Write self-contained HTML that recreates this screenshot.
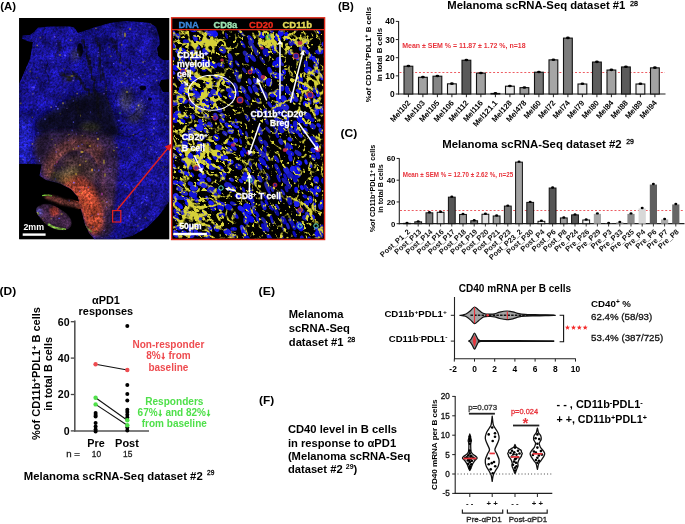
<!DOCTYPE html>
<html><head><meta charset="utf-8"><style>
html,body{margin:0;padding:0;background:#fff;}
svg{display:block;will-change:transform;font-family:"Liberation Sans",sans-serif;}
</style></head><body>
<svg width="685" height="524" viewBox="0 0 685 524">
<rect width="685" height="524" fill="#ffffff"/>
<defs>
<filter id="bl1" x="-20%" y="-20%" width="140%" height="140%"><feGaussianBlur stdDeviation="1.2"/></filter>
<filter id="bl2" x="-30%" y="-30%" width="160%" height="160%"><feGaussianBlur stdDeviation="2.5"/></filter>
<filter id="bl4" x="-30%" y="-30%" width="160%" height="160%"><feGaussianBlur stdDeviation="4"/></filter>
<filter id="bl05"><feGaussianBlur stdDeviation="0.35"/></filter>
<filter id="grain" x="0" y="0" width="100%" height="100%">
 <feTurbulence type="fractalNoise" baseFrequency="0.55" numOctaves="2" seed="4" result="t"/>
 <feColorMatrix in="t" type="matrix" values="0 0 0 0 0  0 0 0 0 0  0 0 0 0 0  0 0 0 -2.2 1.25"/>
</filter>
<filter id="grain2" x="0" y="0" width="100%" height="100%">
 <feTurbulence type="fractalNoise" baseFrequency="0.18" numOctaves="3" seed="9" result="t"/>
 <feColorMatrix in="t" type="matrix" values="0 0 0 0 0  0 0 0 0 0  0 0 0 0 0  0 0 0 -2.6 1.3"/>
</filter>
<clipPath id="clipL"><rect x="19.2" y="18" width="150" height="221.2"/></clipPath>
<clipPath id="clipR"><rect x="173" y="30.6" width="150.2" height="207.6"/></clipPath>
<clipPath id="cL"><rect x="170" y="28" width="72" height="215"/></clipPath>
<clipPath id="cRt"><rect x="242" y="28" width="85" height="215"/></clipPath>
</defs>
<rect x="19.2" y="18" width="150" height="221.2" fill="#000"/>
<defs><filter id="ltex" filterUnits="userSpaceOnUse" x="19" y="18" width="151" height="222" color-interpolation-filters="sRGB"><feTurbulence type="fractalNoise" baseFrequency="0.45" numOctaves="3" seed="2"/><feColorMatrix type="matrix" values="1 0 0 0 0  1 0 0 0 0  1 0 0 0 0  0 0 0 0 1" result="n"/><feComposite in="SourceGraphic" in2="n" operator="arithmetic" k1="1.3" k2="0.32" k3="0" k4="0" result="a"/><feTurbulence type="fractalNoise" baseFrequency="0.08" numOctaves="2" seed="5"/><feColorMatrix type="matrix" values="1 0 0 0 0  1 0 0 0 0  1 0 0 0 0  0 0 0 0 1" result="n2"/><feComposite in="a" in2="n2" operator="arithmetic" k1="1.1" k2="0.45" k3="0" k4="0"/></filter><filter id="bl3" x="-30%" y="-30%" width="160%" height="160%"><feGaussianBlur stdDeviation="3"/></filter><filter id="bl6" x="-40%" y="-40%" width="180%" height="180%"><feGaussianBlur stdDeviation="6"/></filter></defs>
<g clip-path="url(#clipL)">
<g filter="url(#ltex)">
<rect x="19.2" y="18" width="150" height="221.2" fill="#000"/>
<clipPath id="tclip"><path d="M38.0,27.5 L50.0,26.5 L70.0,26.5 L74.0,27.5 L78.0,33.0 L84.0,31.0 L94.0,27.5 L110.0,23.0 L125.0,21.0 L140.0,22.0 L150.0,23.0 L156.0,27.0 L159.0,36.0 L160.0,44.0 L157.0,48.0 L158.0,56.0 L163.0,60.0 L170.0,60.0 L170.0,79.0 L161.0,80.0 L159.0,85.0 L163.0,92.0 L170.0,92.0 L170.0,200.0 L164.0,209.0 L157.6,217.0 L147.0,227.6 L132.0,236.0 L115.0,240.0 L95.0,240.0 L89.0,233.0 L85.0,224.0 L81.5,211.0 L78.0,197.0 L71.0,189.0 L60.0,183.6 L46.0,180.0 L39.5,175.7 L41.7,164.3 L30.0,164.0 L19.0,164.0 L19.0,84.0 L21.9,78.0 L25.7,68.9 L30.3,58.2 L33.0,42.0 L27.0,41.0 L22.0,38.5 L22.5,35.5 L30.0,35.0 L34.0,32.0Z"/><path d="M36.0,210.0 C36.0,207.8 37.7,206.0 40.0,205.0 C42.3,204.0 46.7,203.3 50.0,204.0 C53.3,204.7 57.0,207.2 60.0,209.0 C63.0,210.8 66.0,212.7 68.0,215.0 C70.0,217.3 72.0,220.7 72.0,223.0 C72.0,225.3 70.3,227.8 68.0,229.0 C65.7,230.2 61.3,230.5 58.0,230.0 C54.7,229.5 51.0,228.0 48.0,226.0 C45.0,224.0 42.0,220.7 40.0,218.0 C38.0,215.3 36.0,212.2 36.0,210.0Z"/><path d="M42.0,195.0 C42.7,193.5 49.8,193.5 54.0,194.0 C58.2,194.5 62.3,196.5 67.0,198.0 C71.7,199.5 79.8,201.2 82.0,203.0 C84.2,204.8 83.0,208.3 80.0,209.0 C77.0,209.7 69.0,208.0 64.0,207.0 C59.0,206.0 53.7,205.0 50.0,203.0 C46.3,201.0 41.3,196.5 42.0,195.0Z"/></clipPath>
<path d="M38.0,27.5 L50.0,26.5 L70.0,26.5 L74.0,27.5 L78.0,33.0 L84.0,31.0 L94.0,27.5 L110.0,23.0 L125.0,21.0 L140.0,22.0 L150.0,23.0 L156.0,27.0 L159.0,36.0 L160.0,44.0 L157.0,48.0 L158.0,56.0 L163.0,60.0 L170.0,60.0 L170.0,79.0 L161.0,80.0 L159.0,85.0 L163.0,92.0 L170.0,92.0 L170.0,200.0 L164.0,209.0 L157.6,217.0 L147.0,227.6 L132.0,236.0 L115.0,240.0 L95.0,240.0 L89.0,233.0 L85.0,224.0 L81.5,211.0 L78.0,197.0 L71.0,189.0 L60.0,183.6 L46.0,180.0 L39.5,175.7 L41.7,164.3 L30.0,164.0 L19.0,164.0 L19.0,84.0 L21.9,78.0 L25.7,68.9 L30.3,58.2 L33.0,42.0 L27.0,41.0 L22.0,38.5 L22.5,35.5 L30.0,35.0 L34.0,32.0Z" fill="#13107e"/>
<g clip-path="url(#tclip)">
<path d="M24.0,45.0 C27.8,33.7 36.0,34.5 45.0,32.0 C54.0,29.5 72.2,27.0 78.0,30.0 C83.8,33.0 81.0,41.7 80.0,50.0 C79.0,58.3 75.0,72.0 72.0,80.0 C69.0,88.0 67.3,93.3 62.0,98.0 C56.7,102.7 46.7,107.7 40.0,108.0 C33.3,108.3 24.7,110.5 22.0,100.0 C19.3,89.5 20.2,56.3 24.0,45.0Z" fill="#1c18a0" opacity="0.75" filter="url(#bl3)"/>
<path d="M112.0,32.0 C117.7,26.3 142.3,21.3 150.0,26.0 C157.7,30.7 156.0,44.3 158.0,60.0 C160.0,75.7 163.3,107.3 162.0,120.0 C160.7,132.7 156.2,134.0 150.0,136.0 C143.8,138.0 131.3,138.0 125.0,132.0 C118.7,126.0 113.5,112.0 112.0,100.0 C110.5,88.0 116.0,71.3 116.0,60.0 C116.0,48.7 106.3,37.7 112.0,32.0Z" fill="#1a169c" opacity="0.7" filter="url(#bl3)"/>
<path d="M122.0,150.0 C130.2,141.7 157.7,131.7 165.0,140.0 C172.3,148.3 168.5,186.3 166.0,200.0 C163.5,213.7 156.8,217.3 150.0,222.0 C143.2,226.7 130.7,233.3 125.0,228.0 C119.3,222.7 116.5,203.0 116.0,190.0 C115.5,177.0 113.8,158.3 122.0,150.0Z" fill="#1c189e" opacity="0.75" filter="url(#bl3)"/>
<path d="M19.0,120.0 C20.7,113.0 27.3,113.0 29.0,120.0 C30.7,127.0 30.7,155.0 29.0,162.0 C27.3,169.0 20.7,169.0 19.0,162.0 C17.3,155.0 17.3,127.0 19.0,120.0Z" fill="#2424c0" opacity="1.0" filter="url(#bl3)"/>
<path d="M72.0,98.0 C80.3,94.7 93.3,90.3 100.0,92.0 C106.7,93.7 109.0,100.8 112.0,108.0 C115.0,115.2 120.0,129.3 118.0,135.0 C116.0,140.7 108.0,141.2 100.0,142.0 C92.0,142.8 79.2,141.0 70.0,140.0 C60.8,139.0 50.7,138.7 45.0,136.0 C39.3,133.3 35.2,128.0 36.0,124.0 C36.8,120.0 44.0,116.3 50.0,112.0 C56.0,107.7 63.7,101.3 72.0,98.0Z" fill="#100c24" opacity="0.95" filter="url(#bl3)"/>
<line x1="82.3" y1="40.3" x2="84.1" y2="42.6" stroke="#0e0c16" stroke-width="4.5" stroke-linecap="round" opacity="0.7" filter="url(#bl1)"/>
<line x1="84.1" y1="42.6" x2="84.5" y2="46.8" stroke="#0e0c16" stroke-width="4.9" stroke-linecap="round" opacity="0.7" filter="url(#bl1)"/>
<line x1="84.5" y1="46.8" x2="86.5" y2="48.4" stroke="#0e0c16" stroke-width="3.9" stroke-linecap="round" opacity="0.7" filter="url(#bl1)"/>
<line x1="86.5" y1="48.4" x2="86.5" y2="52.2" stroke="#0e0c16" stroke-width="3.5" stroke-linecap="round" opacity="0.7" filter="url(#bl1)"/>
<line x1="86.5" y1="52.2" x2="86.8" y2="55.9" stroke="#0e0c16" stroke-width="3.2" stroke-linecap="round" opacity="0.7" filter="url(#bl1)"/>
<line x1="86.8" y1="55.9" x2="87.6" y2="57.9" stroke="#0e0c16" stroke-width="7.2" stroke-linecap="round" opacity="0.7" filter="url(#bl1)"/>
<line x1="87.6" y1="57.9" x2="89.8" y2="61.3" stroke="#0e0c16" stroke-width="6.6" stroke-linecap="round" opacity="0.7" filter="url(#bl1)"/>
<line x1="89.8" y1="61.3" x2="88.3" y2="63.6" stroke="#0e0c16" stroke-width="5.7" stroke-linecap="round" opacity="0.7" filter="url(#bl1)"/>
<line x1="88.3" y1="63.6" x2="90.0" y2="67.1" stroke="#0e0c16" stroke-width="3.6" stroke-linecap="round" opacity="0.7" filter="url(#bl1)"/>
<line x1="90.0" y1="67.1" x2="91.4" y2="72.5" stroke="#0e0c16" stroke-width="3.7" stroke-linecap="round" opacity="0.7" filter="url(#bl1)"/>
<line x1="91.4" y1="72.5" x2="91.7" y2="76.7" stroke="#0e0c16" stroke-width="3.6" stroke-linecap="round" opacity="0.7" filter="url(#bl1)"/>
<line x1="91.7" y1="76.7" x2="94.5" y2="80.1" stroke="#0e0c16" stroke-width="4.5" stroke-linecap="round" opacity="0.7" filter="url(#bl1)"/>
<line x1="94.5" y1="80.1" x2="94.7" y2="83.7" stroke="#0e0c16" stroke-width="3.3" stroke-linecap="round" opacity="0.7" filter="url(#bl1)"/>
<line x1="94.7" y1="83.7" x2="93.4" y2="90.0" stroke="#0e0c16" stroke-width="4.3" stroke-linecap="round" opacity="0.7" filter="url(#bl1)"/>
<line x1="93.4" y1="90.0" x2="95.2" y2="92.9" stroke="#0e0c16" stroke-width="4.0" stroke-linecap="round" opacity="0.7" filter="url(#bl1)"/>
<line x1="95.2" y1="92.9" x2="98.4" y2="98.5" stroke="#0e0c16" stroke-width="3.9" stroke-linecap="round" opacity="0.7" filter="url(#bl1)"/>
<line x1="98.4" y1="98.5" x2="96.6" y2="102.6" stroke="#0e0c16" stroke-width="6.1" stroke-linecap="round" opacity="0.7" filter="url(#bl1)"/>
<line x1="96.6" y1="102.6" x2="98.1" y2="107.5" stroke="#0e0c16" stroke-width="5.2" stroke-linecap="round" opacity="0.7" filter="url(#bl1)"/>
<line x1="98.1" y1="107.5" x2="98.2" y2="113.0" stroke="#0e0c16" stroke-width="5.3" stroke-linecap="round" opacity="0.7" filter="url(#bl1)"/>
<line x1="98.2" y1="113.0" x2="101.0" y2="118.0" stroke="#0e0c16" stroke-width="4.7" stroke-linecap="round" opacity="0.7" filter="url(#bl1)"/>
<line x1="96.1" y1="36.6" x2="96.1" y2="38.6" stroke="#0e0c16" stroke-width="3.8" stroke-linecap="round" opacity="0.7" filter="url(#bl1)"/>
<line x1="96.1" y1="38.6" x2="97.4" y2="42.8" stroke="#0e0c16" stroke-width="3.0" stroke-linecap="round" opacity="0.7" filter="url(#bl1)"/>
<line x1="97.4" y1="42.8" x2="99.3" y2="45.7" stroke="#0e0c16" stroke-width="5.0" stroke-linecap="round" opacity="0.7" filter="url(#bl1)"/>
<line x1="99.3" y1="45.7" x2="100.3" y2="49.0" stroke="#0e0c16" stroke-width="5.3" stroke-linecap="round" opacity="0.7" filter="url(#bl1)"/>
<line x1="100.3" y1="49.0" x2="99.4" y2="53.4" stroke="#0e0c16" stroke-width="3.7" stroke-linecap="round" opacity="0.7" filter="url(#bl1)"/>
<line x1="99.4" y1="53.4" x2="98.8" y2="57.8" stroke="#0e0c16" stroke-width="2.2" stroke-linecap="round" opacity="0.7" filter="url(#bl1)"/>
<line x1="98.8" y1="57.8" x2="100.5" y2="59.8" stroke="#0e0c16" stroke-width="3.4" stroke-linecap="round" opacity="0.7" filter="url(#bl1)"/>
<line x1="100.5" y1="59.8" x2="100.0" y2="64.2" stroke="#0e0c16" stroke-width="4.8" stroke-linecap="round" opacity="0.7" filter="url(#bl1)"/>
<line x1="100.0" y1="64.2" x2="98.6" y2="67.2" stroke="#0e0c16" stroke-width="3.2" stroke-linecap="round" opacity="0.7" filter="url(#bl1)"/>
<line x1="98.6" y1="67.2" x2="100.9" y2="72.5" stroke="#0e0c16" stroke-width="2.5" stroke-linecap="round" opacity="0.7" filter="url(#bl1)"/>
<line x1="100.9" y1="72.5" x2="100.6" y2="75.8" stroke="#0e0c16" stroke-width="2.7" stroke-linecap="round" opacity="0.7" filter="url(#bl1)"/>
<line x1="100.6" y1="75.8" x2="101.0" y2="80.0" stroke="#0e0c16" stroke-width="4.5" stroke-linecap="round" opacity="0.7" filter="url(#bl1)"/>
<line x1="72.4" y1="71.6" x2="73.9" y2="74.0" stroke="#0e0c16" stroke-width="2.7" stroke-linecap="round" opacity="0.7" filter="url(#bl1)"/>
<line x1="73.9" y1="74.0" x2="76.7" y2="75.7" stroke="#0e0c16" stroke-width="6.0" stroke-linecap="round" opacity="0.7" filter="url(#bl1)"/>
<line x1="76.7" y1="75.7" x2="76.3" y2="77.1" stroke="#0e0c16" stroke-width="5.4" stroke-linecap="round" opacity="0.7" filter="url(#bl1)"/>
<line x1="76.3" y1="77.1" x2="79.5" y2="78.7" stroke="#0e0c16" stroke-width="4.6" stroke-linecap="round" opacity="0.7" filter="url(#bl1)"/>
<line x1="79.5" y1="78.7" x2="80.4" y2="80.2" stroke="#0e0c16" stroke-width="6.2" stroke-linecap="round" opacity="0.7" filter="url(#bl1)"/>
<line x1="80.4" y1="80.2" x2="81.0" y2="82.7" stroke="#0e0c16" stroke-width="5.0" stroke-linecap="round" opacity="0.7" filter="url(#bl1)"/>
<line x1="81.0" y1="82.7" x2="83.0" y2="84.4" stroke="#0e0c16" stroke-width="2.4" stroke-linecap="round" opacity="0.7" filter="url(#bl1)"/>
<line x1="83.0" y1="84.4" x2="83.0" y2="85.2" stroke="#0e0c16" stroke-width="6.0" stroke-linecap="round" opacity="0.7" filter="url(#bl1)"/>
<line x1="83.0" y1="85.2" x2="85.2" y2="88.7" stroke="#0e0c16" stroke-width="4.0" stroke-linecap="round" opacity="0.7" filter="url(#bl1)"/>
<line x1="85.2" y1="88.7" x2="88.3" y2="90.4" stroke="#0e0c16" stroke-width="5.9" stroke-linecap="round" opacity="0.7" filter="url(#bl1)"/>
<line x1="88.3" y1="90.4" x2="88.9" y2="94.4" stroke="#0e0c16" stroke-width="5.5" stroke-linecap="round" opacity="0.7" filter="url(#bl1)"/>
<line x1="88.9" y1="94.4" x2="92.0" y2="96.0" stroke="#0e0c16" stroke-width="2.9" stroke-linecap="round" opacity="0.7" filter="url(#bl1)"/>
<line x1="60.3" y1="73.0" x2="64.0" y2="75.1" stroke="#0e0c16" stroke-width="4.2" stroke-linecap="round" opacity="0.7" filter="url(#bl1)"/>
<line x1="64.0" y1="75.1" x2="63.0" y2="74.2" stroke="#0e0c16" stroke-width="3.2" stroke-linecap="round" opacity="0.7" filter="url(#bl1)"/>
<line x1="63.0" y1="74.2" x2="64.5" y2="76.1" stroke="#0e0c16" stroke-width="2.5" stroke-linecap="round" opacity="0.7" filter="url(#bl1)"/>
<line x1="64.5" y1="76.1" x2="66.9" y2="76.7" stroke="#0e0c16" stroke-width="3.2" stroke-linecap="round" opacity="0.7" filter="url(#bl1)"/>
<line x1="66.9" y1="76.7" x2="68.9" y2="77.5" stroke="#0e0c16" stroke-width="3.2" stroke-linecap="round" opacity="0.7" filter="url(#bl1)"/>
<line x1="68.9" y1="77.5" x2="69.7" y2="77.0" stroke="#0e0c16" stroke-width="3.8" stroke-linecap="round" opacity="0.7" filter="url(#bl1)"/>
<line x1="69.7" y1="77.0" x2="68.0" y2="79.7" stroke="#0e0c16" stroke-width="3.6" stroke-linecap="round" opacity="0.7" filter="url(#bl1)"/>
<line x1="68.0" y1="79.7" x2="71.0" y2="80.0" stroke="#0e0c16" stroke-width="2.8" stroke-linecap="round" opacity="0.7" filter="url(#bl1)"/>
<line x1="102.5" y1="69.4" x2="103.2" y2="74.2" stroke="#0e0c16" stroke-width="2.2" stroke-linecap="round" opacity="0.7" filter="url(#bl1)"/>
<line x1="103.2" y1="74.2" x2="104.7" y2="79.3" stroke="#0e0c16" stroke-width="3.5" stroke-linecap="round" opacity="0.7" filter="url(#bl1)"/>
<line x1="104.7" y1="79.3" x2="106.6" y2="85.1" stroke="#0e0c16" stroke-width="1.5" stroke-linecap="round" opacity="0.7" filter="url(#bl1)"/>
<line x1="106.6" y1="85.1" x2="105.9" y2="90.3" stroke="#0e0c16" stroke-width="2.6" stroke-linecap="round" opacity="0.7" filter="url(#bl1)"/>
<line x1="105.9" y1="90.3" x2="106.0" y2="94.0" stroke="#0e0c16" stroke-width="2.4" stroke-linecap="round" opacity="0.7" filter="url(#bl1)"/>
<line x1="106.0" y1="94.0" x2="106.5" y2="99.7" stroke="#0e0c16" stroke-width="2.2" stroke-linecap="round" opacity="0.7" filter="url(#bl1)"/>
<line x1="106.5" y1="99.7" x2="108.5" y2="104.5" stroke="#0e0c16" stroke-width="3.2" stroke-linecap="round" opacity="0.7" filter="url(#bl1)"/>
<line x1="108.5" y1="104.5" x2="110.0" y2="110.0" stroke="#0e0c16" stroke-width="2.0" stroke-linecap="round" opacity="0.7" filter="url(#bl1)"/>
<line x1="110.4" y1="39.3" x2="115.2" y2="42.2" stroke="#0e0c16" stroke-width="3.6" stroke-linecap="round" opacity="0.7" filter="url(#bl1)"/>
<line x1="115.2" y1="42.2" x2="113.6" y2="45.9" stroke="#0e0c16" stroke-width="1.7" stroke-linecap="round" opacity="0.7" filter="url(#bl1)"/>
<line x1="113.6" y1="45.9" x2="117.0" y2="48.4" stroke="#0e0c16" stroke-width="3.0" stroke-linecap="round" opacity="0.7" filter="url(#bl1)"/>
<line x1="117.0" y1="48.4" x2="117.4" y2="50.6" stroke="#0e0c16" stroke-width="2.0" stroke-linecap="round" opacity="0.7" filter="url(#bl1)"/>
<line x1="117.4" y1="50.6" x2="116.8" y2="52.5" stroke="#0e0c16" stroke-width="2.0" stroke-linecap="round" opacity="0.7" filter="url(#bl1)"/>
<line x1="116.8" y1="52.5" x2="120.1" y2="56.0" stroke="#0e0c16" stroke-width="3.6" stroke-linecap="round" opacity="0.7" filter="url(#bl1)"/>
<line x1="120.1" y1="56.0" x2="120.5" y2="58.8" stroke="#0e0c16" stroke-width="2.5" stroke-linecap="round" opacity="0.7" filter="url(#bl1)"/>
<line x1="120.5" y1="58.8" x2="120.0" y2="62.0" stroke="#0e0c16" stroke-width="3.5" stroke-linecap="round" opacity="0.7" filter="url(#bl1)"/>
<line x1="57.2" y1="40.5" x2="60.0" y2="42.8" stroke="#0e0c16" stroke-width="2.4" stroke-linecap="round" opacity="0.7" filter="url(#bl1)"/>
<line x1="60.0" y1="42.8" x2="58.0" y2="45.3" stroke="#0e0c16" stroke-width="2.6" stroke-linecap="round" opacity="0.7" filter="url(#bl1)"/>
<line x1="58.0" y1="45.3" x2="61.1" y2="48.1" stroke="#0e0c16" stroke-width="1.9" stroke-linecap="round" opacity="0.7" filter="url(#bl1)"/>
<line x1="61.1" y1="48.1" x2="59.8" y2="49.8" stroke="#0e0c16" stroke-width="2.5" stroke-linecap="round" opacity="0.7" filter="url(#bl1)"/>
<line x1="59.8" y1="49.8" x2="57.6" y2="52.5" stroke="#0e0c16" stroke-width="3.3" stroke-linecap="round" opacity="0.7" filter="url(#bl1)"/>
<line x1="57.6" y1="52.5" x2="56.8" y2="53.4" stroke="#0e0c16" stroke-width="1.7" stroke-linecap="round" opacity="0.7" filter="url(#bl1)"/>
<line x1="56.8" y1="53.4" x2="55.3" y2="55.3" stroke="#0e0c16" stroke-width="1.8" stroke-linecap="round" opacity="0.7" filter="url(#bl1)"/>
<line x1="55.3" y1="55.3" x2="56.0" y2="58.0" stroke="#0e0c16" stroke-width="2.8" stroke-linecap="round" opacity="0.7" filter="url(#bl1)"/>
<line x1="71.5" y1="96.8" x2="71.7" y2="97.2" stroke="#0e0c16" stroke-width="3.4" stroke-linecap="round" opacity="0.7" filter="url(#bl1)"/>
<line x1="71.7" y1="97.2" x2="74.3" y2="101.0" stroke="#0e0c16" stroke-width="2.6" stroke-linecap="round" opacity="0.7" filter="url(#bl1)"/>
<line x1="74.3" y1="101.0" x2="75.9" y2="102.1" stroke="#0e0c16" stroke-width="3.1" stroke-linecap="round" opacity="0.7" filter="url(#bl1)"/>
<line x1="75.9" y1="102.1" x2="75.6" y2="104.2" stroke="#0e0c16" stroke-width="4.4" stroke-linecap="round" opacity="0.7" filter="url(#bl1)"/>
<line x1="75.6" y1="104.2" x2="78.0" y2="107.5" stroke="#0e0c16" stroke-width="2.5" stroke-linecap="round" opacity="0.7" filter="url(#bl1)"/>
<line x1="78.0" y1="107.5" x2="78.0" y2="109.0" stroke="#0e0c16" stroke-width="2.5" stroke-linecap="round" opacity="0.7" filter="url(#bl1)"/>
<line x1="78.0" y1="109.0" x2="78.3" y2="111.6" stroke="#0e0c16" stroke-width="2.7" stroke-linecap="round" opacity="0.7" filter="url(#bl1)"/>
<line x1="78.3" y1="111.6" x2="80.0" y2="114.0" stroke="#0e0c16" stroke-width="4.3" stroke-linecap="round" opacity="0.7" filter="url(#bl1)"/>
<ellipse cx="143" cy="88" rx="3.2" ry="2.4" fill="#06050c" opacity="0.9" filter="url(#bl05)"/>
<ellipse cx="150" cy="99" rx="2.0" ry="1.6" fill="#06050c" opacity="0.9" filter="url(#bl05)"/>
<ellipse cx="80" cy="50" rx="3" ry="7" fill="#06050c" opacity="0.9" filter="url(#bl05)"/>
<ellipse cx="75" cy="55" rx="4" ry="6" fill="#5a5a20" opacity="0.45" filter="url(#bl2)"/>
<ellipse cx="69" cy="78" rx="6" ry="3" fill="#5a5a20" opacity="0.45" filter="url(#bl2)"/>
<ellipse cx="126" cy="100" rx="7" ry="12" fill="#5a5a20" opacity="0.45" filter="url(#bl2)"/>
<ellipse cx="134" cy="118" rx="7" ry="5" fill="#5a5a20" opacity="0.45" filter="url(#bl2)"/>
<ellipse cx="140" cy="108" rx="4" ry="8" fill="#5a5a20" opacity="0.45" filter="url(#bl2)"/>
<ellipse cx="90" cy="128" rx="10" ry="5" fill="#5a5a20" opacity="0.45" filter="url(#bl2)"/>
<ellipse cx="121" cy="33" rx="2" ry="4" fill="#5a5a20" opacity="0.45" filter="url(#bl2)"/>
<g clip-path="url(#tclip)">
<path d="M45.8,168.7 L44.1,162.0 L42.2,155.4 L38.8,151.5 L37.8,148.6 L39.2,144.1 L37.9,138.2" stroke="#0c0a24" stroke-width="1.3" fill="none" opacity="0.5" stroke-linejoin="round" filter="url(#bl05)"/>
<path d="M121.9,117.1 L125.0,117.5 L130.0,117.0 L135.4,112.9 L137.9,110.2 L141.1,108.9 L145.8,109.9" stroke="#0c0a24" stroke-width="1.0" fill="none" opacity="0.5" stroke-linejoin="round" filter="url(#bl05)"/>
<path d="M71.4,126.9 L74.1,132.6 L77.3,134.5 L81.7,138.9" stroke="#0c0a24" stroke-width="1.1" fill="none" opacity="0.5" stroke-linejoin="round" filter="url(#bl05)"/>
<path d="M158.7,211.1 L162.7,208.3 L166.5,207.7 L172.4,210.6" stroke="#0c0a24" stroke-width="0.9" fill="none" opacity="0.5" stroke-linejoin="round" filter="url(#bl05)"/>
<path d="M74.6,120.1 L72.6,122.5 L71.9,128.3 L68.3,131.7 L64.5,135.3 L61.0,136.9 L55.9,138.3" stroke="#0c0a24" stroke-width="1.1" fill="none" opacity="0.5" stroke-linejoin="round" filter="url(#bl05)"/>
<path d="M48.0,62.7 L45.9,67.7 L45.5,71.0 L48.3,76.6 L48.7,81.1 L47.8,86.7" stroke="#0c0a24" stroke-width="1.3" fill="none" opacity="0.5" stroke-linejoin="round" filter="url(#bl05)"/>
<path d="M160.0,111.0 L164.4,113.3 L168.3,114.4 L170.7,117.1" stroke="#0c0a24" stroke-width="0.7" fill="none" opacity="0.5" stroke-linejoin="round" filter="url(#bl05)"/>
<path d="M138.0,185.9 L135.0,188.6 L132.6,192.6 L132.3,195.9 L133.2,202.4 L130.2,207.5" stroke="#0c0a24" stroke-width="1.0" fill="none" opacity="0.5" stroke-linejoin="round" filter="url(#bl05)"/>
<path d="M58.3,223.6 L54.9,225.5 L48.8,225.6 L44.0,223.0 L39.1,220.9 L36.5,217.6 L34.1,214.3" stroke="#0c0a24" stroke-width="1.2" fill="none" opacity="0.5" stroke-linejoin="round" filter="url(#bl05)"/>
<path d="M23.5,167.8 L27.0,165.3 L30.8,159.7 L33.5,154.6" stroke="#0c0a24" stroke-width="1.2" fill="none" opacity="0.5" stroke-linejoin="round" filter="url(#bl05)"/>
<path d="M138.9,56.3 L141.9,57.2 L145.3,58.1 L149.4,62.0 L154.4,63.2 L159.4,63.2 L162.8,61.8" stroke="#0c0a24" stroke-width="0.7" fill="none" opacity="0.5" stroke-linejoin="round" filter="url(#bl05)"/>
<path d="M76.4,172.8 L71.9,170.6 L69.7,168.3 L68.9,163.8" stroke="#0c0a24" stroke-width="1.3" fill="none" opacity="0.5" stroke-linejoin="round" filter="url(#bl05)"/>
<path d="M79.3,143.7 L81.1,138.1 L81.2,135.0 L80.7,130.8 L82.6,127.0" stroke="#0c0a24" stroke-width="1.0" fill="none" opacity="0.5" stroke-linejoin="round" filter="url(#bl05)"/>
<path d="M101.1,221.4 L105.9,224.9 L107.1,229.0 L107.1,234.1" stroke="#0c0a24" stroke-width="1.0" fill="none" opacity="0.5" stroke-linejoin="round" filter="url(#bl05)"/>
<path d="M31.2,194.2 L35.3,190.3 L39.4,185.4 L43.8,182.0 L50.5,180.5 L57.2,179.0" stroke="#0c0a24" stroke-width="1.1" fill="none" opacity="0.5" stroke-linejoin="round" filter="url(#bl05)"/>
<path d="M123.6,124.1 L120.9,125.6 L117.9,126.5 L113.5,129.6 L110.0,132.8 L105.7,134.3 L102.4,136.4" stroke="#0c0a24" stroke-width="1.3" fill="none" opacity="0.5" stroke-linejoin="round" filter="url(#bl05)"/>
<path d="M116.2,35.6 L117.4,42.1 L116.3,47.5 L113.2,52.2 L108.1,55.0 L104.2,56.0" stroke="#0c0a24" stroke-width="1.3" fill="none" opacity="0.5" stroke-linejoin="round" filter="url(#bl05)"/>
<path d="M77.6,153.4 L77.6,149.6 L80.5,144.5 L80.3,140.8" stroke="#0c0a24" stroke-width="1.0" fill="none" opacity="0.5" stroke-linejoin="round" filter="url(#bl05)"/>
<path d="M111.3,104.6 L113.5,101.6 L116.4,96.8 L118.4,91.8" stroke="#0c0a24" stroke-width="0.8" fill="none" opacity="0.5" stroke-linejoin="round" filter="url(#bl05)"/>
<path d="M33.8,33.8 L29.8,30.8 L24.3,29.2 L21.3,27.2 L17.1,25.2" stroke="#0c0a24" stroke-width="1.0" fill="none" opacity="0.5" stroke-linejoin="round" filter="url(#bl05)"/>
<path d="M117.9,164.6 L111.8,161.3 L107.4,160.9 L101.1,159.2 L97.9,158.9 L93.4,158.0" stroke="#0c0a24" stroke-width="1.0" fill="none" opacity="0.5" stroke-linejoin="round" filter="url(#bl05)"/>
<path d="M86.7,230.1 L89.3,226.7 L92.8,221.2 L94.1,217.9 L98.6,213.5" stroke="#0c0a24" stroke-width="1.0" fill="none" opacity="0.5" stroke-linejoin="round" filter="url(#bl05)"/>
<path d="M29.1,66.3 L25.7,71.5 L19.9,74.8 L16.8,74.7 L13.5,74.3" stroke="#0c0a24" stroke-width="1.3" fill="none" opacity="0.5" stroke-linejoin="round" filter="url(#bl05)"/>
<path d="M129.6,182.9 L131.5,187.6 L133.2,192.3 L133.7,198.0" stroke="#0c0a24" stroke-width="0.7" fill="none" opacity="0.5" stroke-linejoin="round" filter="url(#bl05)"/>
<path d="M44.1,86.7 L43.6,83.5 L40.2,79.8 L38.4,76.5" stroke="#0c0a24" stroke-width="0.8" fill="none" opacity="0.5" stroke-linejoin="round" filter="url(#bl05)"/>
<path d="M30.5,35.6 L27.5,37.2 L22.3,36.8 L16.6,37.0 L11.7,35.6 L5.7,37.5 L3.3,39.5" stroke="#0c0a24" stroke-width="0.9" fill="none" opacity="0.5" stroke-linejoin="round" filter="url(#bl05)"/>
<path d="M98.7,156.2 L100.4,159.4 L100.4,165.6 L97.3,170.4 L96.2,176.4 L92.7,180.2" stroke="#0c0a24" stroke-width="1.3" fill="none" opacity="0.5" stroke-linejoin="round" filter="url(#bl05)"/>
<path d="M161.7,107.6 L163.9,103.8 L167.3,99.5 L172.1,96.7 L175.7,91.0 L179.4,85.6" stroke="#0c0a24" stroke-width="0.8" fill="none" opacity="0.5" stroke-linejoin="round" filter="url(#bl05)"/>
<path d="M165.7,141.2 L168.4,138.2 L171.7,135.4 L177.5,132.5 L184.1,130.1 L190.7,131.6" stroke="#0c0a24" stroke-width="1.2" fill="none" opacity="0.5" stroke-linejoin="round" filter="url(#bl05)"/>
<path d="M163.7,179.0 L166.4,174.6 L170.9,172.3 L173.0,169.0 L175.5,164.0" stroke="#0c0a24" stroke-width="1.2" fill="none" opacity="0.5" stroke-linejoin="round" filter="url(#bl05)"/>
<path d="M130.2,160.8 L128.4,164.2 L127.1,167.1 L124.0,169.3 L119.7,170.3 L115.7,171.5 L113.0,174.3" stroke="#0c0a24" stroke-width="0.7" fill="none" opacity="0.5" stroke-linejoin="round" filter="url(#bl05)"/>
<path d="M42.5,34.7 L44.4,28.0 L43.8,24.1 L45.0,17.9 L45.5,14.8 L45.3,8.5" stroke="#0c0a24" stroke-width="1.0" fill="none" opacity="0.5" stroke-linejoin="round" filter="url(#bl05)"/>
<path d="M88.5,107.4 L86.9,101.6 L85.3,98.0 L85.1,91.8" stroke="#0c0a24" stroke-width="1.3" fill="none" opacity="0.5" stroke-linejoin="round" filter="url(#bl05)"/>
<path d="M50.6,200.9 L54.4,199.6 L58.3,195.0 L61.6,194.1" stroke="#0c0a24" stroke-width="1.1" fill="none" opacity="0.5" stroke-linejoin="round" filter="url(#bl05)"/>
<path d="M115.0,132.8 L120.2,135.3 L125.7,136.5 L129.4,136.6 L132.3,135.2 L136.9,134.3 L141.8,129.9" stroke="#0c0a24" stroke-width="1.1" fill="none" opacity="0.5" stroke-linejoin="round" filter="url(#bl05)"/>
<path d="M25.0,175.8 L20.7,173.0 L16.9,170.2 L10.1,170.4 L6.2,172.7 L1.6,175.9 L-3.5,177.4" stroke="#0c0a24" stroke-width="1.0" fill="none" opacity="0.5" stroke-linejoin="round" filter="url(#bl05)"/>
<path d="M55.5,201.9 L61.9,200.1 L66.2,200.5 L69.0,199.3 L73.4,195.6" stroke="#0c0a24" stroke-width="0.8" fill="none" opacity="0.5" stroke-linejoin="round" filter="url(#bl05)"/>
<path d="M160.9,121.2 L161.7,127.5 L163.4,130.5 L165.0,133.6" stroke="#0c0a24" stroke-width="0.9" fill="none" opacity="0.5" stroke-linejoin="round" filter="url(#bl05)"/>
<path d="M131.6,69.4 L128.5,67.0 L126.1,64.5 L121.2,62.5" stroke="#0c0a24" stroke-width="1.3" fill="none" opacity="0.5" stroke-linejoin="round" filter="url(#bl05)"/>
<path d="M96.9,163.4 L101.7,167.4 L105.4,172.7 L109.0,176.7 L113.5,177.7 L117.4,180.6" stroke="#0c0a24" stroke-width="0.6" fill="none" opacity="0.5" stroke-linejoin="round" filter="url(#bl05)"/>
<path d="M114.2,186.9 L112.5,191.7 L113.0,196.1 L112.4,201.7 L112.7,207.8 L115.3,211.1 L119.3,212.5" stroke="#0c0a24" stroke-width="1.2" fill="none" opacity="0.5" stroke-linejoin="round" filter="url(#bl05)"/>
<path d="M130.5,58.5 L130.2,64.2 L128.4,66.8 L123.3,70.4" stroke="#0c0a24" stroke-width="1.0" fill="none" opacity="0.5" stroke-linejoin="round" filter="url(#bl05)"/>
<path d="M37.3,226.3 L36.9,229.5 L35.4,234.7 L34.2,240.7 L36.5,245.1 L39.6,247.4" stroke="#0c0a24" stroke-width="0.7" fill="none" opacity="0.5" stroke-linejoin="round" filter="url(#bl05)"/>
<path d="M160.8,30.7 L159.9,26.4 L160.9,22.7 L164.4,17.1 L164.9,12.7 L163.2,8.6 L164.2,3.0" stroke="#0c0a24" stroke-width="0.8" fill="none" opacity="0.5" stroke-linejoin="round" filter="url(#bl05)"/>
<path d="M130.0,170.1 L131.7,166.5 L135.6,164.6 L141.2,160.7" stroke="#0c0a24" stroke-width="0.7" fill="none" opacity="0.5" stroke-linejoin="round" filter="url(#bl05)"/>
</g>
<path d="M38.0,136.0 C42.3,133.0 51.3,132.7 60.0,132.0 C68.7,131.3 81.3,131.0 90.0,132.0 C98.7,133.0 107.3,133.3 112.0,138.0 C116.7,142.7 117.7,149.7 118.0,160.0 C118.3,170.3 115.0,188.0 114.0,200.0 C113.0,212.0 115.0,225.7 112.0,232.0 C109.0,238.3 100.3,239.7 96.0,238.0 C91.7,236.3 88.7,228.3 86.0,222.0 C83.3,215.7 82.7,205.7 80.0,200.0 C77.3,194.3 75.0,191.2 70.0,188.0 C65.0,184.8 55.0,184.3 50.0,181.0 C45.0,177.7 42.7,173.2 40.0,168.0 C37.3,162.8 34.3,155.3 34.0,150.0 C33.7,144.7 33.7,139.0 38.0,136.0Z" fill="#2c1c3a" filter="url(#bl2)"/>
<path d="M46,180 Q48,152 72,143 Q96,138 104,162 Q109,185 106,208" fill="none" stroke="#74403a" stroke-width="9" opacity="0.85" filter="url(#bl3)"/>
<path d="M50,176 Q52,156 72,149 Q92,146 98,164" fill="none" stroke="#985440" stroke-width="3" opacity="0.5" filter="url(#bl1)"/>
<path d="M62.0,160.0 C63.7,157.0 74.7,153.3 80.0,154.0 C85.3,154.7 91.3,159.7 94.0,164.0 C96.7,168.3 97.7,177.3 96.0,180.0 C94.3,182.7 88.3,181.3 84.0,180.0 C79.7,178.7 73.7,175.3 70.0,172.0 C66.3,168.7 60.3,163.0 62.0,160.0Z" fill="#4a3038" filter="url(#bl2)"/>
<path d="M60.0,178.0 C61.3,175.2 70.7,174.0 76.0,175.0 C81.3,176.0 87.8,179.2 92.0,184.0 C96.2,188.8 99.2,197.3 101.0,204.0 C102.8,210.7 103.7,219.0 103.0,224.0 C102.3,229.0 99.3,232.5 97.0,234.0 C94.7,235.5 91.2,235.2 89.0,233.0 C86.8,230.8 85.8,225.5 84.0,221.0 C82.2,216.5 80.7,210.8 78.0,206.0 C75.3,201.2 71.0,196.7 68.0,192.0 C65.0,187.3 58.7,180.8 60.0,178.0Z" fill="#983e2e" filter="url(#bl2)"/>
<path d="M78.0,192.0 C78.5,187.3 86.7,187.7 90.0,190.0 C93.3,192.3 96.3,200.3 98.0,206.0 C99.7,211.7 100.7,220.0 100.0,224.0 C99.3,228.0 96.2,231.0 94.0,230.0 C91.8,229.0 89.7,224.3 87.0,218.0 C84.3,211.7 77.5,196.7 78.0,192.0Z" fill="#c24c32" filter="url(#bl2)"/>
<path d="M102.0,160.0 C102.7,152.3 107.7,149.2 110.0,150.0 C112.3,150.8 115.7,156.7 116.0,165.0 C116.3,173.3 113.7,194.8 112.0,200.0 C110.3,205.2 107.7,202.7 106.0,196.0 C104.3,189.3 101.3,167.7 102.0,160.0Z" fill="#3a2858" opacity="0.8" filter="url(#bl2)"/>
<path d="M80,212 Q82,226 92,232" fill="none" stroke="#70c040" stroke-width="1.5" opacity="0.55" filter="url(#bl05)"/>
<path d="M50.0,176.0 C50.7,173.3 61.0,169.3 66.0,168.0 C71.0,166.7 78.7,166.3 80.0,168.0 C81.3,169.7 77.0,175.3 74.0,178.0 C71.0,180.7 66.0,184.3 62.0,184.0 C58.0,183.7 49.3,178.7 50.0,176.0Z" fill="#6a6030" opacity="0.6" filter="url(#bl2)"/>
<path d="M44.0,197.0 C44.3,196.2 50.3,195.5 54.0,196.0 C57.7,196.5 61.7,198.7 66.0,200.0 C70.3,201.3 78.0,202.8 80.0,204.0 C82.0,205.2 80.7,206.8 78.0,207.0 C75.3,207.2 68.3,206.0 64.0,205.0 C59.7,204.0 55.3,202.3 52.0,201.0 C48.7,199.7 43.7,197.8 44.0,197.0Z" fill="#6a3430" filter="url(#bl1)"/>
<path d="M36.0,210.0 C36.0,207.8 37.7,206.0 40.0,205.0 C42.3,204.0 46.7,203.3 50.0,204.0 C53.3,204.7 57.0,207.2 60.0,209.0 C63.0,210.8 66.0,212.7 68.0,215.0 C70.0,217.3 72.0,220.7 72.0,223.0 C72.0,225.3 70.3,227.8 68.0,229.0 C65.7,230.2 61.3,230.5 58.0,230.0 C54.7,229.5 51.0,228.0 48.0,226.0 C45.0,224.0 42.0,220.7 40.0,218.0 C38.0,215.3 36.0,212.2 36.0,210.0Z" fill="#3a2240" filter="url(#bl1)"/>
<path d="M48,224 Q56,230 66,229" fill="none" stroke="#88d040" stroke-width="2.2" opacity="0.75" filter="url(#bl05)"/>
<path d="M41,196 Q46,194 52,196" fill="none" stroke="#70c038" stroke-width="1.4" opacity="0.65" filter="url(#bl05)"/>
<path d="M35.0,210.0 C35.3,208.7 38.7,207.5 40.0,208.0 C41.3,208.5 43.3,211.7 43.0,213.0 C42.7,214.3 39.3,216.5 38.0,216.0 C36.7,215.5 34.7,211.3 35.0,210.0Z" fill="#5848a0" filter="url(#bl1)"/>
<ellipse cx="37.5" cy="213.5" rx="1.8" ry="1.6" fill="#b0c040" opacity="0.7"/>
<path d="M50.0,208.0 C50.8,206.5 55.5,206.0 57.0,207.0 C58.5,208.0 59.8,212.5 59.0,214.0 C58.2,215.5 53.5,217.0 52.0,216.0 C50.5,215.0 49.2,209.5 50.0,208.0Z" fill="#983830" filter="url(#bl1)"/>
</g>
<g clip-path="url(#tclip)">
<ellipse cx="87.0" cy="142.9" rx="0.8" ry="1.0" fill="#8a7a28" opacity="0.6"/>
<ellipse cx="48.1" cy="195.6" rx="0.9" ry="1.0" fill="#8a7a28" opacity="0.6"/>
<ellipse cx="33.9" cy="87.5" rx="0.8" ry="1.0" fill="#5a58f0" opacity="0.6"/>
<ellipse cx="113.9" cy="150.6" rx="1.1" ry="0.9" fill="#8a7a28" opacity="0.6"/>
<ellipse cx="111.1" cy="56.0" rx="1.0" ry="0.5" fill="#5a58f0" opacity="0.6"/>
<ellipse cx="25.3" cy="212.0" rx="0.5" ry="0.8" fill="#a09030" opacity="0.6"/>
<ellipse cx="85.2" cy="204.0" rx="0.6" ry="0.7" fill="#a09030" opacity="0.6"/>
<ellipse cx="20.7" cy="40.4" rx="0.7" ry="1.1" fill="#6a50c0" opacity="0.6"/>
<ellipse cx="167.4" cy="203.5" rx="0.7" ry="1.0" fill="#6a50c0" opacity="0.6"/>
<ellipse cx="95.9" cy="28.4" rx="1.0" ry="0.7" fill="#a09030" opacity="0.6"/>
<ellipse cx="145.3" cy="105.5" rx="1.0" ry="0.5" fill="#5a58f0" opacity="0.6"/>
<ellipse cx="51.0" cy="218.6" rx="0.7" ry="0.9" fill="#8a7a28" opacity="0.6"/>
<ellipse cx="82.1" cy="144.3" rx="1.0" ry="0.7" fill="#5a58f0" opacity="0.6"/>
<ellipse cx="32.9" cy="93.8" rx="1.0" ry="0.6" fill="#8a7a28" opacity="0.6"/>
<ellipse cx="56.5" cy="43.8" rx="0.8" ry="0.8" fill="#5a58f0" opacity="0.6"/>
<ellipse cx="120.9" cy="62.7" rx="0.6" ry="0.9" fill="#a09030" opacity="0.6"/>
<ellipse cx="39.4" cy="161.0" rx="0.7" ry="1.1" fill="#5a58f0" opacity="0.6"/>
<ellipse cx="20.1" cy="208.7" rx="0.7" ry="1.0" fill="#a09030" opacity="0.6"/>
<ellipse cx="51.2" cy="107.2" rx="0.9" ry="0.6" fill="#a09030" opacity="0.6"/>
<ellipse cx="166.4" cy="68.1" rx="0.5" ry="0.9" fill="#4a48e0" opacity="0.6"/>
<ellipse cx="142.9" cy="105.4" rx="0.6" ry="0.8" fill="#5a58f0" opacity="0.6"/>
<ellipse cx="56.0" cy="151.9" rx="0.9" ry="0.6" fill="#4a48e0" opacity="0.6"/>
<ellipse cx="106.9" cy="201.8" rx="1.0" ry="0.6" fill="#5a58f0" opacity="0.6"/>
<ellipse cx="42.8" cy="218.2" rx="0.6" ry="0.6" fill="#a09030" opacity="0.6"/>
<ellipse cx="129.4" cy="225.1" rx="0.9" ry="0.7" fill="#5a58f0" opacity="0.6"/>
<ellipse cx="91.4" cy="39.0" rx="0.6" ry="0.5" fill="#5a58f0" opacity="0.6"/>
<ellipse cx="162.5" cy="73.5" rx="0.7" ry="0.8" fill="#6a50c0" opacity="0.6"/>
<ellipse cx="153.9" cy="128.1" rx="0.6" ry="0.9" fill="#a09030" opacity="0.6"/>
<ellipse cx="30.2" cy="71.3" rx="0.9" ry="0.9" fill="#a09030" opacity="0.6"/>
<ellipse cx="31.0" cy="67.9" rx="0.9" ry="0.5" fill="#5a58f0" opacity="0.6"/>
<ellipse cx="80.9" cy="75.8" rx="0.6" ry="0.7" fill="#5a58f0" opacity="0.6"/>
<ellipse cx="104.7" cy="50.4" rx="0.6" ry="0.8" fill="#4a48e0" opacity="0.6"/>
<ellipse cx="69.0" cy="180.3" rx="0.9" ry="0.6" fill="#a09030" opacity="0.6"/>
<ellipse cx="25.2" cy="25.9" rx="0.9" ry="1.1" fill="#4a48e0" opacity="0.6"/>
<ellipse cx="23.1" cy="159.4" rx="0.5" ry="0.7" fill="#8a7a28" opacity="0.6"/>
<ellipse cx="40.2" cy="37.6" rx="0.8" ry="0.9" fill="#8a7a28" opacity="0.6"/>
<ellipse cx="153.2" cy="181.2" rx="0.6" ry="1.1" fill="#6a50c0" opacity="0.6"/>
<ellipse cx="70.6" cy="40.3" rx="1.0" ry="1.0" fill="#8a7a28" opacity="0.6"/>
<ellipse cx="81.7" cy="192.8" rx="0.8" ry="0.9" fill="#8a7a28" opacity="0.6"/>
<ellipse cx="76.6" cy="147.9" rx="0.5" ry="0.6" fill="#a09030" opacity="0.6"/>
<ellipse cx="37.1" cy="77.6" rx="0.9" ry="0.7" fill="#8a7a28" opacity="0.6"/>
<ellipse cx="128.8" cy="147.5" rx="0.8" ry="0.8" fill="#8a7a28" opacity="0.6"/>
<ellipse cx="96.8" cy="133.1" rx="0.9" ry="0.8" fill="#4a48e0" opacity="0.6"/>
<ellipse cx="54.1" cy="172.8" rx="1.0" ry="0.9" fill="#8a7a28" opacity="0.6"/>
<ellipse cx="92.0" cy="215.6" rx="0.7" ry="0.9" fill="#4a48e0" opacity="0.6"/>
<ellipse cx="50.0" cy="58.6" rx="0.9" ry="0.8" fill="#4a48e0" opacity="0.6"/>
<ellipse cx="152.0" cy="92.6" rx="0.7" ry="0.9" fill="#6a50c0" opacity="0.6"/>
<ellipse cx="138.9" cy="185.0" rx="1.0" ry="0.7" fill="#5a58f0" opacity="0.6"/>
<ellipse cx="106.3" cy="90.4" rx="0.6" ry="0.7" fill="#5a58f0" opacity="0.6"/>
<ellipse cx="152.6" cy="30.8" rx="1.1" ry="0.7" fill="#5a58f0" opacity="0.6"/>
<ellipse cx="45.0" cy="119.3" rx="1.1" ry="1.0" fill="#4a48e0" opacity="0.6"/>
<ellipse cx="76.6" cy="134.3" rx="0.7" ry="1.0" fill="#6a50c0" opacity="0.6"/>
<ellipse cx="165.3" cy="119.7" rx="1.0" ry="0.7" fill="#5a58f0" opacity="0.6"/>
<ellipse cx="109.9" cy="168.5" rx="0.8" ry="0.7" fill="#4a48e0" opacity="0.6"/>
<ellipse cx="137.1" cy="26.1" rx="0.7" ry="0.6" fill="#5a58f0" opacity="0.6"/>
<ellipse cx="133.8" cy="79.5" rx="1.0" ry="1.1" fill="#5a58f0" opacity="0.6"/>
<ellipse cx="37.1" cy="45.5" rx="0.9" ry="1.0" fill="#a09030" opacity="0.6"/>
<ellipse cx="161.9" cy="169.9" rx="1.0" ry="0.7" fill="#5a58f0" opacity="0.6"/>
<ellipse cx="125.7" cy="185.1" rx="0.9" ry="0.6" fill="#a09030" opacity="0.6"/>
<ellipse cx="60.3" cy="96.7" rx="1.1" ry="0.8" fill="#6a50c0" opacity="0.6"/>
<ellipse cx="167.5" cy="56.4" rx="1.0" ry="0.6" fill="#6a50c0" opacity="0.6"/>
<ellipse cx="158.0" cy="178.0" rx="0.8" ry="0.6" fill="#5a58f0" opacity="0.6"/>
<ellipse cx="151.3" cy="23.5" rx="0.8" ry="1.0" fill="#a09030" opacity="0.6"/>
<ellipse cx="137.9" cy="226.0" rx="0.7" ry="1.1" fill="#8a7a28" opacity="0.6"/>
<ellipse cx="34.6" cy="209.1" rx="1.1" ry="0.6" fill="#6a50c0" opacity="0.6"/>
<ellipse cx="55.9" cy="106.3" rx="1.1" ry="0.8" fill="#5a58f0" opacity="0.6"/>
<ellipse cx="137.0" cy="91.2" rx="1.0" ry="0.7" fill="#6a50c0" opacity="0.6"/>
<ellipse cx="32.3" cy="117.2" rx="0.8" ry="0.7" fill="#a09030" opacity="0.6"/>
<ellipse cx="156.1" cy="69.2" rx="0.8" ry="0.5" fill="#5a58f0" opacity="0.6"/>
<ellipse cx="98.9" cy="170.3" rx="0.8" ry="1.1" fill="#5a58f0" opacity="0.6"/>
<ellipse cx="153.3" cy="133.9" rx="0.9" ry="1.1" fill="#6a50c0" opacity="0.6"/>
<ellipse cx="92.9" cy="227.0" rx="1.0" ry="0.8" fill="#5a58f0" opacity="0.6"/>
<ellipse cx="102.7" cy="201.5" rx="0.9" ry="0.8" fill="#a09030" opacity="0.6"/>
<ellipse cx="144.9" cy="143.0" rx="0.9" ry="1.1" fill="#4a48e0" opacity="0.6"/>
<ellipse cx="148.8" cy="153.6" rx="1.0" ry="1.1" fill="#4a48e0" opacity="0.6"/>
<ellipse cx="97.6" cy="145.8" rx="0.7" ry="0.6" fill="#5a58f0" opacity="0.6"/>
<ellipse cx="20.7" cy="103.4" rx="1.1" ry="0.8" fill="#a09030" opacity="0.6"/>
<ellipse cx="79.3" cy="195.0" rx="0.6" ry="0.6" fill="#a09030" opacity="0.6"/>
<ellipse cx="44.7" cy="223.1" rx="0.7" ry="1.1" fill="#8a7a28" opacity="0.6"/>
<ellipse cx="156.7" cy="80.2" rx="0.8" ry="0.7" fill="#8a7a28" opacity="0.6"/>
<ellipse cx="153.3" cy="224.1" rx="0.8" ry="0.6" fill="#8a7a28" opacity="0.6"/>
<ellipse cx="82.1" cy="28.4" rx="0.6" ry="1.0" fill="#4a48e0" opacity="0.6"/>
<ellipse cx="23.4" cy="63.9" rx="0.5" ry="0.7" fill="#5a58f0" opacity="0.6"/>
<ellipse cx="127.1" cy="74.8" rx="0.6" ry="0.9" fill="#8a7a28" opacity="0.6"/>
<ellipse cx="38.2" cy="132.3" rx="0.9" ry="0.9" fill="#4a48e0" opacity="0.6"/>
<ellipse cx="150.1" cy="27.0" rx="0.7" ry="0.8" fill="#6a50c0" opacity="0.6"/>
<ellipse cx="43.6" cy="66.1" rx="0.8" ry="0.6" fill="#6a50c0" opacity="0.6"/>
<ellipse cx="52.0" cy="139.3" rx="1.0" ry="0.6" fill="#a09030" opacity="0.6"/>
<ellipse cx="129.6" cy="197.1" rx="0.7" ry="0.7" fill="#5a58f0" opacity="0.6"/>
<ellipse cx="156.6" cy="69.1" rx="1.0" ry="0.6" fill="#5a58f0" opacity="0.6"/>
<ellipse cx="55.4" cy="178.9" rx="0.7" ry="0.8" fill="#4a48e0" opacity="0.6"/>
<ellipse cx="159.3" cy="139.3" rx="0.6" ry="0.7" fill="#6a50c0" opacity="0.6"/>
<ellipse cx="121.4" cy="25.8" rx="0.8" ry="0.7" fill="#5a58f0" opacity="0.6"/>
<ellipse cx="141.5" cy="100.0" rx="0.8" ry="1.0" fill="#6a50c0" opacity="0.6"/>
<ellipse cx="94.4" cy="170.1" rx="1.0" ry="0.8" fill="#5a58f0" opacity="0.6"/>
<ellipse cx="23.6" cy="186.6" rx="0.8" ry="0.8" fill="#a09030" opacity="0.6"/>
<ellipse cx="41.7" cy="61.9" rx="0.6" ry="0.6" fill="#5a58f0" opacity="0.6"/>
<ellipse cx="61.9" cy="167.4" rx="0.5" ry="1.1" fill="#a09030" opacity="0.6"/>
<ellipse cx="88.4" cy="187.2" rx="0.7" ry="0.8" fill="#4a48e0" opacity="0.6"/>
<ellipse cx="72.5" cy="67.4" rx="0.5" ry="0.9" fill="#4a48e0" opacity="0.6"/>
<ellipse cx="145.0" cy="61.2" rx="0.7" ry="0.7" fill="#8a7a28" opacity="0.6"/>
<ellipse cx="156.4" cy="152.7" rx="0.8" ry="0.5" fill="#5a58f0" opacity="0.6"/>
<ellipse cx="152.2" cy="195.2" rx="1.0" ry="1.0" fill="#6a50c0" opacity="0.6"/>
<ellipse cx="159.1" cy="145.1" rx="0.8" ry="1.1" fill="#5a58f0" opacity="0.6"/>
<ellipse cx="139.1" cy="77.8" rx="0.9" ry="1.0" fill="#5a58f0" opacity="0.6"/>
<ellipse cx="140.6" cy="109.6" rx="1.0" ry="0.9" fill="#4a48e0" opacity="0.6"/>
<ellipse cx="133.6" cy="187.3" rx="0.6" ry="0.6" fill="#8a7a28" opacity="0.6"/>
<ellipse cx="138.0" cy="87.2" rx="0.5" ry="0.7" fill="#5a58f0" opacity="0.6"/>
<ellipse cx="114.5" cy="156.8" rx="0.7" ry="1.1" fill="#5a58f0" opacity="0.6"/>
<ellipse cx="64.2" cy="68.7" rx="0.8" ry="0.8" fill="#8a7a28" opacity="0.6"/>
<ellipse cx="77.7" cy="238.0" rx="0.6" ry="0.6" fill="#6a50c0" opacity="0.6"/>
<ellipse cx="78.5" cy="146.2" rx="0.9" ry="0.9" fill="#5a58f0" opacity="0.6"/>
<ellipse cx="58.0" cy="108.7" rx="1.0" ry="0.9" fill="#5a58f0" opacity="0.6"/>
<ellipse cx="21.6" cy="77.8" rx="1.0" ry="0.8" fill="#4a48e0" opacity="0.6"/>
<ellipse cx="95.2" cy="230.9" rx="1.0" ry="0.6" fill="#a09030" opacity="0.6"/>
<ellipse cx="85.8" cy="161.2" rx="0.9" ry="1.0" fill="#a09030" opacity="0.6"/>
<ellipse cx="26.7" cy="222.9" rx="0.7" ry="1.1" fill="#5a58f0" opacity="0.6"/>
<ellipse cx="146.6" cy="139.1" rx="0.5" ry="1.1" fill="#a09030" opacity="0.6"/>
<ellipse cx="82.3" cy="135.8" rx="0.7" ry="0.8" fill="#a09030" opacity="0.6"/>
<ellipse cx="91.5" cy="80.3" rx="0.9" ry="0.9" fill="#4a48e0" opacity="0.6"/>
<ellipse cx="24.0" cy="188.9" rx="0.5" ry="0.6" fill="#a09030" opacity="0.6"/>
<ellipse cx="131.7" cy="106.2" rx="0.9" ry="0.5" fill="#4a48e0" opacity="0.6"/>
<ellipse cx="166.3" cy="226.0" rx="1.0" ry="0.6" fill="#5a58f0" opacity="0.6"/>
<ellipse cx="126.4" cy="76.2" rx="0.5" ry="0.6" fill="#5a58f0" opacity="0.6"/>
<ellipse cx="139.9" cy="218.4" rx="1.1" ry="1.0" fill="#5a58f0" opacity="0.6"/>
<ellipse cx="109.3" cy="46.9" rx="0.8" ry="0.6" fill="#a09030" opacity="0.6"/>
<ellipse cx="147.4" cy="99.0" rx="0.6" ry="0.8" fill="#5a58f0" opacity="0.6"/>
<ellipse cx="118.8" cy="120.4" rx="0.9" ry="0.9" fill="#4a48e0" opacity="0.6"/>
<ellipse cx="73.9" cy="182.7" rx="1.1" ry="0.9" fill="#5a58f0" opacity="0.6"/>
<ellipse cx="55.3" cy="46.6" rx="1.0" ry="0.9" fill="#4a48e0" opacity="0.6"/>
<ellipse cx="73.2" cy="80.6" rx="0.9" ry="0.9" fill="#6a50c0" opacity="0.6"/>
<ellipse cx="48.1" cy="82.2" rx="0.6" ry="0.6" fill="#5a58f0" opacity="0.6"/>
<ellipse cx="165.0" cy="219.8" rx="0.5" ry="0.5" fill="#6a50c0" opacity="0.6"/>
<ellipse cx="60.1" cy="113.8" rx="0.5" ry="0.6" fill="#a09030" opacity="0.6"/>
<ellipse cx="61.2" cy="185.3" rx="0.6" ry="0.6" fill="#6a50c0" opacity="0.6"/>
<ellipse cx="165.3" cy="126.5" rx="0.6" ry="0.7" fill="#4a48e0" opacity="0.6"/>
<ellipse cx="130.2" cy="203.1" rx="1.0" ry="0.8" fill="#5a58f0" opacity="0.6"/>
<ellipse cx="141.7" cy="203.0" rx="0.8" ry="0.9" fill="#5a58f0" opacity="0.6"/>
<ellipse cx="77.7" cy="54.5" rx="0.9" ry="1.1" fill="#5a58f0" opacity="0.6"/>
<ellipse cx="68.2" cy="140.5" rx="1.0" ry="0.6" fill="#6a50c0" opacity="0.6"/>
<ellipse cx="116.8" cy="147.4" rx="1.0" ry="0.5" fill="#8a7a28" opacity="0.6"/>
<ellipse cx="32.3" cy="143.9" rx="1.0" ry="0.8" fill="#8a7a28" opacity="0.6"/>
<ellipse cx="141.9" cy="24.0" rx="0.6" ry="0.9" fill="#4a48e0" opacity="0.6"/>
<ellipse cx="32.1" cy="87.6" rx="1.0" ry="0.7" fill="#6a50c0" opacity="0.6"/>
<ellipse cx="150.5" cy="69.3" rx="0.9" ry="0.7" fill="#6a50c0" opacity="0.6"/>
<ellipse cx="37.4" cy="175.2" rx="0.9" ry="1.0" fill="#a09030" opacity="0.6"/>
<ellipse cx="121.7" cy="82.3" rx="1.0" ry="0.7" fill="#a09030" opacity="0.6"/>
<ellipse cx="67.0" cy="108.3" rx="1.0" ry="0.6" fill="#6a50c0" opacity="0.6"/>
<ellipse cx="73.5" cy="101.0" rx="0.9" ry="0.9" fill="#4a48e0" opacity="0.6"/>
<ellipse cx="137.8" cy="181.6" rx="1.0" ry="0.8" fill="#4a48e0" opacity="0.6"/>
<ellipse cx="143.8" cy="143.6" rx="0.6" ry="0.8" fill="#5a58f0" opacity="0.6"/>
<ellipse cx="146.5" cy="197.4" rx="0.8" ry="0.8" fill="#5a58f0" opacity="0.6"/>
<ellipse cx="104.0" cy="230.7" rx="1.0" ry="0.8" fill="#6a50c0" opacity="0.6"/>
<ellipse cx="106.1" cy="88.0" rx="0.6" ry="0.5" fill="#a09030" opacity="0.6"/>
<ellipse cx="129.1" cy="216.2" rx="0.5" ry="0.9" fill="#5a58f0" opacity="0.6"/>
<ellipse cx="34.4" cy="198.3" rx="0.6" ry="0.6" fill="#8a7a28" opacity="0.6"/>
<ellipse cx="133.3" cy="134.7" rx="0.7" ry="0.7" fill="#8a7a28" opacity="0.6"/>
<ellipse cx="163.3" cy="167.2" rx="0.8" ry="1.0" fill="#8a7a28" opacity="0.6"/>
<ellipse cx="30.7" cy="155.5" rx="0.7" ry="1.0" fill="#5a58f0" opacity="0.6"/>
<ellipse cx="118.7" cy="206.4" rx="1.0" ry="1.0" fill="#8a7a28" opacity="0.6"/>
<ellipse cx="161.8" cy="160.3" rx="0.7" ry="0.5" fill="#a09030" opacity="0.6"/>
<ellipse cx="36.3" cy="221.5" rx="0.6" ry="0.6" fill="#5a58f0" opacity="0.6"/>
<ellipse cx="114.0" cy="169.8" rx="0.6" ry="0.8" fill="#4a48e0" opacity="0.6"/>
<ellipse cx="63.2" cy="231.5" rx="0.8" ry="0.9" fill="#5a58f0" opacity="0.6"/>
<ellipse cx="64.9" cy="55.6" rx="1.0" ry="1.0" fill="#5a58f0" opacity="0.6"/>
<ellipse cx="22.5" cy="125.9" rx="0.7" ry="0.6" fill="#5a58f0" opacity="0.6"/>
<ellipse cx="73.2" cy="149.1" rx="0.9" ry="0.9" fill="#a09030" opacity="0.6"/>
<ellipse cx="53.1" cy="62.0" rx="0.7" ry="1.0" fill="#4a48e0" opacity="0.6"/>
<ellipse cx="158.7" cy="157.4" rx="0.8" ry="0.7" fill="#a09030" opacity="0.6"/>
<ellipse cx="151.3" cy="219.5" rx="0.9" ry="1.0" fill="#4a48e0" opacity="0.6"/>
<ellipse cx="33.7" cy="208.3" rx="0.5" ry="1.1" fill="#8a7a28" opacity="0.6"/>
<ellipse cx="138.6" cy="105.2" rx="1.0" ry="1.0" fill="#a09030" opacity="0.6"/>
<ellipse cx="136.6" cy="34.5" rx="1.0" ry="1.0" fill="#5a58f0" opacity="0.6"/>
<ellipse cx="154.0" cy="119.2" rx="0.9" ry="0.9" fill="#5a58f0" opacity="0.6"/>
<ellipse cx="43.3" cy="55.9" rx="0.6" ry="1.0" fill="#4a48e0" opacity="0.6"/>
<ellipse cx="139.9" cy="50.3" rx="1.1" ry="0.7" fill="#6a50c0" opacity="0.6"/>
<ellipse cx="99.1" cy="54.5" rx="0.5" ry="1.0" fill="#5a58f0" opacity="0.6"/>
<ellipse cx="145.2" cy="199.6" rx="0.7" ry="0.9" fill="#5a58f0" opacity="0.6"/>
<ellipse cx="98.1" cy="214.2" rx="0.8" ry="1.1" fill="#6a50c0" opacity="0.6"/>
<ellipse cx="106.8" cy="207.2" rx="0.5" ry="0.6" fill="#4a48e0" opacity="0.6"/>
<ellipse cx="48.6" cy="169.4" rx="0.6" ry="0.8" fill="#8a7a28" opacity="0.6"/>
<ellipse cx="97.8" cy="56.0" rx="0.7" ry="0.7" fill="#4a48e0" opacity="0.6"/>
<ellipse cx="102.3" cy="237.4" rx="0.9" ry="0.7" fill="#6a50c0" opacity="0.6"/>
<ellipse cx="121.7" cy="44.8" rx="0.9" ry="0.9" fill="#8a7a28" opacity="0.6"/>
<ellipse cx="136.1" cy="48.3" rx="0.5" ry="0.7" fill="#8a7a28" opacity="0.6"/>
<ellipse cx="125.1" cy="73.3" rx="0.6" ry="1.0" fill="#a09030" opacity="0.6"/>
<ellipse cx="146.7" cy="204.4" rx="0.6" ry="0.9" fill="#6a50c0" opacity="0.6"/>
<ellipse cx="63.0" cy="103.2" rx="0.9" ry="1.1" fill="#a09030" opacity="0.6"/>
<ellipse cx="131.7" cy="142.0" rx="0.7" ry="0.6" fill="#5a58f0" opacity="0.6"/>
<ellipse cx="128.3" cy="93.1" rx="0.8" ry="0.9" fill="#4a48e0" opacity="0.6"/>
<ellipse cx="69.1" cy="200.6" rx="0.6" ry="0.9" fill="#5a58f0" opacity="0.6"/>
<ellipse cx="39.5" cy="158.2" rx="0.6" ry="0.7" fill="#5a58f0" opacity="0.6"/>
<ellipse cx="143.9" cy="150.0" rx="0.6" ry="0.5" fill="#5a58f0" opacity="0.6"/>
<ellipse cx="166.1" cy="115.7" rx="0.7" ry="1.0" fill="#5a58f0" opacity="0.6"/>
<ellipse cx="157.2" cy="52.0" rx="1.0" ry="1.0" fill="#5a58f0" opacity="0.6"/>
<ellipse cx="77.1" cy="93.6" rx="0.9" ry="0.9" fill="#8a7a28" opacity="0.6"/>
<ellipse cx="110.7" cy="90.6" rx="0.9" ry="0.9" fill="#5a58f0" opacity="0.6"/>
<ellipse cx="22.7" cy="93.5" rx="0.7" ry="0.8" fill="#4a48e0" opacity="0.6"/>
<ellipse cx="102.5" cy="66.3" rx="1.0" ry="1.0" fill="#4a48e0" opacity="0.6"/>
<ellipse cx="110.5" cy="56.2" rx="1.0" ry="0.8" fill="#a09030" opacity="0.6"/>
<ellipse cx="72.2" cy="130.1" rx="0.8" ry="0.6" fill="#5a58f0" opacity="0.6"/>
<ellipse cx="158.2" cy="237.6" rx="1.0" ry="0.6" fill="#6a50c0" opacity="0.6"/>
<ellipse cx="159.8" cy="157.5" rx="1.0" ry="0.6" fill="#5a58f0" opacity="0.6"/>
<ellipse cx="90.7" cy="112.2" rx="0.7" ry="1.1" fill="#4a48e0" opacity="0.6"/>
<ellipse cx="73.5" cy="122.0" rx="0.8" ry="0.9" fill="#5a58f0" opacity="0.6"/>
<ellipse cx="55.3" cy="145.0" rx="0.8" ry="0.8" fill="#a09030" opacity="0.6"/>
<ellipse cx="59.1" cy="218.4" rx="0.9" ry="0.6" fill="#4a48e0" opacity="0.6"/>
<ellipse cx="142.0" cy="84.3" rx="0.6" ry="0.8" fill="#4a48e0" opacity="0.6"/>
<ellipse cx="143.0" cy="62.1" rx="1.0" ry="0.8" fill="#a09030" opacity="0.6"/>
<ellipse cx="79.7" cy="191.1" rx="0.6" ry="1.0" fill="#6a50c0" opacity="0.6"/>
<ellipse cx="145.4" cy="217.8" rx="0.9" ry="1.0" fill="#a09030" opacity="0.6"/>
<ellipse cx="22.4" cy="65.1" rx="0.5" ry="0.8" fill="#8a7a28" opacity="0.6"/>
<ellipse cx="37.5" cy="109.6" rx="0.8" ry="0.7" fill="#4a48e0" opacity="0.6"/>
<ellipse cx="104.1" cy="93.7" rx="1.0" ry="0.9" fill="#6a50c0" opacity="0.6"/>
<ellipse cx="136.6" cy="109.1" rx="0.9" ry="0.8" fill="#8a7a28" opacity="0.6"/>
<ellipse cx="80.9" cy="156.7" rx="0.8" ry="0.7" fill="#6a50c0" opacity="0.6"/>
<ellipse cx="61.7" cy="214.1" rx="1.0" ry="1.0" fill="#8a7a28" opacity="0.6"/>
<ellipse cx="80.5" cy="115.7" rx="0.6" ry="1.1" fill="#a09030" opacity="0.6"/>
<ellipse cx="68.9" cy="134.5" rx="1.0" ry="0.7" fill="#8a7a28" opacity="0.6"/>
<ellipse cx="28.1" cy="178.7" rx="0.9" ry="0.9" fill="#8a7a28" opacity="0.6"/>
<ellipse cx="131.3" cy="87.8" rx="1.0" ry="0.6" fill="#a09030" opacity="0.6"/>
<ellipse cx="145.0" cy="74.3" rx="1.1" ry="0.8" fill="#8a7a28" opacity="0.6"/>
<ellipse cx="35.6" cy="218.5" rx="0.7" ry="0.7" fill="#a09030" opacity="0.6"/>
<ellipse cx="54.9" cy="36.8" rx="1.1" ry="0.9" fill="#6a50c0" opacity="0.6"/>
<ellipse cx="148.2" cy="113.0" rx="0.6" ry="0.9" fill="#5a58f0" opacity="0.6"/>
<ellipse cx="103.9" cy="217.1" rx="0.8" ry="0.6" fill="#5a58f0" opacity="0.6"/>
<ellipse cx="150.6" cy="146.4" rx="0.5" ry="0.6" fill="#8a7a28" opacity="0.6"/>
<ellipse cx="64.3" cy="92.1" rx="0.8" ry="0.8" fill="#5a58f0" opacity="0.6"/>
<ellipse cx="98.5" cy="52.5" rx="0.9" ry="0.5" fill="#6a50c0" opacity="0.6"/>
<ellipse cx="24.6" cy="216.1" rx="0.7" ry="0.6" fill="#4a48e0" opacity="0.6"/>
<ellipse cx="134.9" cy="189.7" rx="0.6" ry="1.0" fill="#5a58f0" opacity="0.6"/>
<ellipse cx="122.5" cy="34.7" rx="1.0" ry="0.7" fill="#4a48e0" opacity="0.6"/>
<ellipse cx="89.9" cy="59.1" rx="1.1" ry="0.6" fill="#6a50c0" opacity="0.6"/>
<ellipse cx="113.6" cy="63.4" rx="0.9" ry="0.7" fill="#5a58f0" opacity="0.6"/>
<ellipse cx="141.0" cy="229.7" rx="1.0" ry="0.9" fill="#4a48e0" opacity="0.6"/>
<ellipse cx="40.0" cy="172.3" rx="0.7" ry="0.6" fill="#8a7a28" opacity="0.6"/>
<ellipse cx="147.5" cy="48.1" rx="0.6" ry="0.6" fill="#6a50c0" opacity="0.6"/>
<ellipse cx="54.8" cy="165.6" rx="0.7" ry="0.9" fill="#4a48e0" opacity="0.6"/>
<ellipse cx="150.9" cy="149.4" rx="1.1" ry="1.0" fill="#5a58f0" opacity="0.6"/>
<ellipse cx="46.7" cy="70.8" rx="0.9" ry="0.6" fill="#5a58f0" opacity="0.6"/>
</g>
</g>
<ellipse cx="125" cy="35" rx="0.80" ry="2.40" fill="#c8b030" opacity="0.8" filter="url(#bl05)"/>
<ellipse cx="130" cy="29" rx="0.60" ry="1.20" fill="#c8b030" opacity="0.8" filter="url(#bl05)"/>
<ellipse cx="60" cy="55" rx="1.20" ry="0.80" fill="#a09028" opacity="0.8" filter="url(#bl05)"/>
<ellipse cx="72" cy="76" rx="1.60" ry="0.80" fill="#a09028" opacity="0.8" filter="url(#bl05)"/>
<ellipse cx="127" cy="92" rx="1.20" ry="0.80" fill="#b0a030" opacity="0.8" filter="url(#bl05)"/>
<ellipse cx="123" cy="100" rx="0.60" ry="0.60" fill="#b0a030" opacity="0.8" filter="url(#bl05)"/>
<ellipse cx="120" cy="113" rx="0.80" ry="0.80" fill="#40c040" opacity="0.8" filter="url(#bl05)"/>
<ellipse cx="98" cy="139" rx="0.80" ry="1.20" fill="#d0b030" opacity="0.8" filter="url(#bl05)"/>
<ellipse cx="90" cy="146" rx="1.20" ry="0.80" fill="#d0a030" opacity="0.8" filter="url(#bl05)"/>
<ellipse cx="82" cy="152" rx="1.60" ry="1.00" fill="#d0b030" opacity="0.8" filter="url(#bl05)"/>
<ellipse cx="80" cy="165" rx="1.20" ry="0.80" fill="#d09030" opacity="0.8" filter="url(#bl05)"/>
<ellipse cx="92" cy="170" rx="1.00" ry="1.40" fill="#e0a030" opacity="0.8" filter="url(#bl05)"/>
<ellipse cx="104" cy="162" rx="0.64" ry="2.40" fill="#c8b030" opacity="0.8" filter="url(#bl05)"/>
<ellipse cx="76" cy="174" rx="1.20" ry="0.80" fill="#c0a030" opacity="0.8" filter="url(#bl05)"/>
<ellipse cx="57" cy="162" rx="0.80" ry="0.80" fill="#c03090" opacity="0.8" filter="url(#bl05)"/>
<ellipse cx="102" cy="194" rx="0.80" ry="1.60" fill="#c040c0" opacity="0.8" filter="url(#bl05)"/>
<ellipse cx="105" cy="175" rx="0.60" ry="2.00" fill="#c8b030" opacity="0.8" filter="url(#bl05)"/>
</g>
<text x="23.4" y="230.3" font-size="8.6" font-weight="bold" fill="#fff" textLength="20.6" lengthAdjust="spacingAndGlyphs">2mm</text>
<rect x="22.7" y="233.4" width="22.9" height="2.4" fill="#fff"/>
<rect x="112.6" y="210.6" width="8.2" height="11.4" fill="none" stroke="#e02020" stroke-width="1.2"/>
<line x1="117.3" y1="209.8" x2="168.5" y2="147.5" stroke="#e02020" stroke-width="1.4"/>
<path d="M172.5,143.6 L164.6,146.6 L169.6,151.0Z" fill="#e02020"/>
<rect x="171.6" y="17.8" width="153" height="221.7" fill="#000"/>
<defs><filter id="fyA" filterUnits="userSpaceOnUse" x="100" y="-60" width="300" height="360" color-interpolation-filters="sRGB"><feTurbulence type="fractalNoise" baseFrequency="0.2 0.32" numOctaves="3" seed="8"/><feColorMatrix type="matrix" values="1 0 0 0 0  1 0 0 0 0  1 0 0 0 0  0 0 0 0 1" result="n"/><feComposite in="n" in2="SourceGraphic" operator="arithmetic" k1="0" k2="1" k3="0.2" k4="0"/><feColorMatrix type="matrix" values="0 0 0 0 0.86  0 0 0 0 0.84  0 0 0 0 0.24  14 0 0 0 -9.170"/></filter><filter id="fyB" filterUnits="userSpaceOnUse" x="100" y="-60" width="300" height="360" color-interpolation-filters="sRGB"><feTurbulence type="fractalNoise" baseFrequency="0.2 0.32" numOctaves="3" seed="21"/><feColorMatrix type="matrix" values="1 0 0 0 0  1 0 0 0 0  1 0 0 0 0  0 0 0 0 1" result="n"/><feComposite in="n" in2="SourceGraphic" operator="arithmetic" k1="0" k2="1" k3="0.2" k4="0"/><feColorMatrix type="matrix" values="0 0 0 0 0.86  0 0 0 0 0.84  0 0 0 0 0.24  14 0 0 0 -9.170"/></filter><filter id="ffA" filterUnits="userSpaceOnUse" x="100" y="-60" width="300" height="360" color-interpolation-filters="sRGB"><feTurbulence type="turbulence" baseFrequency="0.07 0.1" numOctaves="3" seed="4"/><feColorMatrix type="matrix" values="-1 0 0 0 1  -1 0 0 0 1  -1 0 0 0 1  0 0 0 0 1" result="n"/><feComposite in="n" in2="SourceGraphic" operator="arithmetic" k1="0" k2="1" k3="0.2" k4="0"/><feColorMatrix type="matrix" values="0 0 0 0 0.84  0 0 0 0 0.82  0 0 0 0 0.22  9 0 0 0 -7.560"/></filter><filter id="ffB" filterUnits="userSpaceOnUse" x="100" y="-60" width="300" height="360" color-interpolation-filters="sRGB"><feTurbulence type="turbulence" baseFrequency="0.07 0.1" numOctaves="3" seed="12"/><feColorMatrix type="matrix" values="-1 0 0 0 1  -1 0 0 0 1  -1 0 0 0 1  0 0 0 0 1" result="n"/><feComposite in="n" in2="SourceGraphic" operator="arithmetic" k1="0" k2="1" k3="0.2" k4="0"/><feColorMatrix type="matrix" values="0 0 0 0 0.84  0 0 0 0 0.82  0 0 0 0 0.22  9 0 0 0 -7.560"/></filter><radialGradient id="yg0"><stop offset="0" stop-color="#fff" stop-opacity="0.8"/><stop offset="1" stop-color="#fff" stop-opacity="0"/></radialGradient><radialGradient id="yg1"><stop offset="0" stop-color="#fff" stop-opacity="0.75"/><stop offset="1" stop-color="#fff" stop-opacity="0"/></radialGradient><radialGradient id="yg2"><stop offset="0" stop-color="#fff" stop-opacity="0.9"/><stop offset="1" stop-color="#fff" stop-opacity="0"/></radialGradient><radialGradient id="yg3"><stop offset="0" stop-color="#fff" stop-opacity="0.95"/><stop offset="1" stop-color="#fff" stop-opacity="0"/></radialGradient><radialGradient id="yg4"><stop offset="0" stop-color="#fff" stop-opacity="0.75"/><stop offset="1" stop-color="#fff" stop-opacity="0"/></radialGradient><radialGradient id="yg5"><stop offset="0" stop-color="#fff" stop-opacity="0.6"/><stop offset="1" stop-color="#fff" stop-opacity="0"/></radialGradient><radialGradient id="yg6"><stop offset="0" stop-color="#fff" stop-opacity="0.5"/><stop offset="1" stop-color="#fff" stop-opacity="0"/></radialGradient><radialGradient id="yg7"><stop offset="0" stop-color="#fff" stop-opacity="0.35"/><stop offset="1" stop-color="#fff" stop-opacity="0"/></radialGradient><radialGradient id="yg8"><stop offset="0" stop-color="#fff" stop-opacity="0.6"/><stop offset="1" stop-color="#fff" stop-opacity="0"/></radialGradient></defs>
<g clip-path="url(#clipR)">
<ellipse cx="267.2" cy="186.0" rx="4.9" ry="2.4" transform="rotate(69 267.2 186.0)" fill="rgb(34,34,159)"/>
<ellipse cx="242.6" cy="228.9" rx="4.2" ry="2.3" transform="rotate(68 242.6 228.9)" fill="rgb(35,35,245)"/>
<ellipse cx="208.5" cy="143.8" rx="2.6" ry="1.5" transform="rotate(40 208.5 143.8)" fill="rgb(13,13,220)"/>
<ellipse cx="312.9" cy="191.1" rx="4.0" ry="2.2" transform="rotate(34 312.9 191.1)" fill="rgb(12,12,241)"/>
<ellipse cx="190.6" cy="235.1" rx="4.0" ry="3.3" transform="rotate(0 190.6 235.1)" fill="rgb(35,35,206)"/>
<ellipse cx="196.0" cy="94.8" rx="4.2" ry="3.0" transform="rotate(14 196.0 94.8)" fill="rgb(30,30,208)"/>
<ellipse cx="200.7" cy="233.6" rx="2.6" ry="1.7" transform="rotate(27 200.7 233.6)" fill="rgb(16,16,203)"/>
<ellipse cx="180.2" cy="92.2" rx="2.6" ry="1.9" transform="rotate(42 180.2 92.2)" fill="rgb(10,10,228)"/>
<ellipse cx="218.4" cy="202.3" rx="3.2" ry="2.1" transform="rotate(34 218.4 202.3)" fill="rgb(9,9,207)"/>
<ellipse cx="210.0" cy="228.0" rx="3.2" ry="2.1" transform="rotate(66 210.0 228.0)" fill="rgb(19,19,238)"/>
<ellipse cx="228.7" cy="207.2" rx="3.9" ry="2.8" transform="rotate(32 228.7 207.2)" fill="rgb(11,11,210)"/>
<ellipse cx="287.9" cy="226.0" rx="3.7" ry="1.6" transform="rotate(73 287.9 226.0)" fill="rgb(32,32,184)"/>
<ellipse cx="242.2" cy="153.6" rx="3.3" ry="2.0" transform="rotate(78 242.2 153.6)" fill="rgb(10,10,240)"/>
<ellipse cx="202.5" cy="137.2" rx="2.9" ry="1.7" transform="rotate(25 202.5 137.2)" fill="rgb(17,17,196)"/>
<ellipse cx="277.0" cy="93.2" rx="3.7" ry="2.8" transform="rotate(79 277.0 93.2)" fill="rgb(23,23,224)"/>
<ellipse cx="195.2" cy="38.3" rx="3.6" ry="2.3" transform="rotate(69 195.2 38.3)" fill="rgb(31,31,215)"/>
<ellipse cx="262.7" cy="204.0" rx="3.8" ry="1.4" transform="rotate(61 262.7 204.0)" fill="rgb(33,33,160)"/>
<ellipse cx="247.0" cy="206.6" rx="3.9" ry="3.3" transform="rotate(32 247.0 206.6)" fill="rgb(11,11,237)"/>
<ellipse cx="196.3" cy="107.4" rx="3.4" ry="1.8" transform="rotate(4 196.3 107.4)" fill="rgb(24,24,206)"/>
<ellipse cx="240.8" cy="132.0" rx="4.0" ry="1.6" transform="rotate(68 240.8 132.0)" fill="rgb(12,12,200)"/>
<ellipse cx="187.6" cy="203.1" rx="2.9" ry="2.4" transform="rotate(37 187.6 203.1)" fill="rgb(13,13,228)"/>
<ellipse cx="183.9" cy="86.0" rx="4.2" ry="2.6" transform="rotate(55 183.9 86.0)" fill="rgb(30,30,230)"/>
<ellipse cx="261.6" cy="35.3" rx="3.6" ry="2.6" transform="rotate(44 261.6 35.3)" fill="rgb(16,16,247)"/>
<ellipse cx="290.1" cy="175.2" rx="4.3" ry="3.1" transform="rotate(44 290.1 175.2)" fill="rgb(23,23,186)"/>
<ellipse cx="255.3" cy="81.4" rx="3.9" ry="2.0" transform="rotate(66 255.3 81.4)" fill="rgb(19,19,195)"/>
<ellipse cx="212.7" cy="101.6" rx="3.3" ry="2.7" transform="rotate(66 212.7 101.6)" fill="rgb(35,35,207)"/>
<ellipse cx="305.2" cy="123.8" rx="3.2" ry="1.8" transform="rotate(48 305.2 123.8)" fill="rgb(14,14,206)"/>
<ellipse cx="300.5" cy="227.7" rx="3.8" ry="2.9" transform="rotate(56 300.5 227.7)" fill="rgb(13,13,238)"/>
<ellipse cx="266.2" cy="227.4" rx="4.9" ry="2.0" transform="rotate(62 266.2 227.4)" fill="rgb(31,31,186)"/>
<ellipse cx="325.4" cy="69.7" rx="3.7" ry="2.1" transform="rotate(64 325.4 69.7)" fill="rgb(28,28,208)"/>
<ellipse cx="282.1" cy="238.1" rx="3.3" ry="1.8" transform="rotate(74 282.1 238.1)" fill="rgb(18,18,169)"/>
<ellipse cx="321.0" cy="130.8" rx="3.3" ry="2.1" transform="rotate(61 321.0 130.8)" fill="rgb(26,26,194)"/>
<ellipse cx="201.9" cy="180.9" rx="3.2" ry="2.7" transform="rotate(26 201.9 180.9)" fill="rgb(35,35,237)"/>
<ellipse cx="184.8" cy="144.1" rx="3.6" ry="3.0" transform="rotate(24 184.8 144.1)" fill="rgb(21,21,201)"/>
<ellipse cx="233.8" cy="148.1" rx="3.4" ry="1.9" transform="rotate(38 233.8 148.1)" fill="rgb(26,26,233)"/>
<ellipse cx="244.4" cy="70.4" rx="3.2" ry="1.6" transform="rotate(53 244.4 70.4)" fill="rgb(20,20,157)"/>
<ellipse cx="186.8" cy="148.5" rx="2.9" ry="2.1" transform="rotate(43 186.8 148.5)" fill="rgb(21,21,233)"/>
<ellipse cx="237.3" cy="76.2" rx="4.9" ry="2.1" transform="rotate(57 237.3 76.2)" fill="rgb(27,27,174)"/>
<ellipse cx="317.4" cy="93.5" rx="2.9" ry="1.5" transform="rotate(88 317.4 93.5)" fill="rgb(15,15,241)"/>
<ellipse cx="215.7" cy="194.5" rx="2.6" ry="1.8" transform="rotate(58 215.7 194.5)" fill="rgb(15,15,220)"/>
<ellipse cx="315.9" cy="194.5" rx="3.1" ry="1.7" transform="rotate(40 315.9 194.5)" fill="rgb(17,17,221)"/>
<ellipse cx="246.8" cy="239.4" rx="4.2" ry="3.4" transform="rotate(59 246.8 239.4)" fill="rgb(8,8,200)"/>
<ellipse cx="288.6" cy="92.0" rx="3.2" ry="1.9" transform="rotate(60 288.6 92.0)" fill="rgb(22,22,188)"/>
<ellipse cx="224.6" cy="173.2" rx="2.8" ry="1.4" transform="rotate(57 224.6 173.2)" fill="rgb(29,29,243)"/>
<ellipse cx="313.0" cy="217.1" rx="2.6" ry="2.0" transform="rotate(61 313.0 217.1)" fill="rgb(27,27,239)"/>
<ellipse cx="259.8" cy="178.8" rx="4.0" ry="2.1" transform="rotate(65 259.8 178.8)" fill="rgb(23,23,198)"/>
<ellipse cx="180.3" cy="206.1" rx="3.4" ry="2.0" transform="rotate(49 180.3 206.1)" fill="rgb(17,17,245)"/>
<ellipse cx="192.3" cy="129.9" rx="3.5" ry="2.2" transform="rotate(38 192.3 129.9)" fill="rgb(21,21,204)"/>
<ellipse cx="293.5" cy="169.3" rx="3.9" ry="3.3" transform="rotate(25 293.5 169.3)" fill="rgb(30,30,236)"/>
<ellipse cx="245.9" cy="54.3" rx="4.2" ry="2.2" transform="rotate(53 245.9 54.3)" fill="rgb(30,30,169)"/>
<ellipse cx="309.6" cy="239.7" rx="3.4" ry="1.9" transform="rotate(72 309.6 239.7)" fill="rgb(21,21,208)"/>
<ellipse cx="295.1" cy="42.3" rx="3.6" ry="2.6" transform="rotate(38 295.1 42.3)" fill="rgb(16,16,194)"/>
<ellipse cx="179.0" cy="150.5" rx="4.2" ry="2.3" transform="rotate(52 179.0 150.5)" fill="rgb(10,10,240)"/>
<ellipse cx="219.1" cy="155.8" rx="4.3" ry="2.7" transform="rotate(34 219.1 155.8)" fill="rgb(12,12,192)"/>
<ellipse cx="278.8" cy="60.2" rx="3.5" ry="2.9" transform="rotate(67 278.8 60.2)" fill="rgb(16,16,213)"/>
<ellipse cx="179.9" cy="78.2" rx="3.1" ry="2.6" transform="rotate(58 179.9 78.2)" fill="rgb(35,35,215)"/>
<ellipse cx="227.9" cy="184.9" rx="3.9" ry="2.8" transform="rotate(13 227.9 184.9)" fill="rgb(26,26,195)"/>
<ellipse cx="274.2" cy="47.4" rx="3.7" ry="2.1" transform="rotate(32 274.2 47.4)" fill="rgb(23,23,244)"/>
<ellipse cx="320.3" cy="50.9" rx="3.6" ry="2.3" transform="rotate(60 320.3 50.9)" fill="rgb(21,21,204)"/>
<ellipse cx="276.3" cy="75.5" rx="4.4" ry="3.2" transform="rotate(31 276.3 75.5)" fill="rgb(12,12,212)"/>
<ellipse cx="279.4" cy="108.1" rx="3.1" ry="2.6" transform="rotate(82 279.4 108.1)" fill="rgb(33,33,229)"/>
<ellipse cx="230.2" cy="57.1" rx="4.3" ry="2.2" transform="rotate(70 230.2 57.1)" fill="rgb(35,35,204)"/>
<ellipse cx="226.5" cy="35.7" rx="3.4" ry="1.3" transform="rotate(74 226.5 35.7)" fill="rgb(11,11,164)"/>
<ellipse cx="175.8" cy="67.7" rx="3.5" ry="2.9" transform="rotate(14 175.8 67.7)" fill="rgb(8,8,229)"/>
<ellipse cx="236.6" cy="92.0" rx="4.8" ry="2.0" transform="rotate(72 236.6 92.0)" fill="rgb(11,11,207)"/>
<ellipse cx="199.9" cy="167.2" rx="4.2" ry="3.3" transform="rotate(5 199.9 167.2)" fill="rgb(12,12,245)"/>
<ellipse cx="256.1" cy="51.5" rx="4.5" ry="2.2" transform="rotate(70 256.1 51.5)" fill="rgb(23,23,160)"/>
<ellipse cx="309.8" cy="101.3" rx="3.2" ry="1.6" transform="rotate(76 309.8 101.3)" fill="rgb(29,29,187)"/>
<ellipse cx="241.2" cy="208.8" rx="4.0" ry="2.5" transform="rotate(34 241.2 208.8)" fill="rgb(29,29,243)"/>
<ellipse cx="207.4" cy="239.6" rx="3.9" ry="2.7" transform="rotate(2 207.4 239.6)" fill="rgb(27,27,195)"/>
<ellipse cx="232.6" cy="235.4" rx="3.2" ry="2.1" transform="rotate(25 232.6 235.4)" fill="rgb(10,10,221)"/>
<ellipse cx="284.2" cy="180.9" rx="3.5" ry="1.7" transform="rotate(54 284.2 180.9)" fill="rgb(28,28,161)"/>
<ellipse cx="276.3" cy="64.2" rx="4.1" ry="3.3" transform="rotate(25 276.3 64.2)" fill="rgb(11,11,229)"/>
<ellipse cx="281.8" cy="78.5" rx="2.8" ry="1.8" transform="rotate(79 281.8 78.5)" fill="rgb(28,28,216)"/>
<ellipse cx="177.9" cy="112.6" rx="3.1" ry="2.0" transform="rotate(4 177.9 112.6)" fill="rgb(28,28,224)"/>
<ellipse cx="178.0" cy="36.0" rx="2.9" ry="2.0" transform="rotate(68 178.0 36.0)" fill="rgb(14,14,236)"/>
<ellipse cx="252.9" cy="46.0" rx="3.2" ry="1.5" transform="rotate(58 252.9 46.0)" fill="rgb(27,27,174)"/>
<ellipse cx="181.8" cy="183.5" rx="3.4" ry="2.1" transform="rotate(44 181.8 183.5)" fill="rgb(26,26,239)"/>
<ellipse cx="289.8" cy="139.3" rx="2.6" ry="2.0" transform="rotate(32 289.8 139.3)" fill="rgb(34,34,242)"/>
<ellipse cx="326.0" cy="146.1" rx="3.5" ry="2.7" transform="rotate(33 326.0 146.1)" fill="rgb(34,34,218)"/>
<ellipse cx="294.6" cy="234.1" rx="3.6" ry="1.6" transform="rotate(66 294.6 234.1)" fill="rgb(9,9,183)"/>
<ellipse cx="279.8" cy="197.6" rx="4.8" ry="1.7" transform="rotate(71 279.8 197.6)" fill="rgb(20,20,191)"/>
<ellipse cx="287.4" cy="146.4" rx="3.8" ry="2.9" transform="rotate(86 287.4 146.4)" fill="rgb(22,22,188)"/>
<ellipse cx="192.4" cy="174.5" rx="2.6" ry="1.4" transform="rotate(55 192.4 174.5)" fill="rgb(16,16,239)"/>
<ellipse cx="186.6" cy="199.5" rx="3.2" ry="1.9" transform="rotate(39 186.6 199.5)" fill="rgb(16,16,202)"/>
<ellipse cx="247.6" cy="96.8" rx="4.1" ry="2.0" transform="rotate(51 247.6 96.8)" fill="rgb(8,8,159)"/>
<ellipse cx="318.4" cy="31.5" rx="2.8" ry="1.6" transform="rotate(60 318.4 31.5)" fill="rgb(8,8,230)"/>
<ellipse cx="195.5" cy="159.9" rx="4.4" ry="2.6" transform="rotate(11 195.5 159.9)" fill="rgb(28,28,206)"/>
<ellipse cx="280.7" cy="123.0" rx="4.0" ry="2.2" transform="rotate(89 280.7 123.0)" fill="rgb(22,22,225)"/>
<ellipse cx="312.7" cy="126.2" rx="3.4" ry="2.6" transform="rotate(53 312.7 126.2)" fill="rgb(25,25,205)"/>
<ellipse cx="280.0" cy="103.5" rx="3.0" ry="2.3" transform="rotate(55 280.0 103.5)" fill="rgb(25,25,223)"/>
<ellipse cx="250.5" cy="190.9" rx="3.7" ry="1.9" transform="rotate(69 250.5 190.9)" fill="rgb(27,27,163)"/>
<ellipse cx="247.1" cy="102.4" rx="3.5" ry="1.5" transform="rotate(53 247.1 102.4)" fill="rgb(13,13,167)"/>
<ellipse cx="231.9" cy="188.5" rx="4.3" ry="3.3" transform="rotate(20 231.9 188.5)" fill="rgb(23,23,226)"/>
<ellipse cx="276.5" cy="211.8" rx="4.6" ry="2.0" transform="rotate(65 276.5 211.8)" fill="rgb(11,11,158)"/>
<ellipse cx="249.8" cy="153.0" rx="3.8" ry="1.6" transform="rotate(54 249.8 153.0)" fill="rgb(27,27,159)"/>
<ellipse cx="218.7" cy="109.5" rx="3.9" ry="2.5" transform="rotate(33 218.7 109.5)" fill="rgb(25,25,192)"/>
<ellipse cx="192.9" cy="116.8" rx="2.6" ry="2.0" transform="rotate(67 192.9 116.8)" fill="rgb(17,17,211)"/>
<ellipse cx="214.7" cy="33.8" rx="3.7" ry="3.0" transform="rotate(54 214.7 33.8)" fill="rgb(17,17,237)"/>
<ellipse cx="183.8" cy="232.9" rx="3.2" ry="2.5" transform="rotate(21 183.8 232.9)" fill="rgb(23,23,211)"/>
<ellipse cx="250.6" cy="218.9" rx="4.4" ry="3.0" transform="rotate(40 250.6 218.9)" fill="rgb(8,8,235)"/>
<ellipse cx="274.7" cy="108.5" rx="3.6" ry="2.0" transform="rotate(76 274.7 108.5)" fill="rgb(20,20,226)"/>
<ellipse cx="220.6" cy="207.6" rx="3.8" ry="3.2" transform="rotate(62 220.6 207.6)" fill="rgb(11,11,216)"/>
<ellipse cx="203.2" cy="93.1" rx="3.7" ry="3.0" transform="rotate(19 203.2 93.1)" fill="rgb(10,10,206)"/>
<ellipse cx="268.7" cy="191.3" rx="3.1" ry="1.4" transform="rotate(55 268.7 191.3)" fill="rgb(21,21,201)"/>
<ellipse cx="206.0" cy="130.9" rx="3.0" ry="2.0" transform="rotate(42 206.0 130.9)" fill="rgb(27,27,195)"/>
<ellipse cx="256.6" cy="148.0" rx="3.7" ry="1.4" transform="rotate(60 256.6 148.0)" fill="rgb(31,31,192)"/>
<ellipse cx="199.5" cy="127.7" rx="4.2" ry="3.4" transform="rotate(27 199.5 127.7)" fill="rgb(34,34,246)"/>
<ellipse cx="185.7" cy="69.2" rx="2.8" ry="1.5" transform="rotate(11 185.7 69.2)" fill="rgb(26,26,198)"/>
<ellipse cx="288.3" cy="184.8" rx="4.6" ry="2.3" transform="rotate(70 288.3 184.8)" fill="rgb(19,19,168)"/>
<ellipse cx="186.0" cy="41.7" rx="3.3" ry="2.2" transform="rotate(14 186.0 41.7)" fill="rgb(15,15,195)"/>
<ellipse cx="232.9" cy="143.8" rx="2.8" ry="2.0" transform="rotate(26 232.9 143.8)" fill="rgb(12,12,232)"/>
<ellipse cx="276.7" cy="133.5" rx="4.9" ry="1.8" transform="rotate(73 276.7 133.5)" fill="rgb(8,8,188)"/>
<ellipse cx="229.6" cy="89.9" rx="3.9" ry="3.0" transform="rotate(35 229.6 89.9)" fill="rgb(17,17,199)"/>
<ellipse cx="233.7" cy="228.9" rx="3.4" ry="1.9" transform="rotate(4 233.7 228.9)" fill="rgb(16,16,215)"/>
<ellipse cx="273.9" cy="43.6" rx="2.8" ry="1.8" transform="rotate(42 273.9 43.6)" fill="rgb(25,25,208)"/>
<ellipse cx="301.6" cy="210.2" rx="3.4" ry="1.9" transform="rotate(40 301.6 210.2)" fill="rgb(8,8,195)"/>
<ellipse cx="297.6" cy="58.0" rx="2.6" ry="1.8" transform="rotate(80 297.6 58.0)" fill="rgb(35,35,234)"/>
<ellipse cx="250.6" cy="39.3" rx="4.9" ry="2.2" transform="rotate(55 250.6 39.3)" fill="rgb(24,24,208)"/>
<ellipse cx="310.8" cy="165.4" rx="2.7" ry="1.4" transform="rotate(68 310.8 165.4)" fill="rgb(33,33,237)"/>
<ellipse cx="306.4" cy="203.9" rx="3.3" ry="2.8" transform="rotate(87 306.4 203.9)" fill="rgb(18,18,206)"/>
<ellipse cx="193.1" cy="194.3" rx="4.3" ry="3.7" transform="rotate(30 193.1 194.3)" fill="rgb(20,20,212)"/>
<ellipse cx="235.7" cy="85.7" rx="3.6" ry="1.7" transform="rotate(61 235.7 85.7)" fill="rgb(32,32,170)"/>
<ellipse cx="308.1" cy="69.9" rx="4.1" ry="3.4" transform="rotate(24 308.1 69.9)" fill="rgb(12,12,243)"/>
<ellipse cx="243.0" cy="44.5" rx="4.2" ry="1.5" transform="rotate(59 243.0 44.5)" fill="rgb(10,10,203)"/>
<ellipse cx="211.6" cy="188.6" rx="4.0" ry="2.2" transform="rotate(26 211.6 188.6)" fill="rgb(17,17,196)"/>
<ellipse cx="187.3" cy="165.1" rx="3.3" ry="2.2" transform="rotate(26 187.3 165.1)" fill="rgb(35,35,241)"/>
<ellipse cx="207.6" cy="149.1" rx="3.6" ry="2.7" transform="rotate(18 207.6 149.1)" fill="rgb(15,15,202)"/>
<ellipse cx="245.1" cy="178.3" rx="4.0" ry="2.6" transform="rotate(24 245.1 178.3)" fill="rgb(30,30,249)"/>
<ellipse cx="265.2" cy="196.9" rx="4.0" ry="1.4" transform="rotate(51 265.2 196.9)" fill="rgb(19,19,198)"/>
<ellipse cx="291.1" cy="146.8" rx="2.8" ry="1.5" transform="rotate(54 291.1 146.8)" fill="rgb(26,26,232)"/>
<ellipse cx="252.7" cy="179.9" rx="4.9" ry="2.7" transform="rotate(72 252.7 179.9)" fill="rgb(35,35,189)"/>
<ellipse cx="196.0" cy="226.5" rx="3.4" ry="2.6" transform="rotate(5 196.0 226.5)" fill="rgb(11,11,234)"/>
<ellipse cx="224.8" cy="133.3" rx="3.0" ry="2.0" transform="rotate(40 224.8 133.3)" fill="rgb(31,31,192)"/>
<ellipse cx="183.7" cy="100.9" rx="4.3" ry="2.6" transform="rotate(10 183.7 100.9)" fill="rgb(23,23,220)"/>
<ellipse cx="230.6" cy="161.9" rx="3.1" ry="2.5" transform="rotate(17 230.6 161.9)" fill="rgb(34,34,241)"/>
<ellipse cx="197.6" cy="57.2" rx="3.9" ry="2.7" transform="rotate(4 197.6 57.2)" fill="rgb(22,22,186)"/>
<ellipse cx="176.8" cy="203.5" rx="4.2" ry="2.1" transform="rotate(35 176.8 203.5)" fill="rgb(11,11,237)"/>
<ellipse cx="278.6" cy="178.3" rx="4.2" ry="1.5" transform="rotate(67 278.6 178.3)" fill="rgb(17,17,206)"/>
<ellipse cx="271.2" cy="218.0" rx="3.1" ry="1.5" transform="rotate(67 271.2 218.0)" fill="rgb(11,11,186)"/>
<ellipse cx="220.4" cy="168.1" rx="3.3" ry="2.4" transform="rotate(35 220.4 168.1)" fill="rgb(18,18,218)"/>
<ellipse cx="317.7" cy="71.7" rx="3.2" ry="1.7" transform="rotate(29 317.7 71.7)" fill="rgb(22,22,239)"/>
<ellipse cx="267.0" cy="166.6" rx="3.3" ry="1.5" transform="rotate(54 267.0 166.6)" fill="rgb(22,22,211)"/>
<ellipse cx="315.9" cy="101.3" rx="3.4" ry="2.4" transform="rotate(24 315.9 101.3)" fill="rgb(25,25,249)"/>
<ellipse cx="209.2" cy="94.8" rx="3.0" ry="1.9" transform="rotate(43 209.2 94.8)" fill="rgb(23,23,218)"/>
<ellipse cx="222.5" cy="49.9" rx="4.1" ry="2.9" transform="rotate(44 222.5 49.9)" fill="rgb(32,32,191)"/>
<ellipse cx="321.7" cy="109.8" rx="3.9" ry="2.3" transform="rotate(68 321.7 109.8)" fill="rgb(35,35,237)"/>
<ellipse cx="305.7" cy="41.4" rx="2.9" ry="2.4" transform="rotate(44 305.7 41.4)" fill="rgb(21,21,249)"/>
<ellipse cx="186.3" cy="116.6" rx="2.6" ry="1.8" transform="rotate(16 186.3 116.6)" fill="rgb(28,28,222)"/>
<ellipse cx="186.8" cy="137.0" rx="4.3" ry="2.9" transform="rotate(65 186.8 137.0)" fill="rgb(13,13,198)"/>
<ellipse cx="289.9" cy="52.5" rx="2.8" ry="2.3" transform="rotate(61 289.9 52.5)" fill="rgb(21,21,233)"/>
<ellipse cx="187.9" cy="93.3" rx="4.1" ry="2.1" transform="rotate(32 187.9 93.3)" fill="rgb(12,12,250)"/>
<ellipse cx="252.5" cy="57.7" rx="4.9" ry="2.2" transform="rotate(51 252.5 57.7)" fill="rgb(25,25,204)"/>
<ellipse cx="313.1" cy="150.3" rx="3.1" ry="2.4" transform="rotate(58 313.1 150.3)" fill="rgb(22,22,217)"/>
<ellipse cx="243.4" cy="189.6" rx="2.8" ry="1.6" transform="rotate(65 243.4 189.6)" fill="rgb(22,22,198)"/>
<ellipse cx="325.6" cy="56.4" rx="2.8" ry="1.8" transform="rotate(35 325.6 56.4)" fill="rgb(35,35,244)"/>
<ellipse cx="267.9" cy="176.6" rx="4.1" ry="1.6" transform="rotate(63 267.9 176.6)" fill="rgb(18,18,159)"/>
<ellipse cx="260.1" cy="130.5" rx="4.7" ry="2.2" transform="rotate(70 260.1 130.5)" fill="rgb(27,27,187)"/>
<ellipse cx="222.1" cy="214.8" rx="3.4" ry="2.2" transform="rotate(9 222.1 214.8)" fill="rgb(17,17,201)"/>
<ellipse cx="272.2" cy="189.2" rx="3.0" ry="1.6" transform="rotate(67 272.2 189.2)" fill="rgb(35,35,190)"/>
<ellipse cx="312.7" cy="139.7" rx="3.8" ry="3.0" transform="rotate(46 312.7 139.7)" fill="rgb(13,13,186)"/>
<ellipse cx="260.0" cy="166.9" rx="4.0" ry="1.8" transform="rotate(63 260.0 166.9)" fill="rgb(9,9,197)"/>
<ellipse cx="205.5" cy="28.4" rx="3.9" ry="2.2" transform="rotate(68 205.5 28.4)" fill="rgb(35,35,206)"/>
<ellipse cx="249.1" cy="169.8" rx="3.2" ry="1.4" transform="rotate(60 249.1 169.8)" fill="rgb(28,28,181)"/>
<ellipse cx="212.7" cy="30.1" rx="3.6" ry="2.8" transform="rotate(46 212.7 30.1)" fill="rgb(19,19,249)"/>
<ellipse cx="288.2" cy="122.7" rx="2.7" ry="1.6" transform="rotate(71 288.2 122.7)" fill="rgb(12,12,185)"/>
<ellipse cx="236.4" cy="126.7" rx="2.9" ry="1.6" transform="rotate(13 236.4 126.7)" fill="rgb(33,33,241)"/>
<ellipse cx="243.2" cy="89.6" rx="4.5" ry="2.2" transform="rotate(52 243.2 89.6)" fill="rgb(34,34,207)"/>
<ellipse cx="266.5" cy="156.7" rx="4.7" ry="1.8" transform="rotate(72 266.5 156.7)" fill="rgb(24,24,204)"/>
<ellipse cx="201.4" cy="42.1" rx="2.8" ry="1.7" transform="rotate(24 201.4 42.1)" fill="rgb(13,13,196)"/>
<ellipse cx="230.6" cy="63.4" rx="4.8" ry="2.3" transform="rotate(73 230.6 63.4)" fill="rgb(12,12,180)"/>
<ellipse cx="232.8" cy="124.1" rx="2.6" ry="1.7" transform="rotate(29 232.8 124.1)" fill="rgb(30,30,210)"/>
<ellipse cx="277.3" cy="206.6" rx="3.2" ry="1.3" transform="rotate(56 277.3 206.6)" fill="rgb(33,33,203)"/>
<ellipse cx="296.8" cy="203.5" rx="3.6" ry="2.8" transform="rotate(86 296.8 203.5)" fill="rgb(31,31,241)"/>
<ellipse cx="199.8" cy="97.7" rx="3.8" ry="2.9" transform="rotate(18 199.8 97.7)" fill="rgb(34,34,209)"/>
<ellipse cx="253.2" cy="207.0" rx="3.2" ry="1.5" transform="rotate(59 253.2 207.0)" fill="rgb(34,34,196)"/>
<ellipse cx="192.4" cy="89.3" rx="2.9" ry="1.9" transform="rotate(0 192.4 89.3)" fill="rgb(31,31,198)"/>
<ellipse cx="170.9" cy="145.1" rx="4.1" ry="2.5" transform="rotate(67 170.9 145.1)" fill="rgb(23,23,195)"/>
<ellipse cx="193.5" cy="29.4" rx="3.7" ry="2.8" transform="rotate(4 193.5 29.4)" fill="rgb(16,16,246)"/>
<ellipse cx="295.3" cy="124.1" rx="3.7" ry="2.5" transform="rotate(87 295.3 124.1)" fill="rgb(20,20,206)"/>
<ellipse cx="236.5" cy="121.8" rx="3.5" ry="1.4" transform="rotate(70 236.5 121.8)" fill="rgb(10,10,212)"/>
<ellipse cx="291.1" cy="131.1" rx="3.8" ry="2.3" transform="rotate(29 291.1 131.1)" fill="rgb(31,31,195)"/>
<ellipse cx="220.7" cy="65.1" rx="4.0" ry="2.1" transform="rotate(25 220.7 65.1)" fill="rgb(24,24,200)"/>
<ellipse cx="246.0" cy="215.4" rx="3.1" ry="2.0" transform="rotate(38 246.0 215.4)" fill="rgb(26,26,242)"/>
<ellipse cx="181.1" cy="171.6" rx="3.1" ry="1.7" transform="rotate(17 181.1 171.6)" fill="rgb(10,10,223)"/>
<ellipse cx="315.3" cy="90.2" rx="3.2" ry="2.7" transform="rotate(30 315.3 90.2)" fill="rgb(18,18,196)"/>
<ellipse cx="305.9" cy="103.9" rx="3.2" ry="2.5" transform="rotate(30 305.9 103.9)" fill="rgb(18,18,248)"/>
<ellipse cx="175.5" cy="233.7" rx="4.3" ry="3.0" transform="rotate(49 175.5 233.7)" fill="rgb(17,17,221)"/>
<ellipse cx="211.2" cy="203.1" rx="3.2" ry="2.2" transform="rotate(35 211.2 203.1)" fill="rgb(26,26,250)"/>
<ellipse cx="307.7" cy="116.0" rx="3.9" ry="3.2" transform="rotate(37 307.7 116.0)" fill="rgb(12,12,200)"/>
<ellipse cx="179.9" cy="96.7" rx="4.0" ry="2.6" transform="rotate(3 179.9 96.7)" fill="rgb(13,13,198)"/>
<ellipse cx="171.5" cy="58.5" rx="3.6" ry="2.6" transform="rotate(21 171.5 58.5)" fill="rgb(10,10,191)"/>
<ellipse cx="258.0" cy="112.2" rx="3.9" ry="1.4" transform="rotate(61 258.0 112.2)" fill="rgb(23,23,196)"/>
<ellipse cx="325.5" cy="208.9" rx="3.4" ry="2.0" transform="rotate(29 325.5 208.9)" fill="rgb(28,28,228)"/>
<ellipse cx="316.7" cy="111.1" rx="4.4" ry="2.4" transform="rotate(83 316.7 111.1)" fill="rgb(19,19,243)"/>
<ellipse cx="213.4" cy="64.9" rx="4.3" ry="2.7" transform="rotate(29 213.4 64.9)" fill="rgb(14,14,217)"/>
<ellipse cx="266.6" cy="121.2" rx="3.9" ry="1.6" transform="rotate(65 266.6 121.2)" fill="rgb(14,14,160)"/>
<ellipse cx="297.7" cy="168.4" rx="3.5" ry="2.5" transform="rotate(40 297.7 168.4)" fill="rgb(8,8,249)"/>
<ellipse cx="204.5" cy="125.1" rx="2.8" ry="1.6" transform="rotate(2 204.5 125.1)" fill="rgb(11,11,224)"/>
<ellipse cx="208.6" cy="41.9" rx="4.4" ry="3.3" transform="rotate(8 208.6 41.9)" fill="rgb(33,33,229)"/>
<ellipse cx="222.6" cy="115.5" rx="3.2" ry="2.0" transform="rotate(54 222.6 115.5)" fill="rgb(31,31,215)"/>
<ellipse cx="320.2" cy="206.6" rx="3.4" ry="2.0" transform="rotate(77 320.2 206.6)" fill="rgb(31,31,192)"/>
<ellipse cx="286.5" cy="189.0" rx="3.4" ry="1.7" transform="rotate(73 286.5 189.0)" fill="rgb(17,17,167)"/>
<ellipse cx="245.6" cy="174.5" rx="2.9" ry="2.2" transform="rotate(23 245.6 174.5)" fill="rgb(18,18,216)"/>
<ellipse cx="227.4" cy="231.9" rx="4.1" ry="3.1" transform="rotate(34 227.4 231.9)" fill="rgb(24,24,226)"/>
<ellipse cx="231.3" cy="95.6" rx="4.1" ry="3.2" transform="rotate(44 231.3 95.6)" fill="rgb(22,22,222)"/>
<ellipse cx="217.1" cy="76.7" rx="3.8" ry="2.7" transform="rotate(14 217.1 76.7)" fill="rgb(34,34,221)"/>
<ellipse cx="284.0" cy="72.0" rx="2.8" ry="2.0" transform="rotate(87 284.0 72.0)" fill="rgb(15,15,247)"/>
<ellipse cx="306.0" cy="162.0" rx="2.7" ry="1.6" transform="rotate(71 306.0 162.0)" fill="rgb(33,33,244)"/>
<ellipse cx="272.2" cy="94.5" rx="3.4" ry="2.4" transform="rotate(43 272.2 94.5)" fill="rgb(12,12,228)"/>
<ellipse cx="200.3" cy="144.7" rx="3.9" ry="2.8" transform="rotate(44 200.3 144.7)" fill="rgb(23,23,187)"/>
<ellipse cx="299.0" cy="85.6" rx="3.2" ry="1.7" transform="rotate(68 299.0 85.6)" fill="rgb(8,8,216)"/>
<ellipse cx="323.9" cy="228.0" rx="4.4" ry="2.8" transform="rotate(27 323.9 228.0)" fill="rgb(14,14,190)"/>
<ellipse cx="179.5" cy="188.7" rx="3.5" ry="2.4" transform="rotate(16 179.5 188.7)" fill="rgb(32,32,207)"/>
<ellipse cx="296.6" cy="130.5" rx="3.7" ry="2.2" transform="rotate(57 296.6 130.5)" fill="rgb(18,18,215)"/>
<ellipse cx="280.8" cy="74.9" rx="2.8" ry="1.9" transform="rotate(33 280.8 74.9)" fill="rgb(25,25,244)"/>
<ellipse cx="271.5" cy="30.4" rx="2.6" ry="2.0" transform="rotate(70 271.5 30.4)" fill="rgb(11,11,202)"/>
<ellipse cx="317.6" cy="189.0" rx="4.0" ry="2.7" transform="rotate(46 317.6 189.0)" fill="rgb(30,30,228)"/>
<ellipse cx="204.9" cy="62.9" rx="4.1" ry="3.4" transform="rotate(36 204.9 62.9)" fill="rgb(9,9,226)"/>
<ellipse cx="290.1" cy="153.1" rx="4.4" ry="2.5" transform="rotate(24 290.1 153.1)" fill="rgb(16,16,217)"/>
<ellipse cx="321.6" cy="77.0" rx="3.4" ry="1.8" transform="rotate(70 321.6 77.0)" fill="rgb(23,23,248)"/>
<ellipse cx="206.4" cy="116.3" rx="3.4" ry="2.1" transform="rotate(15 206.4 116.3)" fill="rgb(15,15,204)"/>
<ellipse cx="219.1" cy="191.7" rx="3.2" ry="1.9" transform="rotate(66 219.1 191.7)" fill="rgb(11,11,222)"/>
<ellipse cx="268.1" cy="130.0" rx="4.0" ry="1.6" transform="rotate(53 268.1 130.0)" fill="rgb(29,29,172)"/>
<ellipse cx="306.3" cy="95.6" rx="2.7" ry="2.2" transform="rotate(89 306.3 95.6)" fill="rgb(20,20,239)"/>
<ellipse cx="170.5" cy="83.3" rx="3.9" ry="2.9" transform="rotate(69 170.5 83.3)" fill="rgb(8,8,197)"/>
<ellipse cx="219.0" cy="147.4" rx="3.9" ry="2.8" transform="rotate(10 219.0 147.4)" fill="rgb(25,25,231)"/>
<ellipse cx="305.1" cy="87.2" rx="4.3" ry="2.2" transform="rotate(54 305.1 87.2)" fill="rgb(17,17,246)"/>
<ellipse cx="324.7" cy="51.4" rx="3.8" ry="2.5" transform="rotate(64 324.7 51.4)" fill="rgb(24,24,234)"/>
<ellipse cx="280.9" cy="33.1" rx="3.3" ry="2.8" transform="rotate(66 280.9 33.1)" fill="rgb(18,18,244)"/>
<ellipse cx="257.5" cy="219.2" rx="3.5" ry="1.4" transform="rotate(72 257.5 219.2)" fill="rgb(23,23,209)"/>
<ellipse cx="209.5" cy="84.7" rx="4.3" ry="3.0" transform="rotate(43 209.5 84.7)" fill="rgb(9,9,240)"/>
<ellipse cx="274.8" cy="127.7" rx="3.3" ry="1.3" transform="rotate(51 274.8 127.7)" fill="rgb(14,14,173)"/>
<ellipse cx="317.5" cy="234.3" rx="3.6" ry="2.9" transform="rotate(68 317.5 234.3)" fill="rgb(13,13,241)"/>
<ellipse cx="305.0" cy="130.8" rx="3.1" ry="2.6" transform="rotate(85 305.0 130.8)" fill="rgb(29,29,226)"/>
<ellipse cx="314.2" cy="206.3" rx="3.9" ry="2.1" transform="rotate(88 314.2 206.3)" fill="rgb(29,29,220)"/>
<ellipse cx="272.3" cy="221.5" rx="3.1" ry="1.3" transform="rotate(66 272.3 221.5)" fill="rgb(33,33,194)"/>
<ellipse cx="196.7" cy="75.9" rx="3.3" ry="1.9" transform="rotate(36 196.7 75.9)" fill="rgb(34,34,237)"/>
<ellipse cx="317.8" cy="155.1" rx="4.3" ry="2.2" transform="rotate(76 317.8 155.1)" fill="rgb(11,11,190)"/>
<ellipse cx="291.2" cy="221.7" rx="4.1" ry="2.1" transform="rotate(60 291.2 221.7)" fill="rgb(21,21,169)"/>
<ellipse cx="325.7" cy="106.8" rx="3.6" ry="2.3" transform="rotate(51 325.7 106.8)" fill="rgb(15,15,225)"/>
<ellipse cx="196.6" cy="216.3" rx="2.7" ry="1.8" transform="rotate(65 196.6 216.3)" fill="rgb(10,10,213)"/>
<ellipse cx="269.7" cy="104.4" rx="3.6" ry="1.7" transform="rotate(57 269.7 104.4)" fill="rgb(30,30,211)"/>
<ellipse cx="293.5" cy="226.2" rx="4.2" ry="2.1" transform="rotate(65 293.5 226.2)" fill="rgb(11,11,177)"/>
<ellipse cx="209.7" cy="33.5" rx="3.8" ry="2.4" transform="rotate(2 209.7 33.5)" fill="rgb(29,29,240)"/>
<ellipse cx="198.7" cy="151.7" rx="3.1" ry="2.5" transform="rotate(45 198.7 151.7)" fill="rgb(30,30,235)"/>
<ellipse cx="240.9" cy="180.9" rx="2.7" ry="1.6" transform="rotate(45 240.9 180.9)" fill="rgb(23,23,235)"/>
<ellipse cx="183.0" cy="50.2" rx="3.8" ry="2.0" transform="rotate(29 183.0 50.2)" fill="rgb(12,12,231)"/>
<ellipse cx="247.4" cy="117.8" rx="3.7" ry="1.9" transform="rotate(61 247.4 117.8)" fill="rgb(11,11,184)"/>
<ellipse cx="302.1" cy="239.0" rx="3.7" ry="2.1" transform="rotate(78 302.1 239.0)" fill="rgb(23,23,199)"/>
<ellipse cx="190.4" cy="183.7" rx="2.8" ry="2.2" transform="rotate(24 190.4 183.7)" fill="rgb(32,32,214)"/>
<ellipse cx="178.0" cy="51.3" rx="2.7" ry="2.2" transform="rotate(31 178.0 51.3)" fill="rgb(30,30,241)"/>
<ellipse cx="271.5" cy="207.8" rx="3.3" ry="1.7" transform="rotate(50 271.5 207.8)" fill="rgb(12,12,186)"/>
<ellipse cx="277.1" cy="167.8" rx="4.6" ry="1.9" transform="rotate(62 277.1 167.8)" fill="rgb(23,23,194)"/>
<ellipse cx="253.7" cy="210.8" rx="3.4" ry="1.7" transform="rotate(71 253.7 210.8)" fill="rgb(12,12,205)"/>
<ellipse cx="192.8" cy="68.6" rx="3.5" ry="2.7" transform="rotate(66 192.8 68.6)" fill="rgb(20,20,229)"/>
<ellipse cx="207.8" cy="106.5" rx="2.9" ry="2.4" transform="rotate(69 207.8 106.5)" fill="rgb(16,16,224)"/>
<ellipse cx="175.5" cy="116.1" rx="3.3" ry="2.7" transform="rotate(57 175.5 116.1)" fill="rgb(12,12,226)"/>
<ellipse cx="262.2" cy="59.8" rx="4.3" ry="1.5" transform="rotate(55 262.2 59.8)" fill="rgb(29,29,157)"/>
<ellipse cx="228.4" cy="82.8" rx="2.7" ry="1.9" transform="rotate(35 228.4 82.8)" fill="rgb(13,13,225)"/>
<ellipse cx="260.7" cy="140.3" rx="4.2" ry="2.0" transform="rotate(69 260.7 140.3)" fill="rgb(34,34,192)"/>
<ellipse cx="323.5" cy="203.4" rx="4.2" ry="3.4" transform="rotate(56 323.5 203.4)" fill="rgb(27,27,215)"/>
<ellipse cx="242.0" cy="33.5" rx="3.7" ry="1.3" transform="rotate(56 242.0 33.5)" fill="rgb(30,30,169)"/>
<ellipse cx="261.8" cy="78.2" rx="4.9" ry="2.6" transform="rotate(55 261.8 78.2)" fill="rgb(31,31,170)"/>
<ellipse cx="262.3" cy="161.2" rx="4.8" ry="2.6" transform="rotate(50 262.3 161.2)" fill="rgb(14,14,209)"/>
<ellipse cx="172.3" cy="32.1" rx="4.3" ry="2.4" transform="rotate(52 172.3 32.1)" fill="rgb(35,35,234)"/>
<ellipse cx="237.3" cy="63.6" rx="3.7" ry="1.4" transform="rotate(56 237.3 63.6)" fill="rgb(16,16,188)"/>
<ellipse cx="269.9" cy="70.9" rx="4.3" ry="2.2" transform="rotate(69 269.9 70.9)" fill="rgb(21,21,228)"/>
<ellipse cx="205.5" cy="51.6" rx="3.9" ry="2.9" transform="rotate(62 205.5 51.6)" fill="rgb(30,30,226)"/>
<ellipse cx="249.3" cy="212.1" rx="3.2" ry="2.5" transform="rotate(32 249.3 212.1)" fill="rgb(20,20,248)"/>
<ellipse cx="316.6" cy="145.5" rx="3.2" ry="2.3" transform="rotate(65 316.6 145.5)" fill="rgb(34,34,247)"/>
<ellipse cx="317.2" cy="240.9" rx="4.3" ry="2.2" transform="rotate(93 317.2 240.9)" fill="rgb(19,19,194)"/>
<ellipse cx="222.9" cy="204.1" rx="3.1" ry="1.6" transform="rotate(39 222.9 204.1)" fill="rgb(32,32,217)"/>
<ellipse cx="189.9" cy="58.6" rx="2.9" ry="1.6" transform="rotate(52 189.9 58.6)" fill="rgb(12,12,194)"/>
<ellipse cx="299.1" cy="162.8" rx="3.1" ry="2.6" transform="rotate(31 299.1 162.8)" fill="rgb(21,21,241)"/>
<ellipse cx="208.2" cy="234.1" rx="2.8" ry="2.4" transform="rotate(64 208.2 234.1)" fill="rgb(33,33,232)"/>
<ellipse cx="300.3" cy="135.3" rx="2.9" ry="1.8" transform="rotate(42 300.3 135.3)" fill="rgb(27,27,234)"/>
<ellipse cx="297.6" cy="174.4" rx="3.7" ry="3.0" transform="rotate(67 297.6 174.4)" fill="rgb(11,11,234)"/>
<ellipse cx="200.8" cy="122.3" rx="3.8" ry="2.3" transform="rotate(59 200.8 122.3)" fill="rgb(28,28,215)"/>
<ellipse cx="238.9" cy="30.0" rx="3.2" ry="1.6" transform="rotate(54 238.9 30.0)" fill="rgb(27,27,194)"/>
<ellipse cx="228.2" cy="142.6" rx="3.8" ry="2.2" transform="rotate(39 228.2 142.6)" fill="rgb(13,13,216)"/>
<ellipse cx="313.9" cy="59.0" rx="3.1" ry="2.1" transform="rotate(71 313.9 59.0)" fill="rgb(30,30,242)"/>
<ellipse cx="285.3" cy="107.1" rx="4.0" ry="3.4" transform="rotate(37 285.3 107.1)" fill="rgb(35,35,211)"/>
<ellipse cx="280.3" cy="112.4" rx="3.7" ry="3.0" transform="rotate(93 280.3 112.4)" fill="rgb(12,12,186)"/>
<ellipse cx="269.1" cy="82.2" rx="4.2" ry="3.2" transform="rotate(82 269.1 82.2)" fill="rgb(18,18,243)"/>
<ellipse cx="181.6" cy="58.9" rx="3.9" ry="3.2" transform="rotate(67 181.6 58.9)" fill="rgb(10,10,203)"/>
<ellipse cx="186.4" cy="173.5" rx="3.4" ry="2.0" transform="rotate(30 186.4 173.5)" fill="rgb(21,21,245)"/>
<ellipse cx="171.2" cy="240.9" rx="2.7" ry="2.1" transform="rotate(55 171.2 240.9)" fill="rgb(19,19,219)"/>
<ellipse cx="313.5" cy="157.4" rx="3.4" ry="2.4" transform="rotate(64 313.5 157.4)" fill="rgb(22,22,213)"/>
<ellipse cx="222.2" cy="120.7" rx="3.2" ry="2.0" transform="rotate(15 222.2 120.7)" fill="rgb(14,14,213)"/>
<ellipse cx="255.2" cy="88.8" rx="4.9" ry="2.4" transform="rotate(63 255.2 88.8)" fill="rgb(19,19,185)"/>
<ellipse cx="276.6" cy="159.1" rx="4.3" ry="1.8" transform="rotate(59 276.6 159.1)" fill="rgb(26,26,198)"/>
<ellipse cx="298.6" cy="91.3" rx="3.2" ry="1.7" transform="rotate(35 298.6 91.3)" fill="rgb(21,21,228)"/>
<ellipse cx="291.0" cy="99.8" rx="3.0" ry="2.1" transform="rotate(51 291.0 99.8)" fill="rgb(12,12,248)"/>
<ellipse cx="298.0" cy="153.1" rx="4.0" ry="2.3" transform="rotate(34 298.0 153.1)" fill="rgb(30,30,187)"/>
<ellipse cx="305.9" cy="64.2" rx="4.2" ry="2.2" transform="rotate(89 305.9 64.2)" fill="rgb(13,13,188)"/>
<ellipse cx="260.3" cy="45.4" rx="4.2" ry="1.8" transform="rotate(51 260.3 45.4)" fill="rgb(24,24,187)"/>
<ellipse cx="173.0" cy="72.5" rx="2.8" ry="1.6" transform="rotate(40 173.0 72.5)" fill="rgb(35,35,223)"/>
<ellipse cx="190.2" cy="228.9" rx="4.4" ry="2.6" transform="rotate(62 190.2 228.9)" fill="rgb(31,31,210)"/>
<ellipse cx="246.7" cy="134.2" rx="3.3" ry="1.3" transform="rotate(73 246.7 134.2)" fill="rgb(31,31,172)"/>
<ellipse cx="290.4" cy="157.9" rx="3.6" ry="2.1" transform="rotate(76 290.4 157.9)" fill="rgb(25,25,226)"/>
<ellipse cx="246.2" cy="220.4" rx="4.0" ry="3.0" transform="rotate(85 246.2 220.4)" fill="rgb(14,14,214)"/>
<ellipse cx="199.4" cy="218.2" rx="2.9" ry="2.2" transform="rotate(60 199.4 218.2)" fill="rgb(34,34,210)"/>
<ellipse cx="208.1" cy="161.8" rx="3.6" ry="3.0" transform="rotate(64 208.1 161.8)" fill="rgb(16,16,243)"/>
<ellipse cx="208.8" cy="179.5" rx="2.9" ry="2.0" transform="rotate(53 208.8 179.5)" fill="rgb(30,30,212)"/>
<ellipse cx="310.7" cy="56.7" rx="3.0" ry="1.9" transform="rotate(90 310.7 56.7)" fill="rgb(12,12,244)"/>
<ellipse cx="173.3" cy="45.3" rx="3.2" ry="1.9" transform="rotate(48 173.3 45.3)" fill="rgb(11,11,223)"/>
<ellipse cx="170.4" cy="161.0" rx="3.7" ry="2.7" transform="rotate(24 170.4 161.0)" fill="rgb(17,17,188)"/>
<ellipse cx="210.0" cy="124.4" rx="3.3" ry="2.0" transform="rotate(43 210.0 124.4)" fill="rgb(24,24,218)"/>
<ellipse cx="214.0" cy="92.8" rx="4.0" ry="3.1" transform="rotate(42 214.0 92.8)" fill="rgb(33,33,212)"/>
<ellipse cx="230.7" cy="131.3" rx="3.2" ry="2.7" transform="rotate(2 230.7 131.3)" fill="rgb(23,23,250)"/>
<ellipse cx="227.4" cy="125.3" rx="3.5" ry="2.2" transform="rotate(49 227.4 125.3)" fill="rgb(25,25,220)"/>
<ellipse cx="276.5" cy="118.3" rx="3.2" ry="2.3" transform="rotate(72 276.5 118.3)" fill="rgb(30,30,210)"/>
<ellipse cx="289.4" cy="200.8" rx="4.6" ry="2.5" transform="rotate(70 289.4 200.8)" fill="rgb(11,11,178)"/>
<ellipse cx="193.6" cy="57.5" rx="2.9" ry="1.8" transform="rotate(55 193.6 57.5)" fill="rgb(22,22,202)"/>
<ellipse cx="311.8" cy="72.6" rx="3.7" ry="2.7" transform="rotate(39 311.8 72.6)" fill="rgb(25,25,189)"/>
<ellipse cx="298.3" cy="211.4" rx="2.7" ry="1.8" transform="rotate(46 298.3 211.4)" fill="rgb(14,14,188)"/>
<ellipse cx="278.2" cy="98.9" rx="3.8" ry="2.2" transform="rotate(74 278.2 98.9)" fill="rgb(13,13,245)"/>
<ellipse cx="252.8" cy="70.1" rx="3.9" ry="2.0" transform="rotate(70 252.8 70.1)" fill="rgb(24,24,207)"/>
<ellipse cx="207.1" cy="198.2" rx="2.7" ry="1.4" transform="rotate(64 207.1 198.2)" fill="rgb(32,32,245)"/>
<ellipse cx="182.5" cy="121.4" rx="3.0" ry="2.3" transform="rotate(24 182.5 121.4)" fill="rgb(13,13,217)"/>
<ellipse cx="200.3" cy="109.0" rx="4.0" ry="2.6" transform="rotate(43 200.3 109.0)" fill="rgb(22,22,208)"/>
<ellipse cx="300.1" cy="119.3" rx="4.1" ry="3.1" transform="rotate(58 300.1 119.3)" fill="rgb(10,10,236)"/>
<ellipse cx="199.4" cy="183.8" rx="3.1" ry="1.8" transform="rotate(20 199.4 183.8)" fill="rgb(32,32,246)"/>
<ellipse cx="193.7" cy="52.2" rx="3.9" ry="2.5" transform="rotate(2 193.7 52.2)" fill="rgb(31,31,188)"/>
<ellipse cx="217.8" cy="84.2" rx="2.7" ry="1.6" transform="rotate(18 217.8 84.2)" fill="rgb(31,31,228)"/>
<ellipse cx="240.6" cy="141.1" rx="3.2" ry="1.2" transform="rotate(74 240.6 141.1)" fill="rgb(17,17,187)"/>
<ellipse cx="291.4" cy="126.6" rx="2.7" ry="1.5" transform="rotate(72 291.4 126.6)" fill="rgb(11,11,245)"/>
<ellipse cx="315.9" cy="66.6" rx="3.1" ry="2.4" transform="rotate(42 315.9 66.6)" fill="rgb(25,25,192)"/>
<ellipse cx="233.0" cy="203.6" rx="3.4" ry="1.9" transform="rotate(27 233.0 203.6)" fill="rgb(21,21,190)"/>
<ellipse cx="305.1" cy="217.9" rx="3.2" ry="2.5" transform="rotate(29 305.1 217.9)" fill="rgb(31,31,189)"/>
<ellipse cx="182.3" cy="69.5" rx="3.0" ry="1.6" transform="rotate(26 182.3 69.5)" fill="rgb(13,13,237)"/>
<ellipse cx="196.0" cy="92.2" rx="3.0" ry="1.5" transform="rotate(16 196.0 92.2)" fill="rgb(16,16,244)"/>
<ellipse cx="291.0" cy="43.2" rx="2.8" ry="2.2" transform="rotate(57 291.0 43.2)" fill="rgb(25,25,190)"/>
<ellipse cx="196.4" cy="232.9" rx="3.8" ry="2.1" transform="rotate(60 196.4 232.9)" fill="rgb(31,31,221)"/>
<ellipse cx="202.3" cy="175.7" rx="4.3" ry="2.6" transform="rotate(13 202.3 175.7)" fill="rgb(25,25,234)"/>
<ellipse cx="176.2" cy="217.9" rx="3.6" ry="2.4" transform="rotate(49 176.2 217.9)" fill="rgb(17,17,190)"/>
<ellipse cx="198.3" cy="155.5" rx="3.3" ry="1.7" transform="rotate(39 198.3 155.5)" fill="rgb(14,14,200)"/>
<ellipse cx="301.9" cy="187.6" rx="2.7" ry="1.8" transform="rotate(62 301.9 187.6)" fill="rgb(25,25,249)"/>
<ellipse cx="279.4" cy="172.3" rx="4.4" ry="1.7" transform="rotate(68 279.4 172.3)" fill="rgb(14,14,187)"/>
<ellipse cx="324.8" cy="126.6" rx="3.2" ry="2.2" transform="rotate(90 324.8 126.6)" fill="rgb(26,26,220)"/>
<ellipse cx="253.8" cy="117.9" rx="3.5" ry="1.5" transform="rotate(56 253.8 117.9)" fill="rgb(33,33,174)"/>
<ellipse cx="295.0" cy="98.4" rx="4.2" ry="2.5" transform="rotate(49 295.0 98.4)" fill="rgb(26,26,203)"/>
<ellipse cx="287.2" cy="89.6" rx="4.0" ry="2.2" transform="rotate(85 287.2 89.6)" fill="rgb(9,9,207)"/>
<ellipse cx="215.8" cy="116.1" rx="3.4" ry="2.2" transform="rotate(64 215.8 116.1)" fill="rgb(34,34,202)"/>
<ellipse cx="246.9" cy="59.6" rx="3.5" ry="1.8" transform="rotate(73 246.9 59.6)" fill="rgb(23,23,211)"/>
<ellipse cx="318.7" cy="125.3" rx="2.7" ry="1.9" transform="rotate(40 318.7 125.3)" fill="rgb(27,27,225)"/>
<ellipse cx="223.4" cy="79.2" rx="4.2" ry="2.5" transform="rotate(14 223.4 79.2)" fill="rgb(26,26,191)"/>
<ellipse cx="183.4" cy="213.0" rx="3.4" ry="2.5" transform="rotate(57 183.4 213.0)" fill="rgb(14,14,213)"/>
<ellipse cx="204.0" cy="185.6" rx="3.7" ry="2.3" transform="rotate(8 204.0 185.6)" fill="rgb(33,33,228)"/>
<ellipse cx="197.5" cy="47.1" rx="3.1" ry="1.9" transform="rotate(47 197.5 47.1)" fill="rgb(28,28,202)"/>
<ellipse cx="318.0" cy="94.1" rx="3.2" ry="2.0" transform="rotate(90 318.0 94.1)" fill="rgb(23,23,227)"/>
<ellipse cx="249.1" cy="197.5" rx="3.2" ry="2.3" transform="rotate(81 249.1 197.5)" fill="rgb(20,20,187)"/>
<ellipse cx="189.4" cy="213.8" rx="3.4" ry="2.6" transform="rotate(40 189.4 213.8)" fill="rgb(8,8,241)"/>
<ellipse cx="191.7" cy="102.6" rx="3.8" ry="2.5" transform="rotate(53 191.7 102.6)" fill="rgb(31,31,186)"/>
<ellipse cx="325.5" cy="44.8" rx="4.0" ry="3.3" transform="rotate(42 325.5 44.8)" fill="rgb(26,26,233)"/>
<ellipse cx="286.4" cy="170.3" rx="4.0" ry="2.8" transform="rotate(63 286.4 170.3)" fill="rgb(31,31,218)"/>
<ellipse cx="204.1" cy="69.6" rx="2.6" ry="2.2" transform="rotate(7 204.1 69.6)" fill="rgb(9,9,193)"/>
<ellipse cx="243.9" cy="232.2" rx="3.8" ry="2.2" transform="rotate(54 243.9 232.2)" fill="rgb(17,17,250)"/>
<ellipse cx="302.8" cy="49.1" rx="4.1" ry="3.1" transform="rotate(27 302.8 49.1)" fill="rgb(24,24,197)"/>
<ellipse cx="307.2" cy="52.1" rx="2.6" ry="2.0" transform="rotate(47 307.2 52.1)" fill="rgb(29,29,234)"/>
<ellipse cx="286.6" cy="36.2" rx="4.1" ry="2.4" transform="rotate(87 286.6 36.2)" fill="rgb(8,8,243)"/>
<ellipse cx="176.1" cy="196.8" rx="3.7" ry="3.1" transform="rotate(68 176.1 196.8)" fill="rgb(35,35,245)"/>
<ellipse cx="262.1" cy="90.4" rx="4.0" ry="1.7" transform="rotate(59 262.1 90.4)" fill="rgb(17,17,194)"/>
<ellipse cx="283.7" cy="220.2" rx="4.6" ry="2.4" transform="rotate(62 283.7 220.2)" fill="rgb(8,8,184)"/>
<ellipse cx="265.8" cy="95.1" rx="3.8" ry="1.9" transform="rotate(72 265.8 95.1)" fill="rgb(35,35,164)"/>
<ellipse cx="321.7" cy="233.5" rx="4.1" ry="3.5" transform="rotate(47 321.7 233.5)" fill="rgb(12,12,198)"/>
<ellipse cx="263.3" cy="227.8" rx="4.8" ry="1.7" transform="rotate(74 263.3 227.8)" fill="rgb(10,10,202)"/>
<ellipse cx="194.0" cy="187.9" rx="4.1" ry="2.9" transform="rotate(6 194.0 187.9)" fill="rgb(35,35,224)"/>
<ellipse cx="317.8" cy="52.2" rx="2.9" ry="1.9" transform="rotate(29 317.8 52.2)" fill="rgb(20,20,216)"/>
<ellipse cx="176.6" cy="211.9" rx="3.8" ry="2.7" transform="rotate(55 176.6 211.9)" fill="rgb(16,16,200)"/>
<ellipse cx="264.3" cy="221.0" rx="4.7" ry="1.9" transform="rotate(54 264.3 221.0)" fill="rgb(30,30,164)"/>
<ellipse cx="216.3" cy="137.7" rx="3.6" ry="3.1" transform="rotate(56 216.3 137.7)" fill="rgb(13,13,209)"/>
<ellipse cx="229.2" cy="150.2" rx="3.9" ry="2.6" transform="rotate(41 229.2 150.2)" fill="rgb(33,33,197)"/>
<ellipse cx="281.6" cy="87.8" rx="3.6" ry="2.7" transform="rotate(78 281.6 87.8)" fill="rgb(27,27,203)"/>
<ellipse cx="175.0" cy="120.8" rx="3.0" ry="2.1" transform="rotate(14 175.0 120.8)" fill="rgb(13,13,223)"/>
<ellipse cx="277.8" cy="37.4" rx="3.8" ry="3.2" transform="rotate(56 277.8 37.4)" fill="rgb(10,10,239)"/>
<ellipse cx="249.7" cy="81.6" rx="3.4" ry="1.9" transform="rotate(73 249.7 81.6)" fill="rgb(35,35,208)"/>
<ellipse cx="213.2" cy="207.7" rx="3.6" ry="2.9" transform="rotate(59 213.2 207.7)" fill="rgb(11,11,185)"/>
<ellipse cx="238.3" cy="78.9" rx="3.8" ry="2.1" transform="rotate(68 238.3 78.9)" fill="rgb(34,34,173)"/>
<ellipse cx="174.4" cy="156.0" rx="3.1" ry="1.9" transform="rotate(59 174.4 156.0)" fill="rgb(14,14,241)"/>
<ellipse cx="201.8" cy="159.4" rx="2.6" ry="1.7" transform="rotate(28 201.8 159.4)" fill="rgb(11,11,231)"/>
<ellipse cx="298.9" cy="225.3" rx="3.9" ry="3.2" transform="rotate(84 298.9 225.3)" fill="rgb(15,15,227)"/>
<ellipse cx="206.9" cy="100.4" rx="3.6" ry="2.1" transform="rotate(52 206.9 100.4)" fill="rgb(20,20,201)"/>
<ellipse cx="231.4" cy="179.6" rx="2.9" ry="1.8" transform="rotate(27 231.4 179.6)" fill="rgb(35,35,213)"/>
<ellipse cx="264.9" cy="149.3" rx="3.3" ry="1.5" transform="rotate(68 264.9 149.3)" fill="rgb(11,11,184)"/>
<ellipse cx="306.1" cy="187.9" rx="3.7" ry="2.0" transform="rotate(63 306.1 187.9)" fill="rgb(12,12,187)"/>
<ellipse cx="317.1" cy="62.1" rx="3.6" ry="2.0" transform="rotate(87 317.1 62.1)" fill="rgb(14,14,231)"/>
<ellipse cx="295.1" cy="28.9" rx="2.8" ry="1.6" transform="rotate(76 295.1 28.9)" fill="rgb(29,29,199)"/>
<ellipse cx="184.4" cy="160.3" rx="3.6" ry="2.7" transform="rotate(25 184.4 160.3)" fill="rgb(18,18,188)"/>
<ellipse cx="317.6" cy="229.5" rx="3.9" ry="1.9" transform="rotate(25 317.6 229.5)" fill="rgb(19,19,199)"/>
<ellipse cx="237.6" cy="195.7" rx="3.2" ry="2.1" transform="rotate(12 237.6 195.7)" fill="rgb(11,11,236)"/>
<ellipse cx="324.9" cy="181.5" rx="4.2" ry="3.1" transform="rotate(37 324.9 181.5)" fill="rgb(14,14,188)"/>
<ellipse cx="175.5" cy="182.6" rx="3.4" ry="2.3" transform="rotate(2 175.5 182.6)" fill="rgb(22,22,232)"/>
<ellipse cx="216.4" cy="228.2" rx="4.0" ry="2.7" transform="rotate(67 216.4 228.2)" fill="rgb(15,15,207)"/>
<ellipse cx="258.1" cy="72.2" rx="4.8" ry="2.3" transform="rotate(54 258.1 72.2)" fill="rgb(14,14,210)"/>
<ellipse cx="258.1" cy="100.9" rx="3.1" ry="1.6" transform="rotate(72 258.1 100.9)" fill="rgb(13,13,187)"/>
<ellipse cx="263.9" cy="206.3" rx="4.1" ry="2.2" transform="rotate(66 263.9 206.3)" fill="rgb(23,23,211)"/>
<ellipse cx="265.7" cy="143.7" rx="4.0" ry="2.0" transform="rotate(63 265.7 143.7)" fill="rgb(18,18,169)"/>
<ellipse cx="249.8" cy="163.6" rx="3.5" ry="1.8" transform="rotate(67 249.8 163.6)" fill="rgb(23,23,173)"/>
<ellipse cx="266.0" cy="52.5" rx="4.2" ry="3.3" transform="rotate(69 266.0 52.5)" fill="rgb(14,14,187)"/>
<ellipse cx="192.9" cy="79.3" rx="4.1" ry="3.2" transform="rotate(31 192.9 79.3)" fill="rgb(26,26,234)"/>
<ellipse cx="222.9" cy="176.8" rx="3.8" ry="2.5" transform="rotate(68 222.9 176.8)" fill="rgb(12,12,221)"/>
<ellipse cx="281.1" cy="129.3" rx="4.2" ry="3.0" transform="rotate(64 281.1 129.3)" fill="rgb(17,17,202)"/>
<ellipse cx="284.5" cy="125.5" rx="4.3" ry="2.3" transform="rotate(90 284.5 125.5)" fill="rgb(8,8,206)"/>
<ellipse cx="211.8" cy="166.8" rx="4.2" ry="3.2" transform="rotate(7 211.8 166.8)" fill="rgb(32,32,214)"/>
<ellipse cx="304.9" cy="196.3" rx="2.7" ry="1.8" transform="rotate(28 304.9 196.3)" fill="rgb(14,14,208)"/>
<ellipse cx="178.1" cy="227.8" rx="3.8" ry="2.1" transform="rotate(28 178.1 227.8)" fill="rgb(8,8,214)"/>
<ellipse cx="270.7" cy="37.1" rx="3.7" ry="2.4" transform="rotate(76 270.7 37.1)" fill="rgb(30,30,209)"/>
<ellipse cx="186.7" cy="199.5" rx="2.8" ry="2.0" transform="rotate(0 186.7 199.5)" fill="rgb(8,8,235)"/>
<ellipse cx="293.1" cy="94.1" rx="2.8" ry="1.9" transform="rotate(50 293.1 94.1)" fill="rgb(28,28,219)"/>
<ellipse cx="182.9" cy="88.9" rx="4.0" ry="3.4" transform="rotate(29 182.9 88.9)" fill="rgb(29,29,239)"/>
<ellipse cx="223.9" cy="157.9" rx="4.3" ry="2.8" transform="rotate(7 223.9 157.9)" fill="rgb(34,34,243)"/>
<ellipse cx="204.6" cy="213.4" rx="3.3" ry="2.3" transform="rotate(67 204.6 213.4)" fill="rgb(30,30,221)"/>
<ellipse cx="244.6" cy="150.8" rx="3.9" ry="1.5" transform="rotate(58 244.6 150.8)" fill="rgb(8,8,204)"/>
<ellipse cx="196.6" cy="199.9" rx="3.0" ry="2.2" transform="rotate(56 196.6 199.9)" fill="rgb(10,10,212)"/>
<ellipse cx="244.1" cy="212.6" rx="2.6" ry="1.9" transform="rotate(31 244.1 212.6)" fill="rgb(9,9,247)"/>
<ellipse cx="236.6" cy="71.5" rx="3.3" ry="1.5" transform="rotate(62 236.6 71.5)" fill="rgb(15,15,157)"/>
<ellipse cx="238.4" cy="166.5" rx="4.1" ry="2.8" transform="rotate(29 238.4 166.5)" fill="rgb(12,12,189)"/>
<ellipse cx="281.6" cy="63.9" rx="2.7" ry="1.7" transform="rotate(34 281.6 63.9)" fill="rgb(34,34,185)"/>
<ellipse cx="218.9" cy="94.5" rx="3.7" ry="1.9" transform="rotate(45 218.9 94.5)" fill="rgb(10,10,220)"/>
<ellipse cx="307.3" cy="214.5" rx="2.9" ry="2.2" transform="rotate(59 307.3 214.5)" fill="rgb(30,30,202)"/>
<ellipse cx="189.4" cy="155.4" rx="4.0" ry="3.0" transform="rotate(35 189.4 155.4)" fill="rgb(30,30,230)"/>
<ellipse cx="184.3" cy="193.2" rx="3.9" ry="2.2" transform="rotate(19 184.3 193.2)" fill="rgb(32,32,195)"/>
<ellipse cx="257.3" cy="214.2" rx="3.2" ry="1.5" transform="rotate(58 257.3 214.2)" fill="rgb(10,10,212)"/>
<ellipse cx="235.5" cy="140.5" rx="2.7" ry="2.2" transform="rotate(5 235.5 140.5)" fill="rgb(16,16,243)"/>
<ellipse cx="189.7" cy="203.0" rx="3.2" ry="2.0" transform="rotate(61 189.7 203.0)" fill="rgb(35,35,243)"/>
<ellipse cx="278.1" cy="106.3" rx="3.9" ry="2.3" transform="rotate(58 278.1 106.3)" fill="rgb(25,25,193)"/>
<ellipse cx="269.8" cy="238.3" rx="4.9" ry="2.2" transform="rotate(61 269.8 238.3)" fill="rgb(29,29,209)"/>
<ellipse cx="210.4" cy="190.7" rx="4.3" ry="2.2" transform="rotate(16 210.4 190.7)" fill="rgb(24,24,185)"/>
<ellipse cx="278.9" cy="92.0" rx="3.2" ry="2.1" transform="rotate(61 278.9 92.0)" fill="rgb(31,31,205)"/>
<ellipse cx="283.6" cy="98.9" rx="3.8" ry="2.9" transform="rotate(62 283.6 98.9)" fill="rgb(23,23,224)"/>
<ellipse cx="274.1" cy="50.4" rx="3.1" ry="2.2" transform="rotate(71 274.1 50.4)" fill="rgb(13,13,194)"/>
<ellipse cx="313.3" cy="96.2" rx="2.7" ry="1.8" transform="rotate(33 313.3 96.2)" fill="rgb(20,20,206)"/>
<ellipse cx="181.4" cy="197.8" rx="4.1" ry="2.1" transform="rotate(4 181.4 197.8)" fill="rgb(21,21,196)"/>
<ellipse cx="300.0" cy="79.1" rx="3.9" ry="3.0" transform="rotate(82 300.0 79.1)" fill="rgb(12,12,209)"/>
<ellipse cx="250.2" cy="89.7" rx="4.1" ry="1.7" transform="rotate(67 250.2 89.7)" fill="rgb(19,19,209)"/>
<ellipse cx="251.2" cy="44.4" rx="4.7" ry="2.1" transform="rotate(61 251.2 44.4)" fill="rgb(32,32,174)"/>
<ellipse cx="174.5" cy="103.2" rx="3.4" ry="2.3" transform="rotate(14 174.5 103.2)" fill="rgb(30,30,199)"/>
<ellipse cx="266.5" cy="202.5" rx="3.2" ry="1.4" transform="rotate(63 266.5 202.5)" fill="rgb(12,12,207)"/>
<ellipse cx="295.3" cy="178.8" rx="3.9" ry="2.6" transform="rotate(85 295.3 178.8)" fill="rgb(11,11,186)"/>
<ellipse cx="316.1" cy="179.9" rx="3.6" ry="2.9" transform="rotate(91 316.1 179.9)" fill="rgb(13,13,233)"/>
<ellipse cx="235.9" cy="215.7" rx="3.4" ry="1.8" transform="rotate(52 235.9 215.7)" fill="rgb(14,14,217)"/>
<ellipse cx="204.4" cy="104.8" rx="3.9" ry="2.6" transform="rotate(43 204.4 104.8)" fill="rgb(26,26,239)"/>
<ellipse cx="214.8" cy="157.6" rx="3.0" ry="1.6" transform="rotate(52 214.8 157.6)" fill="rgb(16,16,228)"/>
<ellipse cx="191.8" cy="131.6" rx="4.0" ry="2.9" transform="rotate(9 191.8 131.6)" fill="rgb(34,34,227)"/>
<ellipse cx="280.9" cy="141.6" rx="3.4" ry="2.3" transform="rotate(64 280.9 141.6)" fill="rgb(30,30,188)"/>
<ellipse cx="310.4" cy="199.6" rx="3.9" ry="2.3" transform="rotate(84 310.4 199.6)" fill="rgb(23,23,248)"/>
<ellipse cx="296.2" cy="189.9" rx="3.1" ry="2.0" transform="rotate(87 296.2 189.9)" fill="rgb(19,19,240)"/>
<ellipse cx="173.9" cy="166.5" rx="3.2" ry="1.8" transform="rotate(63 173.9 166.5)" fill="rgb(24,24,222)"/>
<ellipse cx="189.6" cy="167.6" rx="3.0" ry="1.8" transform="rotate(19 189.6 167.6)" fill="rgb(14,14,208)"/>
<ellipse cx="285.2" cy="177.0" rx="3.9" ry="1.5" transform="rotate(68 285.2 177.0)" fill="rgb(13,13,198)"/>
<ellipse cx="261.9" cy="153.6" rx="4.9" ry="2.6" transform="rotate(53 261.9 153.6)" fill="rgb(27,27,197)"/>
<ellipse cx="286.3" cy="117.5" rx="3.4" ry="2.9" transform="rotate(75 286.3 117.5)" fill="rgb(22,22,225)"/>
<ellipse cx="312.0" cy="119.7" rx="2.7" ry="2.2" transform="rotate(31 312.0 119.7)" fill="rgb(10,10,188)"/>
<ellipse cx="181.7" cy="155.3" rx="2.7" ry="1.7" transform="rotate(29 181.7 155.3)" fill="rgb(13,13,206)"/>
<ellipse cx="265.7" cy="112.3" rx="4.1" ry="2.1" transform="rotate(72 265.7 112.3)" fill="rgb(18,18,186)"/>
<ellipse cx="283.5" cy="229.1" rx="3.1" ry="1.2" transform="rotate(57 283.5 229.1)" fill="rgb(11,11,158)"/>
<ellipse cx="282.9" cy="192.2" rx="3.6" ry="1.4" transform="rotate(59 282.9 192.2)" fill="rgb(34,34,188)"/>
<ellipse cx="252.1" cy="200.8" rx="4.6" ry="2.1" transform="rotate(72 252.1 200.8)" fill="rgb(24,24,201)"/>
<g clip-path="url(#cL)"><g transform="rotate(35 210 134)" filter="url(#fyA)"><g transform="rotate(-35 210 134)"><rect x="100" y="-60" width="300" height="360" fill="#161616"/><ellipse cx="200" cy="45" rx="40" ry="15" fill="url(#yg0)"/><ellipse cx="272" cy="42" rx="48" ry="14" fill="url(#yg1)"/><ellipse cx="202" cy="92" rx="30" ry="30" fill="url(#yg2)"/><ellipse cx="205" cy="155" rx="32" ry="28" fill="url(#yg3)"/><ellipse cx="200" cy="215" rx="30" ry="28" fill="url(#yg4)"/><ellipse cx="308" cy="95" rx="20" ry="35" fill="url(#yg5)"/><ellipse cx="308" cy="212" rx="22" ry="30" fill="url(#yg6)"/><ellipse cx="255" cy="180" rx="15" ry="20" fill="url(#yg7)"/><ellipse cx="180" cy="125" rx="12" ry="20" fill="url(#yg8)"/><path d="M222,20 L252,20 L300,245 L262,245Z" fill="#000" opacity="0.9" filter="url(#bl4)"/></g></g></g>
<g clip-path="url(#cRt)"><g transform="rotate(60 285 134)" filter="url(#fyB)"><g transform="rotate(-60 285 134)"><rect x="100" y="-60" width="300" height="360" fill="#161616"/><ellipse cx="200" cy="45" rx="40" ry="15" fill="url(#yg0)"/><ellipse cx="272" cy="42" rx="48" ry="14" fill="url(#yg1)"/><ellipse cx="202" cy="92" rx="30" ry="30" fill="url(#yg2)"/><ellipse cx="205" cy="155" rx="32" ry="28" fill="url(#yg3)"/><ellipse cx="200" cy="215" rx="30" ry="28" fill="url(#yg4)"/><ellipse cx="308" cy="95" rx="20" ry="35" fill="url(#yg5)"/><ellipse cx="308" cy="212" rx="22" ry="30" fill="url(#yg6)"/><ellipse cx="255" cy="180" rx="15" ry="20" fill="url(#yg7)"/><ellipse cx="180" cy="125" rx="12" ry="20" fill="url(#yg8)"/><path d="M222,20 L252,20 L300,245 L262,245Z" fill="#000" opacity="0.9" filter="url(#bl4)"/></g></g></g>
<g clip-path="url(#cL)"><g transform="rotate(30 210 134)" filter="url(#ffA)"><g transform="rotate(-30 210 134)"><rect x="100" y="-60" width="300" height="360" fill="#161616"/><ellipse cx="200" cy="45" rx="40" ry="15" fill="url(#yg0)"/><ellipse cx="272" cy="42" rx="48" ry="14" fill="url(#yg1)"/><ellipse cx="202" cy="92" rx="30" ry="30" fill="url(#yg2)"/><ellipse cx="205" cy="155" rx="32" ry="28" fill="url(#yg3)"/><ellipse cx="200" cy="215" rx="30" ry="28" fill="url(#yg4)"/><ellipse cx="308" cy="95" rx="20" ry="35" fill="url(#yg5)"/><ellipse cx="308" cy="212" rx="22" ry="30" fill="url(#yg6)"/><ellipse cx="255" cy="180" rx="15" ry="20" fill="url(#yg7)"/><ellipse cx="180" cy="125" rx="12" ry="20" fill="url(#yg8)"/><path d="M222,20 L252,20 L300,245 L262,245Z" fill="#000" opacity="0.9" filter="url(#bl4)"/></g></g></g>
<g clip-path="url(#cRt)"><g transform="rotate(62 285 134)" filter="url(#ffB)"><g transform="rotate(-62 285 134)"><rect x="100" y="-60" width="300" height="360" fill="#161616"/><ellipse cx="200" cy="45" rx="40" ry="15" fill="url(#yg0)"/><ellipse cx="272" cy="42" rx="48" ry="14" fill="url(#yg1)"/><ellipse cx="202" cy="92" rx="30" ry="30" fill="url(#yg2)"/><ellipse cx="205" cy="155" rx="32" ry="28" fill="url(#yg3)"/><ellipse cx="200" cy="215" rx="30" ry="28" fill="url(#yg4)"/><ellipse cx="308" cy="95" rx="20" ry="35" fill="url(#yg5)"/><ellipse cx="308" cy="212" rx="22" ry="30" fill="url(#yg6)"/><ellipse cx="255" cy="180" rx="15" ry="20" fill="url(#yg7)"/><ellipse cx="180" cy="125" rx="12" ry="20" fill="url(#yg8)"/><path d="M222,20 L252,20 L300,245 L262,245Z" fill="#000" opacity="0.9" filter="url(#bl4)"/></g></g></g>
<ellipse cx="262" cy="48" rx="1.9" ry="1.5" fill="#c02850" opacity="0.9"/>
<circle cx="250" cy="72" r="1.9" fill="#3020b0" stroke="#d83040" stroke-width="1.1" opacity="0.9"/>
<ellipse cx="263" cy="77" rx="2.3" ry="1.9" fill="#c02850" opacity="0.9"/>
<ellipse cx="300" cy="43" rx="2.5" ry="2.0" fill="#c02850" opacity="0.9"/>
<circle cx="296" cy="56" r="2.9" fill="#3020b0" stroke="#d83040" stroke-width="0.9" opacity="0.9"/>
<ellipse cx="318" cy="150" rx="2.7" ry="2.2" fill="#c02850" opacity="0.9"/>
<ellipse cx="248" cy="153" rx="1.9" ry="1.5" fill="#c02850" opacity="0.9"/>
<ellipse cx="233" cy="145" rx="2.3" ry="1.8" fill="#c02850" opacity="0.9"/>
<circle cx="196" cy="168" r="2.2" fill="#3020b0" stroke="#d83040" stroke-width="1.1" opacity="0.9"/>
<circle cx="300" cy="210" r="2.2" fill="#3020b0" stroke="#d83040" stroke-width="1.0" opacity="0.9"/>
<circle cx="183" cy="72" r="2.8" fill="#3020b0" stroke="#d83040" stroke-width="0.9" opacity="0.9"/>
<circle cx="275" cy="185" r="1.9" fill="#3020b0" stroke="#d83040" stroke-width="1.0" opacity="0.9"/>
<circle cx="215" cy="118" r="2.2" fill="#3020b0" stroke="#d83040" stroke-width="0.9" opacity="0.9"/>
<circle cx="240" cy="100" r="2.9" fill="#3020b0" stroke="#d83040" stroke-width="1.2" opacity="0.9"/>
<circle cx="310" cy="95" r="3.0" fill="#3020b0" stroke="#d83040" stroke-width="1.2" opacity="0.9"/>
<ellipse cx="285" cy="150" rx="2.3" ry="1.9" fill="#c02850" opacity="0.9"/>
<ellipse cx="190" cy="100" rx="1.9" ry="1.5" fill="#c02850" opacity="0.9"/>
<ellipse cx="222" cy="60" rx="1.8" ry="1.5" fill="#c02850" opacity="0.9"/>
<circle cx="250" cy="180" r="2.2" fill="none" stroke="#40e0a0" stroke-width="1"/>
<circle cx="221" cy="188" r="2.2" fill="none" stroke="#60e0c0" stroke-width="1"/>
<circle cx="300" cy="226" r="2.2" fill="none" stroke="#60e0c0" stroke-width="1"/>
<circle cx="268" cy="37" r="2.2" fill="none" stroke="#50e050" stroke-width="1"/>
<circle cx="316" cy="226" r="2.2" fill="none" stroke="#60e0c0" stroke-width="1"/>
</g>
<rect x="172.3" y="18.6" width="151.6" height="11.3" fill="#000"/>
<rect x="171.6" y="17.8" width="153" height="221.7" fill="none" stroke="#e02a1a" stroke-width="1.4"/>
<line x1="171.6" y1="29.7" x2="324.6" y2="29.7" stroke="#e02a1a" stroke-width="1.3"/>
<text x="178.4" y="27.7" font-size="8.9" font-weight="bold" fill="#3a86d8" stroke="#3a86d8" stroke-width="0.35" textLength="20.6" lengthAdjust="spacingAndGlyphs">DNA</text>
<text x="213.5" y="27.9" font-size="8.9" font-weight="bold" fill="#9ee6b4" stroke="#9ee6b4" stroke-width="0.35" textLength="23.7" lengthAdjust="spacingAndGlyphs">CD8a</text>
<text x="249.1" y="28.0" font-size="8.9" font-weight="bold" fill="#ee2a1a" stroke="#ee2a1a" stroke-width="0.35" textLength="24.2" lengthAdjust="spacingAndGlyphs">CD20</text>
<text x="282.5" y="28.3" font-size="8.9" font-weight="bold" fill="#e6dc58" stroke="#e6dc58" stroke-width="0.35" textLength="29.5" lengthAdjust="spacingAndGlyphs">CD11b</text>
<ellipse cx="212" cy="92.7" rx="23.8" ry="17.5" fill="none" stroke="#ffffff" stroke-width="1.1"/>
<line x1="280.0" y1="99.0" x2="280.0" y2="44.5" stroke="#ffffff" stroke-width="1.5"/>
<path d="M280.0,39.5 L282.6,44.5 L277.4,44.5Z" fill="#ffffff"/>
<line x1="290.4" y1="102.8" x2="302.2" y2="55.0" stroke="#ffffff" stroke-width="1.5"/>
<path d="M303.4,50.1 L304.7,55.6 L299.7,54.3Z" fill="#ffffff"/>
<line x1="266.7" y1="100.5" x2="258.8" y2="82.2" stroke="#ffffff" stroke-width="1.5"/>
<path d="M256.8,77.6 L261.2,81.2 L256.4,83.2Z" fill="#ffffff"/>
<line x1="260.0" y1="123.0" x2="250.3" y2="150.8" stroke="#ffffff" stroke-width="1.5"/>
<path d="M248.6,155.5 L247.8,149.9 L252.7,151.6Z" fill="#ffffff"/>
<line x1="298.5" y1="123.0" x2="315.6" y2="146.9" stroke="#ffffff" stroke-width="1.5"/>
<path d="M318.5,151.0 L313.5,148.4 L317.7,145.4Z" fill="#ffffff"/>
<line x1="194.5" y1="155.7" x2="200.4" y2="168.5" stroke="#ffffff" stroke-width="1.5"/>
<path d="M202.5,173.0 L198.0,169.6 L202.8,167.4Z" fill="#ffffff"/>
<line x1="249.4" y1="192.5" x2="249.4" y2="178.2" stroke="#ffffff" stroke-width="1.5"/>
<path d="M249.4,173.2 L252.0,178.2 L246.8,178.2Z" fill="#ffffff"/>
<line x1="235.4" y1="190.7" x2="228.8" y2="189.3" stroke="#ffffff" stroke-width="1.5"/>
<path d="M224.9,188.4 L229.2,187.3 L228.4,191.2Z" fill="#ffffff"/>
<line x1="184.0" y1="81.5" x2="186.2" y2="83.7" stroke="#ffffff" stroke-width="1.1"/>
<path d="M188.6,86.2 L184.9,85.0 L187.4,82.4Z" fill="#ffffff"/>
<text x="176.9" y="58.0" font-size="8.8" font-weight="bold" fill="#ffffff" stroke="#ffffff" stroke-width="0.3">CD11b<tspan dy="-3" font-size="6">+</tspan></text>
<text x="176.9" y="67.4" font-size="8.8" font-weight="bold" fill="#ffffff" stroke="#ffffff" stroke-width="0.3">myeloid</text>
<text x="176.9" y="77.4" font-size="8.8" font-weight="bold" fill="#ffffff" stroke="#ffffff" stroke-width="0.3">cell</text>
<text x="250.6" y="116.5" font-size="8.8" font-weight="bold" fill="#ffffff" stroke="#ffffff" stroke-width="0.3" textLength="56.1" lengthAdjust="spacingAndGlyphs">CD11b<tspan dy="-3" font-size="6">+</tspan><tspan dy="3">CD20</tspan><tspan dy="-3" font-size="6">+</tspan></text>
<text x="270.0" y="126.0" font-size="8.8" font-weight="bold" fill="#ffffff" stroke="#ffffff" stroke-width="0.3" textLength="19.6" lengthAdjust="spacingAndGlyphs">Breg</text>
<text x="181.7" y="140.4" font-size="8.8" font-weight="bold" fill="#ffffff" stroke="#ffffff" stroke-width="0.3">CD20<tspan dy="-3" font-size="6">+</tspan></text>
<text x="181.7" y="150.8" font-size="8.8" font-weight="bold" fill="#ffffff" stroke="#ffffff" stroke-width="0.3" textLength="23.3" lengthAdjust="spacingAndGlyphs">B cell</text>
<text x="235.4" y="199.4" font-size="8.8" font-weight="bold" fill="#ffffff" stroke="#ffffff" stroke-width="0.3" textLength="45.6" lengthAdjust="spacingAndGlyphs">CD8<tspan dy="-3" font-size="6">+</tspan><tspan dy="3"> T cell</tspan></text>
<text x="179.3" y="229.3" font-size="8.8" font-weight="bold" fill="#ffffff" stroke="#ffffff" stroke-width="0.3" textLength="22.2" lengthAdjust="spacingAndGlyphs">50μm</text>
<rect x="173.5" y="232.8" width="33.4" height="2.4" fill="#fff"/>
<text x="0.2" y="10.4" font-size="11.0" font-weight="bold" fill="#000" text-anchor="start" textLength="15.8" lengthAdjust="spacingAndGlyphs" >(A)</text>
<text x="338.0" y="9.9" font-size="11.0" font-weight="bold" fill="#000" text-anchor="start" textLength="15.9" lengthAdjust="spacingAndGlyphs" >(B)</text>
<text x="340.4" y="136.8" font-size="11.2" font-weight="bold" fill="#000" text-anchor="start" textLength="16.8" lengthAdjust="spacingAndGlyphs" >(C)</text>
<text x="-0.4" y="294.8" font-size="11.2" font-weight="bold" fill="#000" text-anchor="start" textLength="16.6" lengthAdjust="spacingAndGlyphs" >(D)</text>
<text x="258.6" y="295.0" font-size="11.2" font-weight="bold" fill="#000" text-anchor="start" textLength="16.4" lengthAdjust="spacingAndGlyphs" >(E)</text>
<text x="259.0" y="404.0" font-size="10.9" font-weight="bold" fill="#000" text-anchor="start" textLength="15.2" lengthAdjust="spacingAndGlyphs" >(F)</text>
<text x="447.3" y="9.1" font-size="11.3" font-weight="bold" fill="#000" text-anchor="start" textLength="178.1" lengthAdjust="spacingAndGlyphs" >Melanoma scRNA-Seq dataset #1</text>
<text x="630.0" y="6.3" font-size="7.0" font-weight="normal" fill="#000" text-anchor="start" textLength="8" lengthAdjust="spacingAndGlyphs"  stroke="#000" stroke-width="0.3">28</text>
<g transform="translate(371.0,54.6) rotate(-90)"><text x="0" y="0" font-size="7.9" font-weight="bold" text-anchor="middle" textLength="95.4" lengthAdjust="spacingAndGlyphs">%of CD11b<tspan dy="-2.6" font-size="5.5">+</tspan><tspan dy="2.6">PDL1</tspan><tspan dy="-2.6" font-size="5.5">+</tspan><tspan dy="2.6"> B cells</tspan></text></g>
<g transform="translate(381.9,54.6) rotate(-90)"><text x="0" y="0" font-size="7.9" font-weight="bold" text-anchor="middle" textLength="53.4" lengthAdjust="spacingAndGlyphs">in total B cells</text></g>
<text x="394.6" y="97.0" font-size="8.4" font-weight="bold" fill="#000" text-anchor="end" >0</text>
<line x1="395.8" y1="94.0" x2="398.6" y2="94.0" stroke="#222" stroke-width="1" />
<text x="394.6" y="78.85" font-size="8.4" font-weight="bold" fill="#000" text-anchor="end" >10</text>
<line x1="395.8" y1="75.85" x2="398.6" y2="75.85" stroke="#222" stroke-width="1" />
<text x="394.6" y="60.7" font-size="8.4" font-weight="bold" fill="#000" text-anchor="end" >20</text>
<line x1="395.8" y1="57.7" x2="398.6" y2="57.7" stroke="#222" stroke-width="1" />
<text x="394.6" y="42.550000000000004" font-size="8.4" font-weight="bold" fill="#000" text-anchor="end" >30</text>
<line x1="395.8" y1="39.550000000000004" x2="398.6" y2="39.550000000000004" stroke="#222" stroke-width="1" />
<text x="394.6" y="24.400000000000006" font-size="8.4" font-weight="bold" fill="#000" text-anchor="end" >40</text>
<line x1="395.8" y1="21.400000000000006" x2="398.6" y2="21.400000000000006" stroke="#222" stroke-width="1" />
<line x1="398.6" y1="21.0" x2="398.6" y2="94.6" stroke="#222" stroke-width="1.1" />
<line x1="398.0" y1="94.0" x2="665.5" y2="94.0" stroke="#222" stroke-width="1.2" />
<line x1="399.5" y1="72.5" x2="665" y2="72.5" stroke="#e8333b" stroke-width="0.8" stroke-dasharray="2,1.9"/>
<rect x="404.00" y="66.23" width="8.8" height="27.77" fill="#7a7a7a" stroke="#111" stroke-width="1.1"/>
<ellipse cx="408.40" cy="66.03" rx="1.9" ry="1.3" fill="#000"/>
<line x1="408.4" y1="94" x2="408.4" y2="97.2" stroke="#222" stroke-width="1" />
<text transform="translate(411.00,103.2) rotate(-48)" font-size="7.8" font-weight="bold" text-anchor="end">Mel102</text>
<rect x="418.50" y="77.30" width="8.8" height="16.70" fill="#a2a2a2" stroke="#111" stroke-width="1.1"/>
<ellipse cx="422.90" cy="77.10" rx="1.9" ry="1.3" fill="#000"/>
<line x1="422.9" y1="94" x2="422.9" y2="97.2" stroke="#222" stroke-width="1" />
<text transform="translate(425.50,103.2) rotate(-48)" font-size="7.8" font-weight="bold" text-anchor="end">Mel103</text>
<rect x="433.00" y="76.21" width="8.8" height="17.79" fill="#858585" stroke="#111" stroke-width="1.1"/>
<ellipse cx="437.40" cy="76.01" rx="1.9" ry="1.3" fill="#000"/>
<line x1="437.4" y1="94" x2="437.4" y2="97.2" stroke="#222" stroke-width="1" />
<text transform="translate(440.00,103.2) rotate(-48)" font-size="7.8" font-weight="bold" text-anchor="end">Mel105</text>
<rect x="447.50" y="83.84" width="8.8" height="10.16" fill="#dedede" stroke="#111" stroke-width="1.1"/>
<ellipse cx="451.90" cy="83.64" rx="1.9" ry="1.3" fill="#000"/>
<line x1="451.9" y1="94" x2="451.9" y2="97.2" stroke="#222" stroke-width="1" />
<text transform="translate(454.50,103.2) rotate(-48)" font-size="7.8" font-weight="bold" text-anchor="end">Mel106</text>
<rect x="462.00" y="60.24" width="8.8" height="33.76" fill="#5a5a5a" stroke="#111" stroke-width="1.1"/>
<ellipse cx="466.40" cy="60.04" rx="1.9" ry="1.3" fill="#000"/>
<line x1="466.4" y1="94" x2="466.4" y2="97.2" stroke="#222" stroke-width="1" />
<text transform="translate(469.00,103.2) rotate(-48)" font-size="7.8" font-weight="bold" text-anchor="end">Mel112</text>
<rect x="476.50" y="73.13" width="8.8" height="20.87" fill="#a2a2a2" stroke="#111" stroke-width="1.1"/>
<ellipse cx="480.90" cy="72.93" rx="1.9" ry="1.3" fill="#000"/>
<line x1="480.9" y1="94" x2="480.9" y2="97.2" stroke="#222" stroke-width="1" />
<text transform="translate(483.50,103.2) rotate(-48)" font-size="7.8" font-weight="bold" text-anchor="end">Mel116</text>
<rect x="491.00" y="93.46" width="8.8" height="0.54" fill="#9a9a9a" stroke="#111" stroke-width="1.1"/>
<ellipse cx="495.40" cy="93.26" rx="1.9" ry="1.3" fill="#000"/>
<line x1="495.4" y1="94" x2="495.4" y2="97.2" stroke="#222" stroke-width="1" />
<text transform="translate(498.00,103.2) rotate(-48)" font-size="7.8" font-weight="bold" text-anchor="end">Mel121.1</text>
<rect x="505.50" y="86.20" width="8.8" height="7.80" fill="#e4e4e4" stroke="#111" stroke-width="1.1"/>
<ellipse cx="509.90" cy="86.00" rx="1.9" ry="1.3" fill="#000"/>
<line x1="509.9" y1="94" x2="509.9" y2="97.2" stroke="#222" stroke-width="1" />
<text transform="translate(512.50,103.2) rotate(-48)" font-size="7.8" font-weight="bold" text-anchor="end">Mel128</text>
<rect x="520.00" y="87.65" width="8.8" height="6.35" fill="#9c9c9c" stroke="#111" stroke-width="1.1"/>
<ellipse cx="524.40" cy="87.45" rx="1.9" ry="1.3" fill="#000"/>
<line x1="524.4" y1="94" x2="524.4" y2="97.2" stroke="#222" stroke-width="1" />
<text transform="translate(527.00,103.2) rotate(-48)" font-size="7.8" font-weight="bold" text-anchor="end">Mel478</text>
<rect x="534.50" y="72.22" width="8.8" height="21.78" fill="#767676" stroke="#111" stroke-width="1.1"/>
<ellipse cx="538.90" cy="72.02" rx="1.9" ry="1.3" fill="#000"/>
<line x1="538.9" y1="94" x2="538.9" y2="97.2" stroke="#222" stroke-width="1" />
<text transform="translate(541.50,103.2) rotate(-48)" font-size="7.8" font-weight="bold" text-anchor="end">Mel60</text>
<rect x="549.00" y="59.88" width="8.8" height="34.12" fill="#a6a6a6" stroke="#111" stroke-width="1.1"/>
<ellipse cx="553.40" cy="59.68" rx="1.9" ry="1.3" fill="#000"/>
<line x1="553.4" y1="94" x2="553.4" y2="97.2" stroke="#222" stroke-width="1" />
<text transform="translate(556.00,103.2) rotate(-48)" font-size="7.8" font-weight="bold" text-anchor="end">Mel72</text>
<rect x="563.50" y="38.10" width="8.8" height="55.90" fill="#7c7c7c" stroke="#111" stroke-width="1.1"/>
<ellipse cx="567.90" cy="37.90" rx="1.9" ry="1.3" fill="#000"/>
<line x1="567.9" y1="94" x2="567.9" y2="97.2" stroke="#222" stroke-width="1" />
<text transform="translate(570.50,103.2) rotate(-48)" font-size="7.8" font-weight="bold" text-anchor="end">Mel74</text>
<rect x="578.00" y="84.02" width="8.8" height="9.98" fill="#e2e2e2" stroke="#111" stroke-width="1.1"/>
<ellipse cx="582.40" cy="83.82" rx="1.9" ry="1.3" fill="#000"/>
<line x1="582.4" y1="94" x2="582.4" y2="97.2" stroke="#222" stroke-width="1" />
<text transform="translate(585.00,103.2) rotate(-48)" font-size="7.8" font-weight="bold" text-anchor="end">Mel79</text>
<rect x="592.50" y="62.06" width="8.8" height="31.94" fill="#5e5e5e" stroke="#111" stroke-width="1.1"/>
<ellipse cx="596.90" cy="61.86" rx="1.9" ry="1.3" fill="#000"/>
<line x1="596.9" y1="94" x2="596.9" y2="97.2" stroke="#222" stroke-width="1" />
<text transform="translate(599.50,103.2) rotate(-48)" font-size="7.8" font-weight="bold" text-anchor="end">Mel80</text>
<rect x="607.00" y="70.04" width="8.8" height="23.96" fill="#a2a2a2" stroke="#111" stroke-width="1.1"/>
<ellipse cx="611.40" cy="69.84" rx="1.9" ry="1.3" fill="#000"/>
<line x1="611.4" y1="94" x2="611.4" y2="97.2" stroke="#222" stroke-width="1" />
<text transform="translate(614.00,103.2) rotate(-48)" font-size="7.8" font-weight="bold" text-anchor="end">Mel84</text>
<rect x="621.50" y="66.96" width="8.8" height="27.04" fill="#5a5a5a" stroke="#111" stroke-width="1.1"/>
<ellipse cx="625.90" cy="66.76" rx="1.9" ry="1.3" fill="#000"/>
<line x1="625.9" y1="94" x2="625.9" y2="97.2" stroke="#222" stroke-width="1" />
<text transform="translate(628.50,103.2) rotate(-48)" font-size="7.8" font-weight="bold" text-anchor="end">Mel88</text>
<rect x="636.00" y="84.02" width="8.8" height="9.98" fill="#e8e8e8" stroke="#111" stroke-width="1.1"/>
<ellipse cx="640.40" cy="83.82" rx="1.9" ry="1.3" fill="#000"/>
<line x1="640.4" y1="94" x2="640.4" y2="97.2" stroke="#222" stroke-width="1" />
<text transform="translate(643.00,103.2) rotate(-48)" font-size="7.8" font-weight="bold" text-anchor="end">Mel89</text>
<rect x="650.50" y="67.86" width="8.8" height="26.14" fill="#a2a2a2" stroke="#111" stroke-width="1.1"/>
<ellipse cx="654.90" cy="67.66" rx="1.9" ry="1.3" fill="#000"/>
<line x1="654.9" y1="94" x2="654.9" y2="97.2" stroke="#222" stroke-width="1" />
<text transform="translate(657.50,103.2) rotate(-48)" font-size="7.8" font-weight="bold" text-anchor="end">Mel94</text>
<text x="402.2" y="47.7" font-size="7.0" font-weight="bold" fill="#e8333b" text-anchor="start" textLength="123.4" lengthAdjust="spacingAndGlyphs" >Mean ± SEM % = 11.87 ± 1.72 %, n=18</text>
<text x="442.3" y="147.5" font-size="11.3" font-weight="bold" fill="#000" text-anchor="start" textLength="179.3" lengthAdjust="spacingAndGlyphs" >Melanoma scRNA-Seq dataset #2</text>
<text x="626.2" y="143.7" font-size="7.0" font-weight="normal" fill="#000" text-anchor="start" textLength="7.7" lengthAdjust="spacingAndGlyphs"  stroke="#000" stroke-width="0.3">29</text>
<g transform="translate(375.0,188.5) rotate(-90)"><text x="0" y="0" font-size="7.0" font-weight="bold" text-anchor="middle" textLength="87.7" lengthAdjust="spacingAndGlyphs">%of CD11b<tspan dy="-2.3" font-size="4.9">+</tspan><tspan dy="2.3">PDL1</tspan><tspan dy="-2.3" font-size="4.9">+</tspan><tspan dy="2.3"> B cells</tspan></text></g>
<g transform="translate(383.4,188.5) rotate(-90)"><text x="0" y="0" font-size="7.0" font-weight="bold" text-anchor="middle" textLength="48.3" lengthAdjust="spacingAndGlyphs">in total B cells</text></g>
<text x="395.4" y="226.5" font-size="7.8" font-weight="bold" fill="#000" text-anchor="end" >0</text>
<line x1="396.6" y1="223.7" x2="399.3" y2="223.7" stroke="#222" stroke-width="1" />
<text x="395.4" y="204.75" font-size="7.8" font-weight="bold" fill="#000" text-anchor="end" >20</text>
<line x1="396.6" y1="201.95" x2="399.3" y2="201.95" stroke="#222" stroke-width="1" />
<text x="395.4" y="183.0" font-size="7.8" font-weight="bold" fill="#000" text-anchor="end" >40</text>
<line x1="396.6" y1="180.2" x2="399.3" y2="180.2" stroke="#222" stroke-width="1" />
<text x="395.4" y="161.25" font-size="7.8" font-weight="bold" fill="#000" text-anchor="end" >60</text>
<line x1="396.6" y1="158.45" x2="399.3" y2="158.45" stroke="#222" stroke-width="1" />
<line x1="399.3" y1="158.2" x2="399.3" y2="224.3" stroke="#222" stroke-width="1.1" />
<line x1="398.7" y1="223.7" x2="684.5" y2="223.7" stroke="#222" stroke-width="1.2" />
<line x1="400" y1="210.50" x2="684.5" y2="210.50" stroke="#e8333b" stroke-width="0.8" stroke-dasharray="2,1.9"/>
<rect x="403.60" y="223.37" width="6.8" height="0.33" fill="#888" stroke="#111" stroke-width="1.0"/>
<ellipse cx="407.00" cy="222.87" rx="1.5" ry="1.2" fill="#000"/>
<line x1="407.0" y1="223.7" x2="407.0" y2="226.5" stroke="#222" stroke-width="0.9" />
<text transform="translate(410.60,232.4) rotate(-42)" font-size="7.4" font-weight="bold" fill="#111" text-anchor="end">Post_P1_2</text>
<rect x="414.80" y="221.85" width="6.8" height="1.85" fill="#8a8a8a" stroke="#111" stroke-width="1.0"/>
<ellipse cx="418.20" cy="221.35" rx="1.5" ry="1.2" fill="#000"/>
<line x1="418.2" y1="223.7" x2="418.2" y2="226.5" stroke="#222" stroke-width="0.9" />
<text transform="translate(421.80,232.4) rotate(-42)" font-size="7.4" font-weight="bold" fill="#111" text-anchor="end">Post_P13</text>
<rect x="426.00" y="212.82" width="6.8" height="10.88" fill="#7a7a7a" stroke="#111" stroke-width="1.0"/>
<ellipse cx="429.40" cy="212.32" rx="1.5" ry="1.2" fill="#000"/>
<line x1="429.4" y1="223.7" x2="429.4" y2="226.5" stroke="#222" stroke-width="0.9" />
<text transform="translate(433.00,232.4) rotate(-42)" font-size="7.4" font-weight="bold" fill="#111" text-anchor="end">Post_P14</text>
<rect x="437.20" y="212.28" width="6.8" height="11.42" fill="#e0e0e0" stroke="#111" stroke-width="1.0"/>
<ellipse cx="440.60" cy="211.78" rx="1.5" ry="1.2" fill="#000"/>
<line x1="440.6" y1="223.7" x2="440.6" y2="226.5" stroke="#222" stroke-width="0.9" />
<text transform="translate(444.20,232.4) rotate(-42)" font-size="7.4" font-weight="bold" fill="#111" text-anchor="end">Post_P16</text>
<rect x="448.40" y="197.16" width="6.8" height="26.53" fill="#555" stroke="#111" stroke-width="1.0"/>
<ellipse cx="451.80" cy="196.66" rx="1.5" ry="1.2" fill="#000"/>
<line x1="451.8" y1="223.7" x2="451.8" y2="226.5" stroke="#222" stroke-width="0.9" />
<text transform="translate(455.40,232.4) rotate(-42)" font-size="7.4" font-weight="bold" fill="#111" text-anchor="end">Post_P17</text>
<rect x="459.60" y="214.46" width="6.8" height="9.24" fill="#999" stroke="#111" stroke-width="1.0"/>
<ellipse cx="463.00" cy="213.96" rx="1.5" ry="1.2" fill="#000"/>
<line x1="463.0" y1="223.7" x2="463.0" y2="226.5" stroke="#222" stroke-width="0.9" />
<text transform="translate(466.60,232.4) rotate(-42)" font-size="7.4" font-weight="bold" fill="#111" text-anchor="end">Post_P18</text>
<rect x="470.80" y="220.76" width="6.8" height="2.94" fill="#777" stroke="#111" stroke-width="1.0"/>
<ellipse cx="474.20" cy="220.26" rx="1.5" ry="1.2" fill="#000"/>
<line x1="474.2" y1="223.7" x2="474.2" y2="226.5" stroke="#222" stroke-width="0.9" />
<text transform="translate(477.80,232.4) rotate(-42)" font-size="7.4" font-weight="bold" fill="#111" text-anchor="end">Post_P19</text>
<rect x="482.00" y="214.24" width="6.8" height="9.46" fill="#e2e2e2" stroke="#111" stroke-width="1.0"/>
<ellipse cx="485.40" cy="213.74" rx="1.5" ry="1.2" fill="#000"/>
<line x1="485.4" y1="223.7" x2="485.4" y2="226.5" stroke="#222" stroke-width="0.9" />
<text transform="translate(489.00,232.4) rotate(-42)" font-size="7.4" font-weight="bold" fill="#111" text-anchor="end">Post_P20</text>
<rect x="493.20" y="215.98" width="6.8" height="7.72" fill="#9a9a9a" stroke="#111" stroke-width="1.0"/>
<ellipse cx="496.60" cy="215.48" rx="1.5" ry="1.2" fill="#000"/>
<line x1="496.6" y1="223.7" x2="496.6" y2="226.5" stroke="#222" stroke-width="0.9" />
<text transform="translate(500.20,232.4) rotate(-42)" font-size="7.4" font-weight="bold" fill="#111" text-anchor="end">Post_P21</text>
<rect x="504.40" y="206.08" width="6.8" height="17.62" fill="#777" stroke="#111" stroke-width="1.0"/>
<ellipse cx="507.80" cy="205.58" rx="1.5" ry="1.2" fill="#000"/>
<line x1="507.8" y1="223.7" x2="507.8" y2="226.5" stroke="#222" stroke-width="0.9" />
<text transform="translate(511.40,232.4) rotate(-42)" font-size="7.4" font-weight="bold" fill="#111" text-anchor="end">Post_P23</text>
<rect x="515.60" y="162.15" width="6.8" height="61.55" fill="#a2a2a2" stroke="#111" stroke-width="1.0"/>
<ellipse cx="519.00" cy="161.65" rx="1.5" ry="1.2" fill="#000"/>
<line x1="519.0" y1="223.7" x2="519.0" y2="226.5" stroke="#222" stroke-width="0.9" />
<text transform="translate(522.60,232.4) rotate(-42)" font-size="7.4" font-weight="bold" fill="#111" text-anchor="end">Post_P23_2</text>
<rect x="526.80" y="202.38" width="6.8" height="21.31" fill="#666" stroke="#111" stroke-width="1.0"/>
<ellipse cx="530.20" cy="201.88" rx="1.5" ry="1.2" fill="#000"/>
<line x1="530.2" y1="223.7" x2="530.2" y2="226.5" stroke="#222" stroke-width="0.9" />
<text transform="translate(533.80,232.4) rotate(-42)" font-size="7.4" font-weight="bold" fill="#111" text-anchor="end">Post_P30</text>
<rect x="538.00" y="221.31" width="6.8" height="2.39" fill="#eeeeee" stroke="#111" stroke-width="1.0"/>
<ellipse cx="541.40" cy="220.81" rx="1.5" ry="1.2" fill="#000"/>
<line x1="541.4" y1="223.7" x2="541.4" y2="226.5" stroke="#222" stroke-width="0.9" />
<text transform="translate(545.00,232.4) rotate(-42)" font-size="7.4" font-weight="bold" fill="#111" text-anchor="end">Post_P4</text>
<rect x="549.20" y="188.03" width="6.8" height="35.67" fill="#555" stroke="#111" stroke-width="1.0"/>
<ellipse cx="552.60" cy="187.53" rx="1.5" ry="1.2" fill="#000"/>
<line x1="552.6" y1="223.7" x2="552.6" y2="226.5" stroke="#222" stroke-width="0.9" />
<text transform="translate(556.20,232.4) rotate(-42)" font-size="7.4" font-weight="bold" fill="#111" text-anchor="end">Post_P6</text>
<rect x="560.40" y="217.94" width="6.8" height="5.76" fill="#9a9a9a" stroke="#111" stroke-width="1.0"/>
<ellipse cx="563.80" cy="217.44" rx="1.5" ry="1.2" fill="#000"/>
<line x1="563.8" y1="223.7" x2="563.8" y2="226.5" stroke="#222" stroke-width="0.9" />
<text transform="translate(567.40,232.4) rotate(-42)" font-size="7.4" font-weight="bold" fill="#111" text-anchor="end">Post_P8</text>
<rect x="571.60" y="214.89" width="6.8" height="8.81" fill="#555" stroke="#111" stroke-width="1.0"/>
<ellipse cx="575.00" cy="214.39" rx="1.5" ry="1.2" fill="#000"/>
<line x1="575.0" y1="223.7" x2="575.0" y2="226.5" stroke="#222" stroke-width="0.9" />
<text transform="translate(578.60,232.4) rotate(-42)" font-size="7.4" font-weight="bold" fill="#111" text-anchor="end">Pre_P24</text>
<rect x="582.80" y="220.00" width="6.8" height="3.70" fill="#f0f0f0" stroke="#111" stroke-width="1.0"/>
<ellipse cx="586.20" cy="219.50" rx="1.5" ry="1.2" fill="#000"/>
<line x1="586.2" y1="223.7" x2="586.2" y2="226.5" stroke="#222" stroke-width="0.9" />
<text transform="translate(589.80,232.4) rotate(-42)" font-size="7.4" font-weight="bold" fill="#111" text-anchor="end">Pre_P26</text>
<rect x="593.80" y="213.91" width="7.2" height="9.79" fill="#a8a8a8"/>
<ellipse cx="597.40" cy="213.41" rx="1.5" ry="1.2" fill="#000"/>
<line x1="597.4" y1="223.7" x2="597.4" y2="226.5" stroke="#222" stroke-width="0.9" />
<text transform="translate(601.00,232.4) rotate(-42)" font-size="7.4" font-weight="bold" fill="#111" text-anchor="end">Pre_P29</text>
<rect x="605.00" y="223.48" width="7.2" height="0.22" fill="#888"/>
<ellipse cx="608.60" cy="222.98" rx="1.5" ry="1.2" fill="#000"/>
<line x1="608.6" y1="223.7" x2="608.6" y2="226.5" stroke="#222" stroke-width="0.9" />
<text transform="translate(612.20,232.4) rotate(-42)" font-size="7.4" font-weight="bold" fill="#111" text-anchor="end">Pre_P3</text>
<rect x="616.20" y="222.39" width="7.2" height="1.31" fill="#999"/>
<ellipse cx="619.80" cy="221.89" rx="1.5" ry="1.2" fill="#000"/>
<line x1="619.8" y1="223.7" x2="619.8" y2="226.5" stroke="#222" stroke-width="0.9" />
<text transform="translate(623.40,232.4) rotate(-42)" font-size="7.4" font-weight="bold" fill="#111" text-anchor="end">Pre_P33</text>
<rect x="627.40" y="213.91" width="7.2" height="9.79" fill="#8a8a8a"/>
<ellipse cx="631.00" cy="213.41" rx="1.5" ry="1.2" fill="#000"/>
<line x1="631.0" y1="223.7" x2="631.0" y2="226.5" stroke="#222" stroke-width="0.9" />
<text transform="translate(634.60,232.4) rotate(-42)" font-size="7.4" font-weight="bold" fill="#111" text-anchor="end">Pre_P35</text>
<rect x="638.60" y="208.47" width="7.2" height="15.22" fill="#d8d8d8"/>
<ellipse cx="642.20" cy="207.97" rx="1.5" ry="1.2" fill="#000"/>
<line x1="642.2" y1="223.7" x2="642.2" y2="226.5" stroke="#222" stroke-width="0.9" />
<text transform="translate(645.80,232.4) rotate(-42)" font-size="7.4" font-weight="bold" fill="#111" text-anchor="end">Pre_P4</text>
<rect x="649.80" y="184.55" width="7.2" height="39.15" fill="#5f5f5f"/>
<ellipse cx="653.40" cy="184.05" rx="1.5" ry="1.2" fill="#000"/>
<line x1="653.4" y1="223.7" x2="653.4" y2="226.5" stroke="#222" stroke-width="0.9" />
<text transform="translate(657.00,232.4) rotate(-42)" font-size="7.4" font-weight="bold" fill="#111" text-anchor="end">Pre_P6</text>
<rect x="661.00" y="219.46" width="7.2" height="4.24" fill="#acacac"/>
<ellipse cx="664.60" cy="218.96" rx="1.5" ry="1.2" fill="#000"/>
<line x1="664.5999999999999" y1="223.7" x2="664.5999999999999" y2="226.5" stroke="#222" stroke-width="0.9" />
<text transform="translate(668.20,232.4) rotate(-42)" font-size="7.4" font-weight="bold" fill="#111" text-anchor="end">Pre_P7</text>
<rect x="672.20" y="204.45" width="7.2" height="19.25" fill="#666"/>
<ellipse cx="675.80" cy="203.95" rx="1.5" ry="1.2" fill="#000"/>
<line x1="675.8" y1="223.7" x2="675.8" y2="226.5" stroke="#222" stroke-width="0.9" />
<text transform="translate(679.40,232.4) rotate(-42)" font-size="7.4" font-weight="bold" fill="#111" text-anchor="end">Pre_P8</text>
<text x="402.7" y="176.6" font-size="6.3" font-weight="bold" fill="#e8333b" text-anchor="start" textLength="110.5" lengthAdjust="spacingAndGlyphs" >Mean ± SEM % = 12.70 ± 2.62 %, n=25</text>
<text x="105.9" y="303.6" font-size="10.9" font-weight="bold" fill="#000" text-anchor="middle" >αPD1</text>
<text x="105.9" y="314.8" font-size="10.9" font-weight="bold" fill="#000" text-anchor="middle" textLength="54.6" lengthAdjust="spacingAndGlyphs" >responses</text>
<text x="69.6" y="434.79999999999995" font-size="10.6" font-weight="bold" fill="#000" text-anchor="end" >0</text>
<line x1="70.8" y1="430.9" x2="74.8" y2="430.9" stroke="#444" stroke-width="1.3" />
<text x="69.6" y="398.4" font-size="10.6" font-weight="bold" fill="#000" text-anchor="end" >20</text>
<line x1="70.8" y1="394.5" x2="74.8" y2="394.5" stroke="#444" stroke-width="1.3" />
<text x="69.6" y="361.99999999999994" font-size="10.6" font-weight="bold" fill="#000" text-anchor="end" >40</text>
<line x1="70.8" y1="358.09999999999997" x2="74.8" y2="358.09999999999997" stroke="#444" stroke-width="1.3" />
<text x="69.6" y="325.59999999999997" font-size="10.6" font-weight="bold" fill="#000" text-anchor="end" >60</text>
<line x1="70.8" y1="321.7" x2="74.8" y2="321.7" stroke="#444" stroke-width="1.3" />
<line x1="74.8" y1="320.6" x2="74.8" y2="431.5" stroke="#555" stroke-width="1.6" />
<line x1="74.0" y1="431.0" x2="149.0" y2="431.0" stroke="#555" stroke-width="1.6" />
<g transform="translate(40.2,373.5) rotate(-90)"><text x="0" y="0" font-size="10.8" font-weight="bold" text-anchor="middle" textLength="132.9" lengthAdjust="spacingAndGlyphs">%of CD11b<tspan dy="-3.6" font-size="7.5">+</tspan><tspan dy="3.6">PDL1</tspan><tspan dy="-3.6" font-size="7.5">+</tspan><tspan dy="3.6"> B cells</tspan></text></g>
<g transform="translate(52.4,373.9) rotate(-90)"><text x="0" y="0" font-size="10.8" font-weight="bold" text-anchor="middle" textLength="73.7" lengthAdjust="spacingAndGlyphs">in total B cells</text></g>
<line x1="95.6" y1="364.3" x2="127.3" y2="370.0" stroke="#111" stroke-width="1.1" />
<line x1="95.6" y1="397.8" x2="127.3" y2="420.3" stroke="#111" stroke-width="1.1" />
<line x1="95.6" y1="404.4" x2="127.3" y2="425.2" stroke="#111" stroke-width="1.1" />
<circle cx="95.60" cy="413.10" r="2.0" fill="#000" />
<circle cx="95.60" cy="414.90" r="2.0" fill="#000" />
<circle cx="95.60" cy="416.60" r="2.0" fill="#000" />
<circle cx="95.60" cy="423.00" r="2.0" fill="#000" />
<circle cx="95.60" cy="426.40" r="2.0" fill="#000" />
<circle cx="95.60" cy="429.40" r="2.0" fill="#000" />
<circle cx="95.60" cy="431.50" r="2.0" fill="#000" />
<circle cx="127.30" cy="326.10" r="2.0" fill="#000" />
<circle cx="127.30" cy="385.10" r="2.0" fill="#000" />
<circle cx="127.30" cy="394.10" r="2.0" fill="#000" />
<circle cx="127.30" cy="400.40" r="2.0" fill="#000" />
<circle cx="127.30" cy="409.80" r="2.0" fill="#000" />
<circle cx="127.30" cy="412.00" r="2.0" fill="#000" />
<circle cx="127.30" cy="414.70" r="2.0" fill="#000" />
<circle cx="127.30" cy="417.50" r="2.0" fill="#000" />
<circle cx="127.30" cy="427.40" r="2.0" fill="#000" />
<circle cx="127.30" cy="430.60" r="2.0" fill="#000" />
<circle cx="95.60" cy="364.30" r="2.2" fill="#ee4c50" />
<circle cx="127.30" cy="370.00" r="2.2" fill="#ee4c50" />
<circle cx="95.60" cy="397.80" r="2.2" fill="#4fe04a" />
<circle cx="95.60" cy="404.40" r="2.2" fill="#4fe04a" />
<circle cx="127.30" cy="420.30" r="2.2" fill="#4fe04a" />
<circle cx="127.30" cy="425.20" r="2.2" fill="#4fe04a" />
<text x="168.4" y="348.3" font-size="10.0" font-weight="bold" fill="#ee4c50" text-anchor="middle" textLength="71.9" lengthAdjust="spacingAndGlyphs" >Non-responder</text>
<text x="168.4" y="359.4" font-size="10.0" font-weight="bold" fill="#ee4c50" text-anchor="middle" >8%<tspan stroke="#ee4c50" stroke-width="0.9">↓</tspan> from</text>
<text x="168.4" y="370.6" font-size="10.0" font-weight="bold" fill="#ee4c50" text-anchor="middle" >baseline</text>
<text x="174.3" y="404.8" font-size="10.0" font-weight="bold" fill="#4fe04a" text-anchor="middle" textLength="58.3" lengthAdjust="spacingAndGlyphs" >Responders</text>
<text x="174.3" y="415.5" font-size="10.0" font-weight="bold" fill="#4fe04a" text-anchor="middle" >67%<tspan stroke="#4fe04a" stroke-width="0.9">↓</tspan> and 82%<tspan stroke="#4fe04a" stroke-width="0.9">↓</tspan></text>
<text x="174.3" y="426.6" font-size="10.0" font-weight="bold" fill="#4fe04a" text-anchor="middle" >from baseline</text>
<text x="96.0" y="446.5" font-size="10.8" font-weight="bold" fill="#000" text-anchor="middle" textLength="17.4" lengthAdjust="spacingAndGlyphs" >Pre</text>
<text x="127.0" y="446.5" font-size="10.8" font-weight="bold" fill="#000" text-anchor="middle" textLength="23.8" lengthAdjust="spacingAndGlyphs" >Post</text>
<text x="66.2" y="457.4" font-size="8.4" font-weight="normal" fill="#222" text-anchor="start" textLength="13.7" lengthAdjust="spacingAndGlyphs"  stroke="#222" stroke-width="0.3">n =</text>
<text x="96.5" y="457.4" font-size="8.4" font-weight="normal" fill="#222" text-anchor="middle"  stroke="#222" stroke-width="0.3">10</text>
<text x="127.7" y="457.4" font-size="8.4" font-weight="normal" fill="#222" text-anchor="middle"  stroke="#222" stroke-width="0.3">15</text>
<text x="23.8" y="479.5" font-size="11.3" font-weight="bold" fill="#000" text-anchor="start" textLength="178.9" lengthAdjust="spacingAndGlyphs" >Melanoma scRNA-Seq dataset #2</text>
<text x="207.0" y="475.3" font-size="7.2" font-weight="normal" fill="#000" text-anchor="start" textLength="7.3" lengthAdjust="spacingAndGlyphs"  stroke="#000" stroke-width="0.3">29</text>
<text x="288.8" y="318.3" font-size="11.2" font-weight="bold" fill="#000" text-anchor="start" textLength="54.6" lengthAdjust="spacingAndGlyphs" >Melanoma</text>
<text x="288.8" y="332.3" font-size="11.2" font-weight="bold" fill="#000" text-anchor="start" textLength="61.2" lengthAdjust="spacingAndGlyphs" >scRNA-Seq</text>
<text x="288.8" y="345.5" font-size="11.2" font-weight="bold" fill="#000" text-anchor="start" >dataset #1</text>
<text x="347.4" y="342.0" font-size="7.4" font-weight="normal" fill="#000" text-anchor="start" textLength="7.9" lengthAdjust="spacingAndGlyphs"  stroke="#000" stroke-width="0.3">28</text>
<text x="458.8" y="291.8" font-size="10.0" font-weight="bold" fill="#000" text-anchor="start" textLength="112.3" lengthAdjust="spacingAndGlyphs" >CD40 mRNA per B cells</text>
<text x="384.4" y="317.4" font-size="8.7" font-weight="bold" textLength="62.5" lengthAdjust="spacingAndGlyphs">CD11b<tspan dy="-3" font-size="6">+</tspan><tspan dy="3">PDL1</tspan><tspan dy="-3" font-size="6">+</tspan></text>
<text x="388.8" y="342.4" font-size="8.7" font-weight="bold" textLength="58.6" lengthAdjust="spacingAndGlyphs">CD11b<tspan dy="-3" font-size="6">-</tspan><tspan dy="3">PDL1</tspan><tspan dy="-3" font-size="6">-</tspan></text>
<line x1="454.5" y1="297.0" x2="454.5" y2="359.4" stroke="#222" stroke-width="1.1" />
<line x1="454.0" y1="358.8" x2="575.8" y2="358.8" stroke="#222" stroke-width="1.1" />
<line x1="450.8" y1="315.3" x2="454.5" y2="315.3" stroke="#222" stroke-width="1" />
<line x1="450.8" y1="341.1" x2="454.5" y2="341.1" stroke="#222" stroke-width="1" />
<line x1="454.3" y1="358.8" x2="454.3" y2="361.6" stroke="#222" stroke-width="1" />
<text x="453.1" y="371.8" font-size="8.4" font-weight="bold" fill="#000" text-anchor="middle" >-2</text>
<line x1="474.5" y1="358.8" x2="474.5" y2="361.6" stroke="#222" stroke-width="1" />
<text x="474.5" y="371.8" font-size="8.4" font-weight="bold" fill="#000" text-anchor="middle" >0</text>
<line x1="494.7" y1="358.8" x2="494.7" y2="361.6" stroke="#222" stroke-width="1" />
<text x="494.7" y="371.8" font-size="8.4" font-weight="bold" fill="#000" text-anchor="middle" >2</text>
<line x1="514.9" y1="358.8" x2="514.9" y2="361.6" stroke="#222" stroke-width="1" />
<text x="514.9" y="371.8" font-size="8.4" font-weight="bold" fill="#000" text-anchor="middle" >4</text>
<line x1="535.1" y1="358.8" x2="535.1" y2="361.6" stroke="#222" stroke-width="1" />
<text x="535.1" y="371.8" font-size="8.4" font-weight="bold" fill="#000" text-anchor="middle" >6</text>
<line x1="555.3" y1="358.8" x2="555.3" y2="361.6" stroke="#222" stroke-width="1" />
<text x="555.3" y="371.8" font-size="8.4" font-weight="bold" fill="#000" text-anchor="middle" >8</text>
<line x1="575.5" y1="358.8" x2="575.5" y2="361.6" stroke="#222" stroke-width="1" />
<text x="575.5" y="371.8" font-size="8.4" font-weight="bold" fill="#000" text-anchor="middle" >10</text>
<path d="M459.86,315.30 C460.44,315.22 462.30,315.05 463.39,314.80 C464.48,314.55 465.24,314.48 466.42,313.80 C467.60,313.12 469.11,311.83 470.46,310.70 C471.81,309.57 473.15,307.13 474.50,307.00 C475.85,306.87 477.19,308.88 478.54,309.90 C479.89,310.92 481.40,312.42 482.58,313.10 C483.76,313.78 484.43,313.83 485.61,314.00 C486.79,314.17 488.13,314.13 489.65,314.10 C491.16,314.07 493.02,314.13 494.70,313.80 C496.38,313.47 497.73,312.57 499.75,312.10 C501.77,311.63 504.63,311.05 506.82,311.00 C509.01,310.95 510.86,311.35 512.88,311.80 C514.90,312.25 516.92,313.27 518.94,313.70 C520.96,314.13 522.31,314.23 525.00,314.40 C527.69,314.57 531.73,314.62 535.10,314.70 C538.47,314.77 541.83,314.75 545.20,314.85 C548.57,314.95 553.62,315.23 555.30,315.30 L555.30,315.30 C553.62,315.38 548.57,315.65 545.20,315.75 C541.83,315.85 538.47,315.83 535.10,315.90 C531.73,315.98 527.69,316.03 525.00,316.20 C522.31,316.37 520.96,316.47 518.94,316.90 C516.92,317.33 514.90,318.35 512.88,318.80 C510.86,319.25 509.01,319.65 506.82,319.60 C504.63,319.55 501.77,318.97 499.75,318.50 C497.73,318.03 496.38,317.13 494.70,316.80 C493.02,316.47 491.16,316.53 489.65,316.50 C488.13,316.47 486.79,316.43 485.61,316.60 C484.43,316.77 483.76,316.82 482.58,317.50 C481.40,318.18 479.89,319.68 478.54,320.70 C477.19,321.72 475.85,323.73 474.50,323.60 C473.15,323.47 471.81,321.03 470.46,319.90 C469.11,318.77 467.60,317.48 466.42,316.80 C465.24,316.12 464.48,316.05 463.39,315.80 C462.30,315.55 460.44,315.38 459.86,315.30Z" fill="#a4a4a4" stroke="#111" stroke-width="1.2" stroke-linejoin="round"/>
<line x1="470.46" y1="315.3" x2="531.06" y2="315.3" stroke="#111" stroke-width="1.6" stroke-dasharray="2.5,1.2"/>
<line x1="531.06" y1="315.3" x2="554.29" y2="315.3" stroke="#111" stroke-width="1.2" />
<line x1="474.5" y1="307.4" x2="474.5" y2="323.2" stroke="#e8333b" stroke-width="1.1" />
<line x1="507.325" y1="311.4" x2="507.325" y2="319.2" stroke="#e8333b" stroke-width="1.1" />
<circle cx="487.63" cy="315.30" r="1.2" fill="#e8333b" />
<path d="M468.64,341.10 C468.94,340.90 469.85,340.60 470.46,339.90 C471.07,339.20 471.60,338.05 472.28,336.90 C472.95,335.75 473.79,333.07 474.50,333.00 C475.21,332.93 475.91,335.42 476.52,336.50 C477.13,337.58 477.55,338.83 478.14,339.50 C478.73,340.17 478.98,340.30 480.06,340.50 C481.13,340.70 473.15,340.66 484.60,340.70 C496.05,340.74 537.88,340.68 548.74,340.75 C559.59,340.82 549.58,341.04 549.75,341.10 L549.75,341.10 C549.58,341.16 559.59,341.38 548.74,341.45 C537.88,341.52 496.05,341.46 484.60,341.50 C473.15,341.54 481.13,341.50 480.06,341.70 C478.98,341.90 478.73,342.03 478.14,342.70 C477.55,343.37 477.13,344.62 476.52,345.70 C475.91,346.78 475.21,349.27 474.50,349.20 C473.79,349.13 472.95,346.45 472.28,345.30 C471.60,344.15 471.07,343.00 470.46,342.30 C469.85,341.60 468.94,341.30 468.64,341.10Z" fill="#888" stroke="#111" stroke-width="1.2" stroke-linejoin="round"/>
<path d="M472.78,341.1 Q474.50,331 476.22,341.1 Q474.50,351.2 472.78,341.1Z" fill="#e8333b"/>
<path d="M559.6,315.2 H563.6 V341.8 H559.6" fill="none" stroke="#111" stroke-width="1.1"/>
<path d="M567.50,324.90 L568.18,326.67 L570.07,326.77 L568.59,327.96 L569.09,329.78 L567.50,328.75 L565.91,329.78 L566.41,327.96 L564.93,326.77 L566.82,326.67Z" fill="#f42a2a"/>
<path d="M573.50,324.90 L574.18,326.67 L576.07,326.77 L574.59,327.96 L575.09,329.78 L573.50,328.75 L571.91,329.78 L572.41,327.96 L570.93,326.77 L572.82,326.67Z" fill="#f42a2a"/>
<path d="M579.30,324.90 L579.98,326.67 L581.87,326.77 L580.39,327.96 L580.89,329.78 L579.30,328.75 L577.71,329.78 L578.21,327.96 L576.73,326.77 L578.62,326.67Z" fill="#f42a2a"/>
<path d="M585.20,324.90 L585.88,326.67 L587.77,326.77 L586.29,327.96 L586.79,329.78 L585.20,328.75 L583.61,329.78 L584.11,327.96 L582.63,326.77 L584.52,326.67Z" fill="#f42a2a"/>
<text x="591.1" y="307.4" font-size="9.7" font-weight="bold">CD40<tspan dy="-3.2" font-size="6.5">+</tspan><tspan dy="3.2"> %</tspan></text>
<text x="591.1" y="319.7" font-size="9.8" font-weight="normal" fill="#111" text-anchor="start" textLength="61.1" lengthAdjust="spacingAndGlyphs"  stroke="#111" stroke-width="0.3">62.4% (58/93)</text>
<text x="591.1" y="341.0" font-size="9.8" font-weight="normal" fill="#111" text-anchor="start" textLength="72.1" lengthAdjust="spacingAndGlyphs"  stroke="#111" stroke-width="0.3">53.4% (387/725)</text>
<text x="287.9" y="432.9" font-size="11.2" font-weight="bold" fill="#000" text-anchor="start" textLength="109.1" lengthAdjust="spacingAndGlyphs" >CD40 level in B cells</text>
<text x="287.9" y="446.5" font-size="11.2" font-weight="bold" fill="#000" text-anchor="start" >in response to αPD1</text>
<text x="287.9" y="459.7" font-size="11.2" font-weight="bold" fill="#000" text-anchor="start" >(Melanoma scRNA-Seq</text>
<text x="287.9" y="473.3" font-size="11.2" font-weight="bold">dataset #2 <tspan dy="-4" font-size="7">29</tspan><tspan dy="4">)</tspan></text>
<line x1="455.2" y1="395.9" x2="455.2" y2="493.9" stroke="#222" stroke-width="1.1" />
<line x1="454.7" y1="493.4" x2="552.3" y2="493.4" stroke="#222" stroke-width="1.1" />
<line x1="452.2" y1="396.4" x2="455.2" y2="396.4" stroke="#222" stroke-width="1" />
<text x="449.8" y="399.29999999999995" font-size="8.2" font-weight="normal" fill="#111" text-anchor="end"  stroke="#111" stroke-width="0.3">20</text>
<line x1="452.2" y1="415.8" x2="455.2" y2="415.8" stroke="#222" stroke-width="1" />
<text x="449.8" y="418.7" font-size="8.2" font-weight="normal" fill="#111" text-anchor="end"  stroke="#111" stroke-width="0.3">15</text>
<line x1="452.2" y1="435.2" x2="455.2" y2="435.2" stroke="#222" stroke-width="1" />
<text x="449.8" y="438.09999999999997" font-size="8.2" font-weight="normal" fill="#111" text-anchor="end"  stroke="#111" stroke-width="0.3">10</text>
<line x1="452.2" y1="454.6" x2="455.2" y2="454.6" stroke="#222" stroke-width="1" />
<text x="449.8" y="457.5" font-size="8.2" font-weight="normal" fill="#111" text-anchor="end"  stroke="#111" stroke-width="0.3">5</text>
<line x1="452.2" y1="474.0" x2="455.2" y2="474.0" stroke="#222" stroke-width="1" />
<text x="449.8" y="476.9" font-size="8.2" font-weight="normal" fill="#111" text-anchor="end"  stroke="#111" stroke-width="0.3">0</text>
<line x1="452.2" y1="493.4" x2="455.2" y2="493.4" stroke="#222" stroke-width="1" />
<text x="449.8" y="496.29999999999995" font-size="8.2" font-weight="normal" fill="#111" text-anchor="end"  stroke="#111" stroke-width="0.3">-5</text>
<line x1="457.5" y1="474.0" x2="552.3" y2="474.0" stroke="#444" stroke-width="1" stroke-dasharray="1,2.2"/>
<g transform="translate(436.6,444.7) rotate(-90)"><text x="0" y="0" font-size="8.1" font-weight="bold" text-anchor="middle" textLength="90.4" lengthAdjust="spacingAndGlyphs">CD40 mRNA per B cells</text></g>
<line x1="469.8" y1="493.4" x2="469.8" y2="497.0" stroke="#222" stroke-width="1" />
<line x1="492.2" y1="493.4" x2="492.2" y2="497.0" stroke="#222" stroke-width="1" />
<line x1="515.0" y1="493.4" x2="515.0" y2="497.0" stroke="#222" stroke-width="1" />
<line x1="537.4" y1="493.4" x2="537.4" y2="497.0" stroke="#222" stroke-width="1" />
<path d="M469.80,434.04 C469.90,434.36 470.23,435.26 470.40,435.98 C470.57,436.69 470.63,437.53 470.80,438.30 C470.97,439.08 471.40,439.86 471.40,440.63 C471.40,441.41 470.92,442.18 470.80,442.96 C470.68,443.74 470.70,444.32 470.70,445.29 C470.70,446.26 470.70,447.62 470.80,448.78 C470.90,449.94 470.88,451.30 471.30,452.27 C471.72,453.24 472.52,453.89 473.30,454.60 C474.08,455.31 475.37,455.96 476.00,456.54 C476.63,457.12 477.22,457.51 477.10,458.09 C476.98,458.67 475.88,459.32 475.30,460.03 C474.72,460.74 474.07,461.65 473.60,462.36 C473.13,463.07 472.85,463.59 472.50,464.30 C472.15,465.01 471.82,465.85 471.50,466.63 C471.18,467.40 470.88,468.31 470.60,468.96 C470.32,469.60 469.93,470.25 469.80,470.51 L469.80,470.51 C469.67,470.25 469.28,469.60 469.00,468.96 C468.72,468.31 468.42,467.40 468.10,466.63 C467.78,465.85 467.45,465.01 467.10,464.30 C466.75,463.59 466.47,463.07 466.00,462.36 C465.53,461.65 464.88,460.74 464.30,460.03 C463.72,459.32 462.62,458.67 462.50,458.09 C462.38,457.51 462.97,457.12 463.60,456.54 C464.23,455.96 465.52,455.31 466.30,454.60 C467.08,453.89 467.88,453.24 468.30,452.27 C468.72,451.30 468.70,449.94 468.80,448.78 C468.90,447.62 468.90,446.26 468.90,445.29 C468.90,444.32 468.92,443.74 468.80,442.96 C468.68,442.18 468.20,441.41 468.20,440.63 C468.20,439.86 468.63,439.08 468.80,438.30 C468.97,437.53 469.03,436.69 469.20,435.98 C469.37,435.26 469.70,434.36 469.80,434.04Z" fill="#fff" stroke="#111" stroke-width="1.3" stroke-linejoin="round"/>
<path d="M492.20,416.19 C492.30,417.09 492.60,420.13 492.80,421.62 C493.00,423.11 493.00,424.01 493.40,425.11 C493.80,426.21 494.43,426.92 495.20,428.22 C495.97,429.51 497.35,431.19 498.00,432.87 C498.65,434.55 499.18,436.56 499.10,438.30 C499.02,440.05 498.20,441.47 497.50,443.35 C496.80,445.22 495.02,447.81 494.90,449.56 C494.78,451.30 496.10,452.08 496.80,453.82 C497.50,455.57 498.85,458.03 499.10,460.03 C499.35,462.04 498.88,464.11 498.30,465.85 C497.72,467.60 496.42,469.02 495.60,470.51 C494.78,472.00 493.88,473.55 493.40,474.78 C492.92,476.00 492.90,476.78 492.70,477.88 C492.50,478.98 492.28,480.79 492.20,481.37 L492.20,481.37 C492.12,480.79 491.90,478.98 491.70,477.88 C491.50,476.78 491.48,476.00 491.00,474.78 C490.52,473.55 489.62,472.00 488.80,470.51 C487.98,469.02 486.68,467.60 486.10,465.85 C485.52,464.11 485.05,462.04 485.30,460.03 C485.55,458.03 486.90,455.57 487.60,453.82 C488.30,452.08 489.62,451.30 489.50,449.56 C489.38,447.81 487.60,445.22 486.90,443.35 C486.20,441.47 485.38,440.05 485.30,438.30 C485.22,436.56 485.75,434.55 486.40,432.87 C487.05,431.19 488.43,429.51 489.20,428.22 C489.97,426.92 490.60,426.21 491.00,425.11 C491.40,424.01 491.40,423.11 491.60,421.62 C491.80,420.13 492.10,417.09 492.20,416.19Z" fill="#fff" stroke="#111" stroke-width="1.3" stroke-linejoin="round"/>
<path d="M515.00,444.51 C515.10,444.77 515.37,445.61 515.60,446.06 C515.83,446.52 515.75,446.71 516.40,447.23 C517.05,447.75 518.72,448.65 519.50,449.17 C520.28,449.69 520.75,449.81 521.10,450.33 C521.45,450.85 521.40,451.75 521.60,452.27 C521.80,452.79 522.30,452.98 522.30,453.44 C522.30,453.89 521.75,454.54 521.60,454.99 C521.45,455.44 521.67,455.63 521.40,456.15 C521.13,456.67 520.43,457.45 520.00,458.09 C519.57,458.74 519.17,459.19 518.80,460.03 C518.43,460.87 517.93,462.17 517.80,463.14 C517.67,464.11 518.17,464.88 518.00,465.85 C517.83,466.82 517.17,467.99 516.80,468.96 C516.43,469.93 516.10,470.90 515.80,471.67 C515.50,472.45 515.13,473.29 515.00,473.61 L515.00,473.61 C514.87,473.29 514.50,472.45 514.20,471.67 C513.90,470.90 513.57,469.93 513.20,468.96 C512.83,467.99 512.17,466.82 512.00,465.85 C511.83,464.88 512.33,464.11 512.20,463.14 C512.07,462.17 511.57,460.87 511.20,460.03 C510.83,459.19 510.43,458.74 510.00,458.09 C509.57,457.45 508.87,456.67 508.60,456.15 C508.33,455.63 508.55,455.44 508.40,454.99 C508.25,454.54 507.70,453.89 507.70,453.44 C507.70,452.98 508.20,452.79 508.40,452.27 C508.60,451.75 508.55,450.85 508.90,450.33 C509.25,449.81 509.72,449.69 510.50,449.17 C511.28,448.65 512.95,447.75 513.60,447.23 C514.25,446.71 514.17,446.52 514.40,446.06 C514.63,445.61 514.90,444.77 515.00,444.51Z" fill="#fff" stroke="#111" stroke-width="1.3" stroke-linejoin="round"/>
<path d="M537.40,428.22 C537.50,428.60 537.80,429.77 538.00,430.54 C538.20,431.32 538.13,431.97 538.60,432.87 C539.07,433.78 540.37,434.94 540.80,435.98 C541.23,437.01 541.30,438.17 541.20,439.08 C541.10,439.99 540.53,440.70 540.20,441.41 C539.87,442.12 539.17,442.38 539.20,443.35 C539.23,444.32 539.68,445.93 540.40,447.23 C541.12,448.52 542.78,450.01 543.50,451.11 C544.22,452.21 544.70,452.85 544.70,453.82 C544.70,454.79 544.15,455.76 543.50,456.93 C542.85,458.09 541.62,459.64 540.80,460.81 C539.98,461.97 539.07,462.94 538.60,463.91 C538.13,464.88 538.20,465.72 538.00,466.63 C537.80,467.53 537.50,468.89 537.40,469.34 L537.40,469.34 C537.30,468.89 537.00,467.53 536.80,466.63 C536.60,465.72 536.67,464.88 536.20,463.91 C535.73,462.94 534.82,461.97 534.00,460.81 C533.18,459.64 531.95,458.09 531.30,456.93 C530.65,455.76 530.10,454.79 530.10,453.82 C530.10,452.85 530.58,452.21 531.30,451.11 C532.02,450.01 533.68,448.52 534.40,447.23 C535.12,445.93 535.57,444.32 535.60,443.35 C535.63,442.38 534.93,442.12 534.60,441.41 C534.27,440.70 533.70,439.99 533.60,439.08 C533.50,438.17 533.57,437.01 534.00,435.98 C534.43,434.94 535.73,433.78 536.20,432.87 C536.67,431.97 536.60,431.32 536.80,430.54 C537.00,429.77 537.30,428.60 537.40,428.22Z" fill="#fff" stroke="#111" stroke-width="1.3" stroke-linejoin="round"/>
<circle cx="469.80" cy="436.75" r="1.35" fill="#000" />
<circle cx="469.80" cy="439.08" r="1.35" fill="#000" />
<circle cx="469.80" cy="441.02" r="1.35" fill="#000" />
<circle cx="469.80" cy="443.74" r="1.35" fill="#000" />
<circle cx="469.80" cy="450.72" r="1.35" fill="#000" />
<circle cx="469.80" cy="453.44" r="1.35" fill="#000" />
<circle cx="468.30" cy="455.38" r="1.35" fill="#000" />
<circle cx="471.30" cy="455.76" r="1.35" fill="#000" />
<circle cx="466.80" cy="457.32" r="1.35" fill="#000" />
<circle cx="472.80" cy="457.70" r="1.35" fill="#000" />
<circle cx="468.80" cy="458.48" r="1.35" fill="#000" />
<circle cx="470.80" cy="458.87" r="1.35" fill="#000" />
<circle cx="465.30" cy="458.09" r="1.35" fill="#000" />
<circle cx="474.30" cy="458.48" r="1.35" fill="#000" />
<circle cx="467.80" cy="460.42" r="1.35" fill="#000" />
<circle cx="471.80" cy="460.81" r="1.35" fill="#000" />
<circle cx="469.80" cy="461.97" r="1.35" fill="#000" />
<circle cx="468.30" cy="463.91" r="1.35" fill="#000" />
<circle cx="471.30" cy="464.30" r="1.35" fill="#000" />
<circle cx="469.80" cy="466.24" r="1.35" fill="#000" />
<circle cx="469.80" cy="468.18" r="1.35" fill="#000" />
<circle cx="469.00" cy="460.03" r="1.35" fill="#000" />
<circle cx="470.60" cy="456.54" r="1.35" fill="#000" />
<circle cx="492.20" cy="427.44" r="1.3" fill="#000" />
<circle cx="488.70" cy="434.42" r="1.3" fill="#000" />
<circle cx="495.00" cy="433.26" r="1.3" fill="#000" />
<circle cx="495.00" cy="436.75" r="1.3" fill="#000" />
<circle cx="492.70" cy="441.02" r="1.3" fill="#000" />
<circle cx="488.70" cy="458.48" r="1.3" fill="#000" />
<circle cx="494.00" cy="461.97" r="1.3" fill="#000" />
<circle cx="491.70" cy="463.14" r="1.3" fill="#000" />
<circle cx="488.70" cy="464.30" r="1.3" fill="#000" />
<circle cx="495.20" cy="466.24" r="1.3" fill="#000" />
<circle cx="490.70" cy="469.34" r="1.3" fill="#000" />
<circle cx="492.70" cy="473.22" r="1.3" fill="#000" />
<circle cx="515.00" cy="447.62" r="1.3" fill="#000" />
<circle cx="512.00" cy="450.72" r="1.3" fill="#000" />
<circle cx="518.00" cy="450.72" r="1.3" fill="#000" />
<circle cx="510.50" cy="453.05" r="1.3" fill="#000" />
<circle cx="519.50" cy="453.44" r="1.3" fill="#000" />
<circle cx="513.50" cy="454.21" r="1.3" fill="#000" />
<circle cx="516.50" cy="454.60" r="1.3" fill="#000" />
<circle cx="512.00" cy="456.54" r="1.3" fill="#000" />
<circle cx="518.00" cy="457.32" r="1.3" fill="#000" />
<circle cx="515.00" cy="459.26" r="1.3" fill="#000" />
<circle cx="514.00" cy="461.58" r="1.3" fill="#000" />
<circle cx="516.00" cy="462.75" r="1.3" fill="#000" />
<circle cx="513.00" cy="464.69" r="1.3" fill="#000" />
<circle cx="516.50" cy="466.24" r="1.3" fill="#000" />
<circle cx="515.00" cy="467.79" r="1.3" fill="#000" />
<circle cx="515.00" cy="470.51" r="1.3" fill="#000" />
<circle cx="514.20" cy="452.27" r="1.3" fill="#000" />
<circle cx="515.80" cy="458.48" r="1.3" fill="#000" />
<circle cx="537.40" cy="434.42" r="1.3" fill="#000" />
<circle cx="535.60" cy="438.30" r="1.3" fill="#000" />
<circle cx="539.20" cy="439.08" r="1.3" fill="#000" />
<circle cx="537.40" cy="443.74" r="1.3" fill="#000" />
<circle cx="537.40" cy="447.62" r="1.3" fill="#000" />
<circle cx="533.90" cy="451.50" r="1.3" fill="#000" />
<circle cx="540.90" cy="451.11" r="1.3" fill="#000" />
<circle cx="535.90" cy="452.66" r="1.3" fill="#000" />
<circle cx="538.90" cy="455.38" r="1.3" fill="#000" />
<circle cx="532.90" cy="454.99" r="1.3" fill="#000" />
<circle cx="541.90" cy="454.60" r="1.3" fill="#000" />
<circle cx="537.40" cy="457.70" r="1.3" fill="#000" />
<circle cx="535.90" cy="460.03" r="1.3" fill="#000" />
<circle cx="538.90" cy="460.81" r="1.3" fill="#000" />
<circle cx="537.40" cy="462.75" r="1.3" fill="#000" />
<line x1="463.2" y1="458.48" x2="476.40000000000003" y2="458.48" stroke="#e8333b" stroke-width="1.7" />
<line x1="489.5" y1="453.436" x2="494.9" y2="453.436" stroke="#e8333b" stroke-width="1.7" />
<line x1="510.7" y1="456.928" x2="519.3" y2="456.928" stroke="#e8333b" stroke-width="1.7" />
<line x1="532.5" y1="453.824" x2="542.3" y2="453.824" stroke="#e8333b" stroke-width="1.7" />
<text x="468.2" y="409.8" font-size="8.0" font-weight="normal" fill="#333" text-anchor="start" textLength="29.0" lengthAdjust="spacingAndGlyphs"  stroke="#333" stroke-width="0.3">p=0.073</text>
<line x1="468.9" y1="413.7" x2="494.9" y2="413.7" stroke="#222" stroke-width="1.8" />
<text x="511.0" y="413.7" font-size="7.4" font-weight="normal" fill="#e8333b" text-anchor="start" textLength="27.0" lengthAdjust="spacingAndGlyphs"  stroke="#e8333b" stroke-width="0.3">p=0.024</text>
<text x="525.5" y="427.6" font-size="15" font-weight="bold" fill="#e8333b" text-anchor="middle" >*</text>
<line x1="513.0" y1="425.5" x2="539.3" y2="425.5" stroke="#222" stroke-width="1.8" />
<text x="469.8" y="506.0" font-size="7.8" font-weight="bold" fill="#111" text-anchor="middle" >- -</text>
<text x="492.2" y="506.0" font-size="7.8" font-weight="bold" fill="#111" text-anchor="middle" >+ +</text>
<text x="515.0" y="506.0" font-size="7.8" font-weight="bold" fill="#111" text-anchor="middle" >- -</text>
<text x="537.4" y="506.0" font-size="7.8" font-weight="bold" fill="#111" text-anchor="middle" >+ +</text>
<path d="M462.4,509.4 V513.2 H502.7 V509.4" fill="none" stroke="#222" stroke-width="1.2"/>
<path d="M507.4,509.4 V513.2 H547.2 V509.4" fill="none" stroke="#222" stroke-width="1.2"/>
<text x="466.3" y="522.3" font-size="8.0" font-weight="normal" fill="#222" text-anchor="start" textLength="35.4" lengthAdjust="spacingAndGlyphs"  stroke="#222" stroke-width="0.3">Pre-αPD1</text>
<text x="508.7" y="522.3" font-size="8.0" font-weight="normal" fill="#222" text-anchor="start" textLength="38.5" lengthAdjust="spacingAndGlyphs"  stroke="#222" stroke-width="0.3">Post-αPD1</text>
<text x="556.5" y="408.3" font-size="10.3" font-weight="bold" textLength="86.2" lengthAdjust="spacingAndGlyphs">- - , CD11b<tspan dy="-3.4" font-size="7">-</tspan><tspan dy="3.4">PDL1</tspan><tspan dy="-3.4" font-size="7">-</tspan></text>
<text x="556.5" y="423.1" font-size="10.3" font-weight="bold" textLength="90.4" lengthAdjust="spacingAndGlyphs">+ +, CD11b<tspan dy="-3.4" font-size="7">+</tspan><tspan dy="3.4">PDL1</tspan><tspan dy="-3.4" font-size="7">+</tspan></text>
</svg></body></html>
